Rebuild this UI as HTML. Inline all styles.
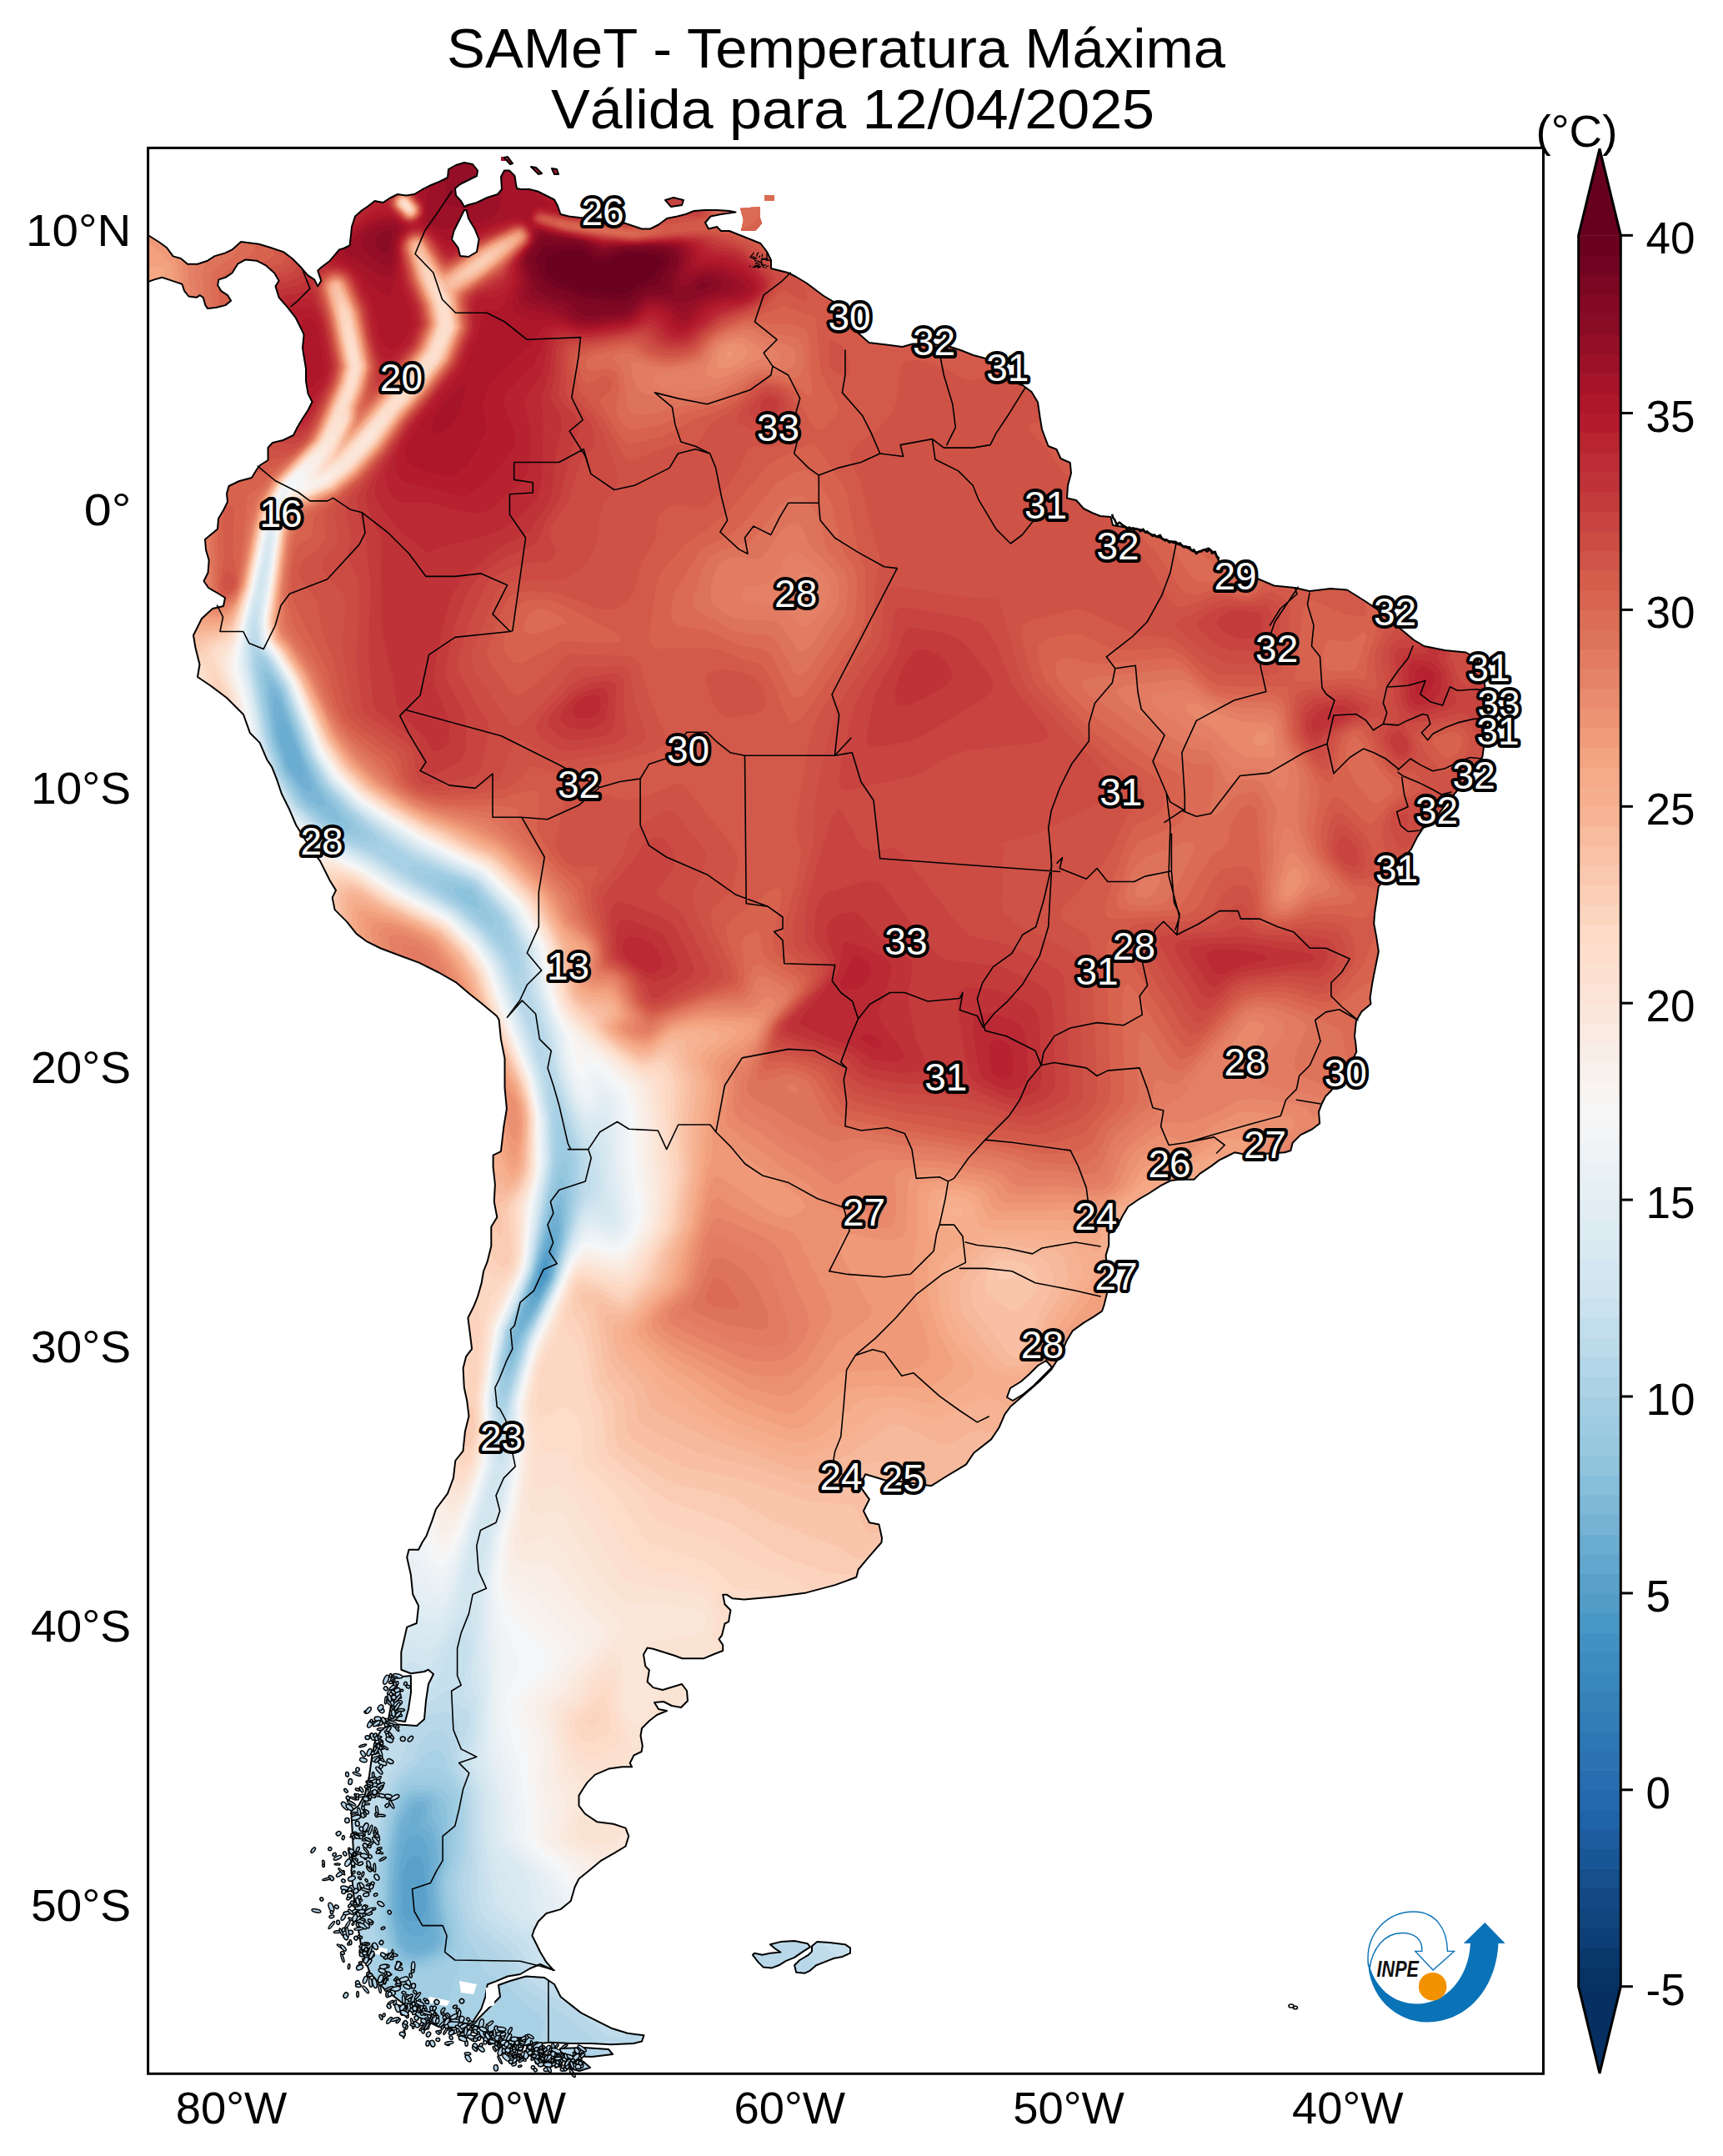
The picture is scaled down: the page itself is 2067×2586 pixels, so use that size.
<!DOCTYPE html><html><head><meta charset="utf-8"><style>html,body{margin:0;padding:0;background:#fff;overflow:hidden}svg{display:block}text{font-family:"Liberation Sans",sans-serif}</style></head><body>
<svg xmlns="http://www.w3.org/2000/svg" width="2067" height="2586" viewBox="0 0 2067 2586">
<rect width="2067" height="2586" fill="#fff"/>
<defs><clipPath id="land"><path d="M177.6 282.0 L190.3 290.0 L199.7 296.7 L207.7 307.4 L217.0 310.0 L225.0 316.7 L237.0 316.7 L249.1 312.7 L257.1 307.4 L270.4 303.4 L278.5 299.4 L289.1 290.0 L310.5 292.7 L323.8 296.7 L339.9 302.1 L350.5 310.0 L361.2 320.8 L369.2 330.1 L377.2 335.4 L381.2 343.4 L385.3 336.8 L381.2 324.8 L385.3 320.8 L395.9 312.7 L407.0 299.4 L412.0 298.0 L419.5 294.5 L421.0 282.0 L422.0 272.0 L426.0 259.5 L434.5 252.0 L442.0 247.0 L449.5 241.0 L459.5 243.0 L467.0 238.0 L477.0 233.0 L487.0 234.5 L497.0 233.0 L507.0 227.0 L517.0 222.0 L527.0 218.0 L537.0 213.0 L538.0 203.0 L547.0 198.0 L557.0 195.0 L567.0 197.0 L573.0 204.5 L572.0 211.0 L562.0 216.0 L552.0 221.0 L546.0 226.0 L547.0 234.5 L553.0 241.0 L557.0 248.0 L561.0 246.0 L572.0 243.0 L584.5 237.0 L597.0 233.0 L602.0 227.0 L601.0 212.0 L605.0 204.5 L611.0 204.5 L617.5 211.0 L619.0 221.0 L620.0 226.0 L625.0 227.0 L635.0 227.0 L645.0 229.5 L655.0 234.5 L665.0 239.5 L669.0 247.0 L672.5 257.0 L682.5 259.5 L695.0 261.0 L707.5 262.0 L725.0 263.0 L740.0 264.5 L755.0 269.5 L770.0 274.5 L780.0 274.5 L790.0 269.5 L800.0 262.0 L812.5 259.5 L822.5 257.0 L832.5 253.0 L845.0 252.0 L860.0 252.0 L875.0 253.0 L882.5 254.5 L865.0 257.0 L852.5 259.5 L846.0 267.0 L850.0 274.5 L860.0 272.0 L865.0 277.0 L875.0 277.0 L887.5 282.0 L900.0 287.0 L912.5 292.0 L920.0 302.0 L925.0 312.0 L925.0 322.0 L935.0 324.5 L945.0 327.0 L955.0 332.0 L967.5 339.5 L977.5 347.0 L987.5 354.5 L1000.0 362.0 L1012.0 372.0 L1022.0 386.0 L1030.0 400.0 L1042.5 411.0 L1067.5 414.0 L1082.5 416.0 L1095.0 412.5 L1117.5 412.5 L1140.0 416.0 L1152.5 420.0 L1167.5 426.0 L1182.5 430.0 L1200.0 440.0 L1215.0 457.5 L1227.5 462.5 L1237.5 470.0 L1245.0 482.5 L1247.5 500.0 L1250.0 515.0 L1257.5 535.0 L1267.5 539.0 L1272.5 550.0 L1283.8 555.0 L1285.0 567.5 L1281.0 582.5 L1280.0 597.5 L1291.0 600.0 L1300.0 610.0 L1310.0 615.0 L1320.0 619.0 L1332.5 620.0 L1335.0 630.0 L1350.0 632.5 L1367.5 635.0 L1385.0 642.5 L1405.0 650.0 L1420.0 655.0 L1435.0 662.5 L1450.0 657.5 L1459.0 665.0 L1462.0 673.0 L1480.0 683.0 L1508.5 694.0 L1528.5 702.5 L1553.5 705.0 L1571.0 709.0 L1596.0 706.0 L1616.0 707.5 L1636.0 720.0 L1651.0 730.0 L1666.0 742.0 L1681.0 755.0 L1696.0 767.5 L1708.5 775.0 L1733.5 780.0 L1758.5 782.5 L1772.0 790.0 L1781.0 820.0 L1783.5 840.0 L1783.0 865.0 L1781.0 887.5 L1778.5 907.5 L1766.0 925.0 L1751.0 945.0 L1736.0 962.5 L1716.0 990.0 L1707.6 992.8 L1700.2 1003.9 L1692.8 1018.7 L1670.0 1045.0 L1653.8 1063.3 L1652.0 1076.3 L1649.2 1094.8 L1648.2 1107.8 L1651.0 1122.6 L1653.8 1141.2 L1650.1 1159.7 L1646.4 1178.3 L1643.6 1196.8 L1644.5 1204.3 L1633.4 1213.5 L1626.9 1224.7 L1625.0 1243.2 L1626.2 1250.0 L1627.3 1261.6 L1623.9 1268.6 L1610.0 1290.0 L1597.2 1308.0 L1590.2 1315.0 L1585.5 1324.3 L1582.0 1333.6 L1583.2 1347.5 L1574.0 1354.5 L1560.0 1361.4 L1550.7 1370.7 L1548.4 1380.0 L1541.4 1382.3 L1515.0 1384.0 L1492.7 1384.6 L1481.0 1382.3 L1471.8 1387.0 L1462.5 1391.6 L1453.2 1398.6 L1439.3 1407.9 L1432.3 1414.8 L1416.0 1414.8 L1404.5 1416.0 L1392.9 1421.8 L1378.9 1431.0 L1365.0 1439.2 L1353.4 1447.3 L1346.4 1459.0 L1339.5 1472.9 L1330.2 1479.8 L1330.2 1493.8 L1326.7 1505.4 L1327.9 1528.6 L1327.9 1551.8 L1324.4 1565.7 L1322.0 1572.7 L1311.6 1579.7 L1300.0 1586.6 L1286.6 1596.4 L1279.7 1608.0 L1272.7 1624.3 L1261.1 1642.9 L1247.2 1656.8 L1228.6 1673.0 L1212.3 1687.0 L1205.4 1696.3 L1198.4 1712.5 L1189.1 1726.4 L1168.2 1742.7 L1158.9 1756.6 L1147.3 1763.6 L1135.7 1770.5 L1117.2 1782.2 L1100.9 1779.8 L1080.0 1777.0 L1061.4 1775.2 L1038.2 1768.2 L1031.3 1782.2 L1042.9 1798.4 L1035.9 1812.3 L1042.9 1826.3 L1054.5 1828.6 L1058.0 1844.8 L1057.5 1850.0 L1041.3 1868.6 L1029.7 1882.5 L1027.3 1891.8 L1001.8 1901.1 L967.0 1910.4 L932.2 1915.0 L892.7 1918.5 L878.8 1917.3 L871.8 1912.7 L867.2 1912.7 L869.5 1924.3 L876.4 1931.3 L874.1 1945.2 L869.5 1947.5 L866.0 1961.4 L862.5 1966.1 L867.2 1973.0 L867.2 1980.0 L857.9 1983.5 L843.9 1989.3 L818.4 1989.3 L809.1 1985.8 L783.6 1977.7 L776.6 1976.5 L772.0 1984.6 L774.3 1998.6 L778.9 2003.2 L776.6 2017.2 L783.6 2024.1 L795.0 2027.0 L808.0 2023.0 L818.0 2020.0 L824.0 2028.0 L825.0 2040.0 L817.0 2048.0 L806.0 2046.0 L796.0 2041.0 L785.0 2042.0 L790.0 2050.0 L800.0 2052.0 L788.0 2057.0 L779.0 2064.0 L770.0 2073.0 L768.5 2082.0 L770.8 2094.0 L769.6 2101.0 L760.4 2105.4 L755.7 2114.7 L758.0 2119.3 L746.4 2119.3 L730.2 2121.6 L713.9 2128.6 L704.6 2137.9 L700.0 2144.8 L694.5 2153.6 L694.5 2165.8 L701.8 2175.5 L716.4 2185.3 L735.9 2187.7 L750.5 2192.6 L754.2 2202.3 L750.5 2214.5 L738.3 2221.8 L721.3 2231.6 L706.6 2243.8 L694.5 2253.5 L689.6 2263.3 L684.7 2280.3 L672.5 2290.1 L655.4 2295.0 L645.7 2304.7 L640.8 2314.5 L638.4 2321.8 L643.3 2331.5 L648.1 2341.3 L655.4 2353.5 L664.0 2363.2 L648.0 2356.0 L636.0 2361.0 L624.0 2368.0 L609.0 2370.5 L594.5 2376.6 L584.8 2380.3 L582.3 2395.0 L577.4 2409.5 L572.6 2416.8 L565.3 2428.0 L545.0 2432.0 L526.3 2431.0 L501.9 2419.3 L482.4 2402.2 L460.4 2385.1 L443.4 2365.6 L433.6 2336.4 L426.3 2292.5 L421.4 2243.8 L423.9 2219.4 L421.4 2172.0 L430.0 2166.0 L438.0 2152.0 L443.0 2130.0 L446.0 2108.0 L450.0 2088.0 L458.0 2074.0 L470.0 2068.0 L486.0 2069.0 L500.0 2070.0 L509.0 2062.0 L511.0 2040.0 L514.0 2020.0 L520.0 2008.0 L513.8 2002.7 L509.1 2005.0 L492.9 2007.3 L481.3 2002.7 L481.3 1981.8 L488.2 1951.6 L499.8 1947.0 L502.1 1926.1 L495.2 1912.2 L492.9 1888.9 L488.2 1868.0 L490.5 1858.8 L502.1 1858.8 L506.8 1849.5 L511.4 1842.5 L518.4 1823.9 L523.0 1810.0 L537.0 1791.4 L543.9 1772.9 L546.3 1752.0 L555.5 1740.4 L557.9 1717.1 L562.5 1698.6 L560.2 1680.0 L556.8 1664.3 L555.6 1641.1 L559.1 1627.2 L566.1 1617.9 L563.8 1599.3 L561.4 1580.7 L568.4 1566.8 L573.0 1555.2 L577.7 1538.9 L580.0 1525.0 L584.6 1513.4 L589.3 1494.8 L589.3 1471.6 L596.3 1460.0 L592.8 1441.4 L593.9 1420.5 L591.6 1399.7 L591.6 1385.7 L600.9 1381.1 L604.4 1350.9 L607.9 1330.0 L605.5 1304.5 L605.5 1269.6 L600.9 1246.4 L598.6 1223.2 L596.0 1218.8 L578.6 1204.3 L564.1 1192.7 L546.7 1178.1 L526.4 1166.5 L503.1 1154.9 L479.9 1146.2 L456.7 1137.5 L439.3 1128.8 L427.7 1120.1 L416.1 1105.6 L401.6 1091.1 L398.7 1076.6 L403.0 1067.9 L395.8 1056.3 L384.2 1033.1 L369.6 1012.7 L355.1 989.5 L346.4 969.2 L337.7 951.8 L331.9 934.4 L326.1 919.9 L320.3 911.2 L311.6 890.9 L300.0 879.3 L292.0 857.0 L272.0 837.0 L252.0 822.0 L237.0 812.0 L239.5 797.0 L234.5 777.0 L232.0 762.0 L242.0 742.0 L255.0 730.0 L268.0 727.0 L270.0 717.0 L262.0 712.0 L250.0 705.0 L244.5 697.0 L249.5 687.0 L250.7 672.0 L247.0 659.5 L246.0 647.0 L252.0 642.0 L261.0 634.5 L262.0 622.0 L268.0 612.0 L273.0 602.0 L272.0 592.0 L274.5 583.0 L287.0 577.0 L302.0 573.0 L308.0 563.0 L312.0 558.0 L321.5 552.0 L321.5 537.0 L327.0 531.0 L339.5 528.0 L352.0 522.0 L357.0 512.0 L363.0 502.0 L369.5 492.0 L374.5 482.0 L369.5 472.0 L367.0 457.0 L367.0 442.0 L364.5 427.0 L363.0 417.0 L364.5 402.0 L363.9 399.5 L354.5 380.8 L345.2 368.8 L334.6 356.8 L330.5 343.4 L334.6 336.8 L329.2 327.4 L318.5 318.1 L307.8 312.7 L294.5 311.4 L285.1 316.7 L278.5 327.4 L270.4 332.8 L262.4 335.4 L261.1 342.1 L265.1 348.8 L273.1 354.1 L277.1 360.8 L270.4 366.1 L259.8 368.8 L249.1 370.1 L246.4 366.1 L243.7 356.8 L239.7 354.1 L235.7 356.8 L226.4 355.5 L221.1 348.8 L218.4 340.8 L210.4 338.1 L202.4 335.4 L194.4 332.8 L185.0 335.4 L177.6 338.1 Z M557.0 252.0 L552.0 262.0 L544.5 277.0 L542.0 287.0 L549.5 297.0 L552.0 307.0 L562.0 308.0 L572.0 302.0 L574.5 287.0 L569.5 274.5 L562.0 262.0 L559.5 252.0 Z M1255.0 1632.0 L1262.0 1640.0 L1250.0 1652.0 L1240.0 1662.0 L1228.0 1672.0 L1215.0 1680.0 L1208.0 1676.0 L1212.0 1665.0 L1225.0 1657.0 L1235.0 1648.0 L1245.0 1638.0 Z M631.0 2370.5 L653.0 2372.0 L665.0 2380.0 L669.0 2387.8 L672.5 2395.0 L684.7 2404.6 L697.1 2414.4 L716.4 2424.2 L733.4 2432.7 L752.9 2438.8 L772.5 2441.2 L770.0 2448.5 L760.3 2451.0 L733.4 2452.2 L709.0 2451.0 L684.7 2451.0 L660.3 2449.7 L636.0 2452.2 L614.0 2455.8 L599.4 2453.4 L580.0 2445.0 L565.0 2432.0 L575.0 2420.0 L590.0 2405.0 L600.0 2395.0 L598.0 2381.0 L612.0 2376.0 Z M472.6 2012.0 L492.9 2010.0 L493.0 2030.0 L490.0 2050.0 L486.0 2065.0 L466.0 2062.0 L470.0 2040.0 Z M923.9 2332.2 L936.4 2329.1 L953.1 2328.1 L968.8 2331.2 L971.9 2335.4 L963.6 2340.6 L953.1 2347.9 L942.7 2352.1 L934.3 2357.3 L926.0 2360.4 L915.5 2359.4 L909.3 2353.1 L903.0 2344.8 L905.1 2342.7 L914.5 2344.8 L923.9 2342.7 L936.4 2341.6 L930.1 2337.5 Z M974.0 2334.3 L980.3 2329.1 L994.9 2330.1 L1013.7 2332.2 L1020.0 2336.4 L1020.0 2342.7 L1010.6 2346.9 L1000.1 2349.0 L989.7 2353.1 L979.2 2357.3 L971.9 2363.6 L965.7 2366.7 L955.2 2365.7 L953.1 2357.3 L959.4 2351.0 L969.8 2344.8 L974.0 2340.6 Z M672.0 2457.0 L700.0 2456.0 L730.0 2458.0 L735.0 2464.0 L710.0 2467.0 L685.0 2466.0 L672.0 2462.0 Z M683.0 2474.0 L700.0 2473.0 L708.0 2480.0 L695.0 2484.0 L684.0 2481.0 Z M798.0 240.0 L808.0 237.0 L820.0 240.0 L818.0 246.0 L805.0 248.0 Z M605.0 189.0 L609.0 188.0 L615.0 196.0 L612.0 197.0 Z M637.0 200.0 L643.0 201.0 L650.0 208.0 L646.0 209.0 Z M662.0 202.0 L668.0 203.0 L670.0 209.0 L665.0 209.0 Z M888.0 250.0 L912.0 248.0 L912.0 262.0 L914.0 268.0 L906.0 277.0 L889.0 277.0 L892.0 264.0 Z M917.0 234.0 L929.0 234.0 L929.0 241.0 L917.0 241.0 Z M601.0 188.0 L608.0 188.0 L608.0 193.0 L601.0 193.0 Z" clip-rule="evenodd"/></clipPath></defs>
<g clip-path="url(#land)"><rect x="170" y="170" width="1690" height="2330" fill="#053061"/>
<path fill="#063264" fill-rule="evenodd" d="M172 172l1684 0 0 2316 -1684 0z"/>
<path fill="#09386d" fill-rule="evenodd" d="M172 172l1684 0 0 2316 -1684 0z"/>
<path fill="#0d3f76" fill-rule="evenodd" d="M172 172l1684 0 0 2316 -1684 0z"/>
<path fill="#0f437b" fill-rule="evenodd" d="M172 172l1684 0 0 2316 -1684 0z"/>
<path fill="#124984" fill-rule="evenodd" d="M172 172l1684 0 0 2316 -1684 0z"/>
<path fill="#15508d" fill-rule="evenodd" d="M172 172l1684 0 0 2316 -1684 0z"/>
<path fill="#195696" fill-rule="evenodd" d="M172 172l1684 0 0 2316 -1684 0z"/>
<path fill="#1c5c9f" fill-rule="evenodd" d="M172 172l1684 0 0 2316 -1684 0z"/>
<path fill="#1f63a8" fill-rule="evenodd" d="M172 172l1684 0 0 2316 -1684 0z"/>
<path fill="#2369ad" fill-rule="evenodd" d="M172 172l1684 0 0 2316 -1684 0z"/>
<path fill="#266caf" fill-rule="evenodd" d="M172 172l1684 0 0 2316 -1684 0z"/>
<path fill="#2a71b2" fill-rule="evenodd" d="M172 172l1684 0 0 2316 -1684 0z"/>
<path fill="#2e77b5" fill-rule="evenodd" d="M172 172l1684 0 0 2316 -1684 0z"/>
<path fill="#327cb7" fill-rule="evenodd" d="M172 172l1684 0 0 2316 -1684 0z"/>
<path fill="#3681ba" fill-rule="evenodd" d="M172 172l1684 0 0 2316 -1684 0z"/>
<path fill="#3a87bd" fill-rule="evenodd" d="M172 172l1684 0 0 2316 -1684 0z"/>
<path fill="#3c8abe" fill-rule="evenodd" d="M172 172l1684 0 0 2316 -1684 0z"/>
<path fill="#408fc1" fill-rule="evenodd" d="M172 172l1684 0 0 2316 -1684 0z"/>
<path fill="#4695c4" fill-rule="evenodd" d="M172 172l1684 0 0 2316 -1684 0z"/>
<path fill="#4f9bc7" fill-rule="evenodd" d="M172 172l1684 0 0 2316 -1684 0zM652 1522l-4 10 4 4 3 -8 0 -4z"/>
<path fill="#59a1ca" fill-rule="evenodd" d="M172 172l1684 0 0 2316 -1684 0zM656 1508l-8 17 -4 15 0 6 4 -1 9 -13 1 -16z"/>
<path fill="#62a7ce" fill-rule="evenodd" d="M172 172l1684 0 0 2316 -1684 0zM492 2227l-4 6 -5 15 -1 40 2 8 4 6 8 3 8 -2 5 -7 2 -8 -1 -40 -2 -12 -4 -8 -4 -2 -4 -1zM660 1495l-4 4 -8 21 -8 28 0 9 4 -2 4 -5 10 -18 4 -24 0 -8z"/>
<path fill="#6bacd1" fill-rule="evenodd" d="M172 172l1684 0 0 2316 -1684 0zM492 2202l-4 5 -4 9 -4 19 -2 17 -1 40 3 11 8 15 8 5 4 0 4 0 8 -6 4 -9 -2 -48 2 -24 -4 -22 -4 -8 -8 -5zM664 1482l-4 3 -8 18 -16 53 0 12 8 -8 16 -28 5 -32z"/>
<path fill="#71b0d3" fill-rule="evenodd" d="M172 172l1684 0 0 2316 -1684 0zM336 859l-2 9 1 16 9 27 3 9 5 6 8 7 4 -1 0 -6 -4 -13 -12 -33 -8 -17zM500 2167l-4 2 -2 3 -4 16 -6 4 -2 4 -6 36 -3 52 3 21 8 23 6 8 10 3 8 -1 8 -5 5 -5 1 -8 -4 -56 3 -28 -1 -17 -4 -17 -4 -5 -8 -5 -2 -4 3 -8 1 -8 -2 -4zM664 1470l-8 16 -20 64 -6 26 1 4 5 -5 8 -11 17 -32 8 -48 -1 -12z"/>
<path fill="#7bb6d6" fill-rule="evenodd" d="M172 172l1684 0 0 2316 -1684 0zM328 834l0 21 4 29 12 36 16 22 8 7 4 2 2 -3 0 -4 -6 -20 -28 -72 -8 -16zM496 2162l-6 6 -10 20 -2 8 -7 52 -1 40 4 24 6 20 8 10 12 3 12 -3 10 -6 5 -8 1 -8 -5 -32 -2 -24 5 -32 -3 -24 -5 -16 -7 -8 2 -12 -2 -8 -7 -3zM664 1459l-8 21 -14 48 -18 54 -2 10 2 4 20 -29 18 -35 10 -56 -2 -16 -2 -4z"/>
<path fill="#84bcd9" fill-rule="evenodd" d="M172 172l1684 0 0 2316 -1684 0zM324 823l-1 13 5 41 4 16 11 31 25 33 16 10 6 1 -1 -8 -8 -12 -16 -36 -29 -77 -4 -8 -4 -4zM500 2155l-8 4 -5 5 -7 13 -5 15 -6 36 -2 44 1 24 8 36 8 12 4 3 8 2 16 -3 12 -6 7 -8 1 -8 -7 -56 0 -12 5 -24 -1 -20 -4 -20 -7 -16 0 -12 -2 -4 -6 -4zM668 1444l-4 5 -4 10 -18 65 -26 75 0 16 28 -46 19 -37 9 -42 2 -18 -1 -24 -1 -3z"/>
<path fill="#8dc2dc" fill-rule="evenodd" d="M172 172l1684 0 0 2316 -1684 0zM320 816l0 20 7 48 14 40 19 29 8 9 32 22 8 2 0 -6 -26 -36 -15 -32 -31 -84 -8 -10 -4 -3zM496 2151l-8 5 -4 5 -8 16 -4 13 -6 38 -2 48 1 16 2 20 7 24 4 8 6 6 12 3 16 -3 13 -6 8 -8 3 -12 -6 -36 -2 -24 0 -8 6 -28 -4 -44 -4 -12 -2 -12 -2 -4 -10 -5zM672 1431l-4 2 -8 18 -19 73 -26 72 -4 24 1 15 4 -6 9 -25 19 -32 20 -40 11 -48 2 -16 0 -28z"/>
<path fill="#96c7df" fill-rule="evenodd" d="M172 172l1684 0 0 2316 -1684 0zM320 806l-4 3 0 7 7 52 3 20 14 39 20 30 8 9 36 27 8 2 4 1 4 -2 0 -6 -3 -4 -33 -42 -17 -34 -31 -83 -8 -12zM492 2148l-6 4 -6 7 -11 33 -5 36 -2 60 4 32 6 20 8 12 8 4 8 1 16 -3 16 -7 10 -11 2 -12 -7 -40 -2 -20 0 -8 6 -28 -1 -60 -6 -12 -10 -8 -12 -2zM544 1067l2 5 14 12 12 6 4 -1 -3 -9 -9 -13 -16 -3zM672 1413l-12 30 -21 85 -27 72 -5 36 1 12 4 -3 15 -41 17 -30 20 -42 12 -48 4 -32 0 -16 -2 -16 -2 -7z"/>
<path fill="#9dcbe1" fill-rule="evenodd" d="M172 172l1684 0 0 2316 -1684 0zM316 798l-3 2 -1 8 8 56 5 24 14 40 24 36 33 27 8 6 12 4 12 1 4 -2 0 -4 -6 -8 -41 -48 -16 -32 -30 -80 -15 -23zM488 2143l-6 5 -6 12 -10 32 -6 40 -1 60 4 32 9 25 6 7 6 4 16 1 16 -3 16 -9 9 -9 3 -8 0 -12 -7 -36 -3 -24 8 -32 1 -60 -3 -12 -4 -5 -8 -6 -8 -3 -12 -1 -12 0zM532 1056l-4 0 -2 4 7 8 43 33 12 7 4 0 1 -4 -4 -8 -21 -30 -15 -6zM676 1391l-4 6 -12 39 -21 92 -14 36 -13 32 -8 44 0 12 4 5 8 -15 13 -38 15 -27 20 -41 13 -48 5 -28 2 -24 -3 -36 -1 -5z"/>
<path fill="#a2cde3" fill-rule="evenodd" d="M172 172l1684 0 0 2316 -1684 0zM312 792l-2 4 -1 8 11 69 3 15 11 32 6 13 20 31 40 34 28 10 8 2 7 -2 0 -4 -4 -8 -19 -19 -33 -37 -17 -32 -31 -84 -19 -28 -4 -4zM508 2132l-20 5 -5 3 -6 8 -13 40 -6 44 -2 64 3 24 7 28 3 8 7 7 8 3 8 2 20 -2 20 -9 13 -13 4 -12 -1 -16 -7 -32 -3 -24 8 -36 2 -52 -1 -16 -7 -12 -8 -6 -12 -5zM523 1048l-14 0 0 4 7 8 36 25 44 37 4 3 4 0 1 -9 -4 -12 -32 -40 -7 -4 -24 -8zM676 1368l-4 1 -2 19 -14 56 -17 80 -29 76 -7 40 -1 16 2 12 4 -3 4 -8 18 -53 18 -33 17 -35 14 -52 7 -44 0 -36 -1 -16z"/>
<path fill="#a9d1e5" fill-rule="evenodd" d="M172 172l1684 0 0 2316 -1288 0 0 -28 -16 -17 -4 -8 -6 -19 -2 -16 2 -16 12 -32 2 -12 -13 -80 8 -36 1 -68 -4 -12 -12 -14 -12 -9 -8 -1 -12 3 -20 10 -7 7 -5 12 -11 36 -7 48 -1 60 1 20 5 24 -1 12 -6 15 -12 20 -28 36 -22 17 -2 4 -4 0 -4 4 -4 0 -4 4 -4 0 -4 4 -4 0 -4 4 -4 0 -4 4 -4 0 -4 4 -4 0 -4 4 -4 0 -4 4 -4 0 -4 4 -4 0 -4 4 -4 0 -4 4 -128 0zM312 787l-4 1 -1 12 13 81 14 43 10 18 16 25 40 34 36 14 8 1 11 0 0 -4 -1 -4 -6 -8 -28 -26 -31 -34 -19 -36 -30 -80 -20 -31zM492 1039l-2 1 2 4 12 12 48 32 32 28 24 25 4 2 4 -3 -4 -16 -8 -21 -32 -40 -8 -5 -41 -14 -19 -5zM672 1343l-4 4 -2 45 -27 128 -31 82 -8 50 0 21 4 5 8 -15 19 -59 17 -31 17 -37 17 -60 7 -40 1 -44 -10 -32z"/>
<path fill="#b1d5e7" fill-rule="evenodd" d="M172 172l1684 0 0 2316 -1117 0 -3 -5 -12 -14 -8 -4 -16 -4 -8 3 -5 4 -5 8 -4 12 -64 0 3 -8 6 -8 26 -28 4 -16 0 -4 -6 -8 -19 -15 -20 -21 -28 -16 -7 -20 -12 -20 -10 -40 -3 -24 8 -36 1 -56 -1 -16 -4 -10 -12 -18 -8 -20 -4 -4 -8 -2 -8 4 -12 14 -24 18 -5 10 -10 32 -4 16 -6 44 -1 40 -3 20 5 44 -4 8 -20 13 -230 115 -10 6 -6 6 -10 0zM308 781l-3 7 0 12 15 88 14 40 22 37 44 38 52 21 58 40 38 24 36 32 23 28 9 16 4 4 4 -5 -1 -19 -15 -40 -36 -43 -9 -5 -71 -26 -32 -22 -40 -36 -28 -30 -21 -38 -29 -80 -22 -34 -8 -7zM664 1319l0 69 -2 16 -24 120 -31 76 -8 44 -1 32 2 10 4 1 8 -19 20 -64 16 -29 18 -39 15 -52 10 -44 2 -12 0 -40 -17 -52 -8 -16z"/>
<path fill="#b8d8e9" fill-rule="evenodd" d="M172 172l1684 0 0 2316 -916 0 0 -60 -4 0 -4 4 -4 0 -4 4 0 4 4 4 0 44 -183 0 -17 -30 -52 -42 -43 -28 -33 -41 -32 -31 -8 -23 -5 -33 0 -8 6 -24 -1 -76 -4 -12 -11 -20 -7 -36 -6 -7 -4 -2 -8 1 -8 5 -8 11 -11 20 -17 15 -6 9 -16 56 -7 44 -2 44 -5 9 -16 17 -24 17 -10 5 -2 2 -7 2 -13 7 -9 1 -7 4 -8 0 -8 4 -16 0 -4 4 -20 0 -4 4 -20 0 -4 4 -20 0 -4 4 -20 0 -4 4 -48 0zM304 778l-1 22 16 88 13 40 24 39 42 37 50 21 51 35 52 32 30 28 22 28 17 36 8 11 2 -7 1 -8 -4 -36 -15 -36 -7 -12 -33 -38 -76 -30 -32 -22 -48 -41 -24 -26 -18 -31 -34 -89 -20 -31 -12 -12zM660 1293l-2 3 0 8 3 40 1 52 -24 124 -16 44 -15 32 -7 36 -4 48 4 16 4 1 28 -89 35 -72 16 -52 13 -52 1 -44 -17 -50 -12 -30z"/>
<path fill="#c0dceb" fill-rule="evenodd" d="M172 172l1684 0 0 2316 -874 0 -1 -124 -2 -8 -7 -8 -4 -12 -8 -7 -8 -2 -36 2 -12 2 -13 9 -19 16 -18 20 -1 4 7 2 36 -7 8 1 -56 26 -5 6 -1 4 38 64 4 12 -132 0 -3 -8 -6 -8 -2 -8 3 -5 20 -11 8 -8 -8 0 -20 5 -8 -1 -8 -3 -42 -33 -46 -29 -10 -11 -19 -28 -32 -28 -7 -9 -5 -15 -3 -24 3 -36 -2 -76 -2 -8 -11 -20 -2 -8 -2 -20 3 -28 -11 -12 -8 -4 -24 7 -8 -1 -12 -9 -4 1 -4 5 -4 17 0 8 2 4 6 4 2 4 -1 8 -5 12 -13 16 -5 12 -12 48 -8 48 -2 36 -4 7 -16 6 -248 40 0 -317 12 3 124 48 20 5 68 10 8 -3 2 -3 2 -8 -9 -56 -3 -7 -6 -5 -78 -32 -35 -12 -85 -11 -20 0zM304 765l-3 11 0 24 17 88 13 40 21 36 8 9 36 32 52 23 41 28 59 36 31 28 24 32 36 92 15 56 5 40 2 52 -24 128 -16 44 -15 32 -8 40 -4 44 6 26 4 2 4 -11 3 -17 22 -72 35 -72 31 -100 3 -16 -1 -32 -36 -96 -13 -55 -15 -41 -8 -56 -18 -40 -35 -40 -8 -6 -68 -28 -8 -4 -28 -19 -40 -32 -30 -31 -20 -36 -30 -80 -19 -32 -14 -16z"/>
<path fill="#c7e0ed" fill-rule="evenodd" d="M172 172l1684 0 0 2316 -832 0 0 -100 4 -4 8 -2 2 -2 -1 -4 -5 -2 0 -2 -4 0 -8 -7 -2 -5 -2 0 -2 -4 -2 -1 -2 -3 -27 -24 -19 -13 -12 -5 -4 0 -16 5 -28 2 -7 3 -32 24 -93 76 -20 11 -12 2 -12 -7 -84 -59 -10 -11 -14 -23 -26 -21 -12 -12 -5 -8 -4 -20 -3 -116 -3 -12 -10 -20 -3 -12 1 -16 7 -24 2 -12 -3 -8 -9 -4 -3 -4 -9 -17 -4 0 -16 11 -8 4 -8 -1 -12 -10 -4 -1 -4 2 -8 13 -4 11 -32 109 -8 11 -8 6 -8 2 -12 -1 -7 -3 -8 -8 -1 -10 -3 -2 -1 -9 -4 -3 0 -13 -4 -3 0 -4 0 -12 4 -1 0 -3 4 -1 0 -3 4 -2 1 -2 15 -14 7 -10 2 -8 0 -16 -6 -36 -4 -20 -4 -8 -7 -5 -12 -6 -87 -33 -29 -6 -72 -8 -20 -1zM304 750l-5 26 1 24 15 84 14 44 23 39 44 40 52 24 36 25 60 35 32 29 24 32 35 92 15 48 4 24 4 28 1 48 -23 128 -16 43 -15 33 -7 40 -5 44 6 32 1 4 4 2 4 -9 4 -29 22 -72 34 -72 24 -74 16 -34 1 -8 -3 -32 -10 -21 -26 -71 -14 -58 -15 -42 -9 -56 -22 -44 -34 -38 -8 -5 -72 -31 -32 -22 -37 -28 -31 -32 -21 -36 -31 -82 -18 -30 -16 -20 -2 -14zM172 2064l4 0 4 4 8 0 4 4 4 0 4 4 8 0 4 4 4 0 4 4 8 0 4 4 8 0 4 4 4 0 4 4 8 0 4 4 4 0 4 4 12 0 4 4 24 0 4 4 24 0 4 4 18 0 -1 8 -3 4 -1 8 -3 4 -6 22 -2 2 -2 24 -2 4 -1 36 -3 8 0 12 -2 4 -20 0 -4 4 -20 0 -4 4 -20 0 -4 4 -24 0 -4 4 -20 0 -4 4 -20 0 -4 4 -16 0zM816 2484l4 0 0 4 -12 0 4 0z"/>
<path fill="#cce2ef" fill-rule="evenodd" d="M172 172l1684 0 0 2124 -12 -2 -12 -4 -322 -122 -57 -16 -53 -11 -40 -4 -28 -1 -20 -3 -28 -1 -24 -4 -120 0 -8 4 -54 88 -32 48 -26 34 -12 11 -8 4 -8 0 -12 -6 -24 -15 -12 -4 -20 10 -28 3 -5 3 -13 12 -23 16 -99 79 -8 4 -8 1 -8 -4 -16 -10 -68 -51 -8 -10 -8 -18 -28 -18 -12 -13 -8 -12 -2 -12 -2 -28 -4 -36 -2 -56 -4 -12 -9 -20 -2 -8 2 -12 7 -27 1 -17 -2 -12 -9 -8 -2 -4 1 -16 6 -32 -3 -20 -3 -4 -5 0 -12 15 -16 39 -4 7 -4 3 -8 1 -16 -13 -4 0 -4 4 -12 24 -24 64 -8 15 -4 3 -4 -2 -9 -20 -4 -44 -12 -56 -3 -8 -8 -9 -16 -8 -44 -18 -44 -13 -21 -4 -43 -5 -36 -4 -20 -1zM308 736l-4 2 -4 19 -3 19 1 24 18 91 12 37 20 36 8 10 38 34 50 23 37 25 63 37 34 31 22 32 33 88 14 44 9 52 2 52 -22 128 -16 41 -15 35 -9 44 -4 44 8 51 4 0 4 -13 6 -42 21 -72 34 -72 27 -79 8 -13 10 -12 2 -16 -3 -28 -13 -21 -22 -55 -8 -24 -11 -48 -17 -48 -8 -52 -22 -44 -36 -40 -80 -37 -32 -21 -36 -27 -32 -33 -20 -34 -32 -84 -16 -26 -16 -22 -3 -20z"/>
<path fill="#d2e6f0" fill-rule="evenodd" d="M172 172l1684 0 0 2121 -16 -3 -333 -126 -58 -16 -45 -9 -44 -5 -24 -1 -24 -3 -24 -1 -24 -3 -124 -1 -8 2 -4 4 -54 85 -30 43 -16 20 -16 14 -12 5 -8 0 -8 -1 -12 -6 -24 -15 -8 -2 -8 2 -8 8 -8 6 -28 4 -4 2 -14 16 -25 16 -91 72 -10 6 -8 -1 -12 -6 -24 -17 -44 -34 -7 -8 -5 -14 -4 -6 -28 -16 -12 -13 -8 -15 -11 -68 -2 -56 -14 -36 0 -8 6 -28 2 -28 -1 -15 -6 -13 -2 -8 4 -44 -1 -20 -3 -15 -4 -2 -8 8 -36 57 -4 3 -4 -1 -12 -8 -4 -1 -4 2 -8 13 -28 65 -8 11 -4 0 -4 -4 -8 -18 -18 -70 -22 -26 -8 -7 -24 -6 -80 -15 -84 -9 -20 -1zM308 720l-8 26 -4 30 1 24 18 92 12 36 21 38 8 10 36 32 52 25 36 25 64 36 32 30 22 32 33 88 15 48 9 48 2 52 -22 128 -15 40 -16 35 -8 41 -6 44 5 40 1 21 4 17 4 -6 4 -15 7 -57 21 -72 32 -68 28 -77 8 -13 12 -8 4 -5 1 -9 -1 -32 -1 -12 -3 -6 -12 -13 -4 -7 -17 -38 -12 -36 -9 -44 -17 -48 -9 -52 -22 -44 -38 -42 -72 -33 -12 -7 -64 -45 -32 -32 -19 -33 -32 -84 -17 -28 -15 -20 -4 -28 1 -20z"/>
<path fill="#d7e8f1" fill-rule="evenodd" d="M172 172l1684 0 0 2119 -20 -5 -323 -122 -25 -8 -31 -8 -57 -12 -20 -1 -17 -3 -31 -1 -17 -3 -31 -1 -16 -3 -128 -1 -8 1 -6 4 -66 100 -20 25 -16 14 -20 10 -20 1 -16 -4 -28 -17 -8 -1 -4 1 -20 20 -8 2 -16 2 -8 3 -13 20 -28 16 -91 71 -8 1 -8 -3 -40 -27 -28 -23 -5 -7 -5 -12 -6 -8 -20 -11 -8 -6 -12 -17 -7 -18 -12 -56 -1 -52 -13 -36 6 -64 -1 -23 -5 -25 2 -72 2 -40 11 -52 10 -36 12 -53 4 -27 3 -40 12 -44 9 -32 33 -68 11 -33 16 -39 8 -12 8 -4 12 -3 2 -5 -2 -61 -4 -15 -4 -4 -8 -4 -8 -10 -16 -32 -11 -34 -9 -44 -17 -48 -9 -52 -22 -44 -40 -44 -76 -35 -32 -21 -40 -29 -31 -31 -17 -28 -34 -88 -18 -30 -14 -18 -3 -28 3 -36 4 -24 2 -4 0 -13 -4 11 -6 30 -10 32 -5 36 0 24 8 32 10 56 14 44 23 40 39 36 7 5 48 22 36 25 64 36 30 28 12 16 12 20 31 84 17 52 8 48 1 44 -1 16 -8 40 -12 76 -15 40 -15 32 -9 44 -6 44 5 40 0 40 -26 89 -10 39 -8 44 -14 24 -12 16 -8 7 -4 2 -4 -1 -12 -5 -4 0 -4 4 -8 13 -20 43 -8 10 -4 0 -5 -5 -11 -18 -14 -30 -10 -16 -7 -20 -5 -7 -4 -2 -24 -4 -56 -2 -120 -15 -20 0z"/>
<path fill="#dbeaf2" fill-rule="evenodd" d="M172 172l1684 0 0 2118 -16 -4 -334 -126 -60 -16 -42 -9 -40 -4 -28 -1 -20 -3 -28 -1 -24 -4 -128 -1 -8 2 -4 4 -56 82 -16 19 -16 14 -28 14 -12 2 -16 0 -16 -2 -28 -16 -8 -3 -4 1 -8 6 -16 20 -8 3 -16 2 -7 3 -14 24 -31 17 -72 57 -12 7 -8 1 -8 -4 -40 -27 -18 -15 -14 -22 -19 -14 -7 -8 -12 -32 -14 -21 -8 -25 -2 -18 -1 -40 -10 -28 -2 -12 3 -68 0 -23 -3 -21 -1 -20 2 -76 1 -12 8 -44 13 -47 8 -37 6 -40 3 -44 20 -72 33 -68 14 -40 16 -34 8 -7 8 -1 12 2 5 -4 0 -8 -3 -32 -1 -32 -3 -20 -2 -8 -4 -6 -12 0 -8 -7 -12 -21 -13 -38 -9 -44 -17 -48 -10 -56 -24 -44 -39 -42 -76 -35 -32 -21 -40 -28 -29 -30 -18 -28 -34 -88 -19 -31 -13 -17 -1 -4 -2 -24 10 -72 1 -12 -3 -5 -11 49 -11 40 -5 32 1 24 7 32 10 56 15 44 23 40 39 37 8 6 46 21 35 24 65 36 30 28 15 20 7 12 33 88 16 48 10 52 1 44 -1 16 -8 40 -12 76 -15 40 -15 32 -9 44 -6 44 4 40 -1 40 -23 76 -13 48 -10 44 -5 11 -12 16 -8 6 -4 1 -4 0 -12 -5 -4 -1 -4 2 -8 10 -16 30 -8 9 -4 -1 -4 -4 -32 -51 -7 -7 -5 -2 -44 -4 -64 -2 -108 -12 -20 0z"/>
<path fill="#e0ecf3" fill-rule="evenodd" d="M172 172l1684 0 0 2116 -16 -3 -330 -125 -58 -16 -48 -10 -44 -5 -24 -1 -24 -3 -24 -1 -24 -3 -132 -2 -4 1 -5 4 -39 56 -16 20 -8 8 -12 9 -36 18 -20 3 -32 -1 -12 -5 -20 -11 -8 -2 -4 1 -8 8 -16 22 -8 4 -20 4 -4 3 -4 7 -6 16 -6 7 -24 11 -11 6 -69 54 -8 3 -8 -3 -20 -15 -24 -15 -12 -10 -10 -14 -18 -20 -4 -28 -3 -8 -5 -8 -24 -25 -8 -19 -2 -48 -10 -32 -2 -16 2 -80 -4 -52 2 -76 9 -52 11 -40 9 -44 5 -36 2 -44 20 -72 32 -68 14 -37 16 -31 8 -7 8 0 16 5 4 0 4 -6 0 -12 -6 -36 -2 -44 -3 -28 -1 -4 -4 -5 -12 6 -4 1 -4 -2 -8 -8 -7 -12 -12 -36 -9 -44 -17 -48 -11 -56 -23 -44 -33 -36 -8 -7 -72 -34 -36 -22 -40 -29 -31 -32 -17 -28 -32 -84 -19 -32 -13 -16 -1 -4 -2 -24 4 -36 7 -36 1 -28 -1 -8 -4 11 -13 61 -10 36 -5 32 0 24 8 32 10 56 14 43 24 43 40 37 52 26 36 24 64 35 32 30 10 14 12 20 32 84 17 52 9 48 1 44 -1 16 -8 40 -11 76 -16 40 -15 32 -9 44 -5 44 3 40 -2 40 -25 80 -20 75 -5 13 -7 10 -8 6 -4 1 -6 -1 -14 -7 -4 0 -8 7 -16 22 -4 2 -4 -1 -8 -11 -32 -54 -8 -10 -4 -3 -4 0 -1 3 -7 36 -4 5 -8 2 -96 -2 -100 -11 -20 0z"/>
<path fill="#e4eef4" fill-rule="evenodd" d="M172 172l1684 0 0 2115 -20 -5 -323 -122 -56 -16 -53 -11 -41 -5 -27 -1 -21 -3 -27 -1 -24 -3 -112 -1 -20 -2 -8 2 -4 4 -36 48 -16 16 -8 5 -48 23 -16 2 -40 0 -12 -3 -24 -12 -8 -1 -4 2 -21 29 -7 8 -8 3 -12 2 -8 5 -4 8 -6 18 -6 8 -36 16 -64 49 -8 2 -4 -1 -24 -20 -20 -11 -8 -6 -14 -17 -5 -8 -3 -20 -6 -16 -35 -40 -5 -8 -2 -8 -2 -44 -11 -40 -3 -20 2 -80 -4 -48 1 -68 8 -52 11 -41 8 -39 5 -40 2 -44 20 -72 30 -64 15 -39 16 -29 4 -4 8 -2 16 6 8 2 4 -2 5 -8 1 -12 -7 -44 -3 -56 -3 -24 -3 -8 -6 -3 -12 12 -4 1 -4 0 -8 -7 -4 -7 -13 -36 -9 -44 -11 -28 -7 -20 -10 -56 -26 -48 -39 -40 -73 -34 -36 -23 -39 -27 -31 -32 -17 -28 -33 -84 -19 -32 -12 -16 -1 -4 -2 -24 10 -68 4 -40 0 -15 -8 21 -14 66 -10 36 -5 32 0 24 8 32 10 56 14 44 25 44 38 36 54 26 36 25 64 35 32 30 6 8 15 24 33 88 16 48 9 48 1 44 -1 16 -9 40 -10 76 -16 40 -15 32 -9 44 -5 44 3 40 -3 40 -44 144 -7 16 -4 6 -4 2 -8 1 -20 -11 -8 2 -12 10 -4 0 -4 -2 -52 -86 -8 -11 -8 -5 -4 1 -4 8 -3 21 2 60 -1 8 -6 6 -8 2 -88 -2 -44 -4 -56 -7 -20 0z"/>
<path fill="#e9f0f4" fill-rule="evenodd" d="M172 172l1684 0 0 2114 -16 -3 -335 -127 -61 -16 -40 -9 -40 -4 -28 -1 -20 -3 -28 -1 -24 -3 -112 -1 -24 -3 -5 1 -5 4 -22 27 -20 17 -32 14 -32 17 -12 2 -52 0 -12 -3 -24 -11 -8 1 -8 8 -24 34 -8 4 -16 5 -4 4 -4 8 -6 21 -5 8 -41 18 -56 42 -4 1 -8 -1 -28 -25 -20 -12 -5 -7 -4 -20 -8 -16 -9 -12 -26 -28 -8 -12 -3 -8 -3 -48 -13 -48 -3 -20 1 -84 -3 -52 0 -52 7 -48 11 -40 8 -40 4 -40 2 -44 20 -71 18 -37 26 -64 16 -27 4 -4 8 -2 20 8 8 -1 7 -6 3 -8 0 -16 -7 -40 -5 -84 -6 -12 -8 -5 -4 1 -8 12 -4 4 -4 0 -6 -4 -6 -10 -11 -30 -8 -44 -13 -28 -6 -20 -10 -56 -26 -48 -39 -40 -75 -36 -73 -48 -31 -31 -18 -29 -33 -84 -19 -32 -12 -16 -1 -4 -2 -24 10 -68 6 -60 1 -4 0 -4 0 4 -4 1 -8 24 -14 67 -10 36 -6 36 -1 24 8 32 11 56 14 44 24 44 38 36 8 6 48 22 35 24 65 35 33 33 18 28 50 136 9 48 1 48 -1 12 -9 40 -10 76 -31 72 -9 44 -5 44 2 40 -3 40 -37 116 -8 22 -8 14 -4 3 -8 -1 -16 -14 -4 -2 -12 -3 -5 -3 -67 -110 -12 -15 -8 -2 -4 2 -6 9 -4 20 2 60 5 52 -1 12 -4 5 -8 2 -88 -2 -36 -2 -60 -7 -20 -1z"/>
<path fill="#ecf2f5" fill-rule="evenodd" d="M172 172l1684 0 0 2114 -16 -4 -333 -126 -59 -16 -40 -9 -44 -5 -76 -5 -28 -4 -112 0 -24 -6 -8 4 -16 15 -16 11 -32 13 -28 16 -12 5 -12 1 -60 1 -12 -3 -20 -9 -8 0 -9 7 -27 40 -8 6 -16 5 -4 4 -4 9 -6 24 -5 8 -9 5 -24 9 -13 6 -47 35 -8 0 -8 -4 -31 -31 -20 -36 -31 -32 -9 -12 -5 -12 -1 -32 -2 -20 -15 -52 -3 -20 1 -80 -6 -64 0 -36 7 -48 11 -40 8 -44 4 -36 1 -44 10 -40 10 -32 16 -32 27 -66 12 -20 8 -8 4 -2 8 1 16 7 8 0 8 -6 5 -10 2 -16 -7 -48 -5 -80 -2 -8 -5 -8 -12 -10 -4 -1 -4 2 -8 16 -4 2 -4 -2 -8 -13 -9 -22 -8 -44 -13 -28 -6 -20 -10 -56 -26 -48 -40 -41 -76 -37 -72 -47 -31 -31 -18 -28 -33 -84 -32 -52 -3 -24 11 -68 7 -60 3 -12 0 -6 -8 11 -8 25 -15 70 -10 36 -6 36 -2 24 9 32 11 56 13 44 24 44 40 39 56 27 33 22 66 36 29 28 7 8 15 24 50 136 6 28 3 20 1 48 -2 16 -9 40 -9 72 -31 72 -8 44 -6 44 2 40 -3 40 -36 107 -12 28 -4 5 -4 2 -4 0 -4 -2 -20 -24 -24 -46 -60 -102 -12 -17 -8 -6 -4 0 -4 4 -1 3 -3 16 -1 28 -3 8 -8 9 -8 6 -20 12 -3 1 -1 4 -4 0 0 6 -4 2 -4 0 -4 -4 -4 0 -4 -4 -4 0 -4 -4 -4 0 -4 -4 -4 0 -4 -4 -4 0 -4 -4 -4 0 -4 -4 -4 0 -4 -4 -4 0 -4 -4 -4 0 -4 -4 -4 0 -4 -4 -4 0 -4 -4 -4 0 -4 -4 -4 0 -4 -4 -4 0 -4 -4 -4 0 -4 -4 -4 0 -4 -4 -4 0 -4 -4 -4 0 -4 -4 -4 0 -4 -4z"/>
<path fill="#f0f4f6" fill-rule="evenodd" d="M172 172l1684 0 0 2113 -16 -4 -330 -125 -58 -16 -48 -10 -40 -5 -28 -1 -20 -3 -28 -1 -24 -3 -116 -1 -14 -4 -14 -9 -8 3 -28 16 -24 8 -32 19 -16 6 -80 2 -12 -3 -20 -8 -8 1 -8 8 -30 45 -6 5 -16 6 -4 5 -10 36 -6 10 -8 4 -38 14 -42 30 -4 0 -8 -3 -16 -15 -12 -15 -18 -29 -30 -28 -9 -12 -3 -8 -1 -32 -4 -32 -5 -20 -12 -36 -3 -16 2 -80 -7 -60 -1 -32 6 -48 11 -40 7 -40 4 -40 1 -44 10 -40 10 -32 16 -32 26 -63 12 -20 8 -7 4 -1 8 1 16 6 8 0 4 -1 7 -7 6 -12 2 -20 -7 -44 -3 -64 -2 -20 -3 -8 -5 -8 -19 -16 -4 -1 -4 2 -8 15 -4 1 -8 -11 -8 -21 -7 -37 -13 -28 -6 -16 -11 -60 -27 -50 -40 -41 -76 -37 -72 -46 -30 -30 -18 -29 -33 -83 -19 -32 -12 -16 -2 -8 -1 -24 10 -64 7 -60 11 -28 -1 -2 -4 2 -12 19 -8 24 -15 69 -10 40 -7 36 -2 20 0 8 8 28 12 56 11 40 25 48 38 38 10 6 46 21 36 24 68 37 30 30 18 27 49 133 10 44 1 64 -10 48 -6 60 -4 17 -31 71 -7 40 -6 40 2 44 -4 40 -13 40 -25 69 -8 14 -8 7 -4 -1 -4 -3 -13 -18 -19 -58 -12 -30 -12 -24 -52 -89 -8 -12 -8 -8 -8 -3 -4 2 -4 10 -1 20 0 76 -3 9 -8 6 -8 0 -12 -5 -164 -82 -12 -4z"/>
<path fill="#f5f6f7" fill-rule="evenodd" d="M172 172l1684 0 0 2112 -16 -4 -328 -124 -24 -8 -80 -19 -44 -5 -76 -5 -28 -4 -116 -1 -8 -3 -7 -7 -1 -8 3 -12 -1 -4 -2 -1 -36 20 -24 6 -40 24 -16 6 -88 2 -12 -3 -16 -6 -8 0 -9 8 -35 52 -4 4 -16 8 -4 4 -4 12 -6 28 -4 8 -4 4 -46 17 -36 23 -4 1 -8 -4 -12 -11 -24 -36 -32 -29 -6 -9 -3 -8 0 -28 -8 -56 -15 -49 -3 -15 3 -18 15 -38 -23 -64 -3 -20 -1 -20 5 -44 10 -44 8 -44 3 -36 1 -40 9 -40 11 -36 14 -28 27 -65 12 -19 4 -3 8 -4 8 2 16 5 8 1 4 -2 11 -11 7 -16 2 -20 -7 -44 -3 -60 -2 -20 -3 -8 -4 -8 -25 -24 -8 -3 -4 2 -8 12 -4 -1 -4 -5 -4 -9 -7 -36 -14 -28 -7 -20 -11 -60 -23 -44 -6 -8 -40 -40 -76 -37 -72 -47 -28 -28 -20 -31 -32 -81 -20 -34 -11 -14 -3 -16 -1 -16 11 -68 7 -56 7 -20 11 -16 -1 -2 -4 1 -8 7 -16 28 -8 30 -13 64 -9 32 -8 36 -2 20 0 8 9 28 11 56 12 40 24 48 16 17 24 23 8 5 48 22 36 24 68 36 29 29 18 28 17 48 32 84 10 44 1 64 -10 48 -6 60 -3 16 -32 72 -13 80 2 44 -4 40 -13 39 -20 52 -8 17 -8 9 -4 1 -4 -2 -7 -8 -4 -8 -11 -44 -30 -90 -12 -30 -52 -89 -8 -12 -8 -8 -8 -3 -8 2 -4 10 -2 20 5 76 1 56 -1 8 -3 4 -4 2 -8 0 -12 -5 -163 -81 -13 -5z"/>
<path fill="#f7f5f4" fill-rule="evenodd" d="M172 172l1684 0 0 2111 -16 -4 -325 -123 -24 -8 -35 -9 -48 -10 -44 -6 -76 -5 -28 -3 -104 -1 -15 -2 -7 -4 -2 -8 16 -43 0 -5 -4 -1 -40 23 -32 9 -36 22 -20 9 -100 2 -12 -1 -16 -6 -8 2 -9 9 -35 54 -6 6 -14 8 -3 4 -4 12 -7 32 -6 11 -8 5 -44 15 -28 16 -8 -1 -8 -6 -10 -12 -11 -20 -35 -31 -4 -5 -3 -8 2 -20 -6 -48 0 -28 -3 -12 -13 -36 -1 -8 3 -8 6 -8 29 -28 4 -8 1 -8 -4 -8 -43 -44 -7 -12 -5 -28 3 -48 10 -44 8 -44 3 -36 0 -41 9 -39 11 -35 14 -29 26 -62 12 -18 4 -4 8 -2 24 7 12 -1 12 -11 9 -17 2 -12 1 -16 -6 -40 -3 -60 -3 -20 -3 -12 -5 -7 -28 -27 -12 -7 -4 1 -8 8 -4 -5 -6 -27 -18 -34 -5 -14 -3 -12 -5 -32 -6 -24 -27 -48 -40 -40 -78 -39 -32 -19 -40 -27 -30 -31 -17 -28 -32 -80 -21 -35 -10 -13 -4 -20 0 -12 18 -124 10 -24 14 -12 -1 -8 -3 -1 -8 5 -8 8 -16 28 -8 29 -14 67 -9 32 -11 56 0 8 9 28 12 56 11 40 24 48 14 16 25 24 7 5 52 23 36 24 67 36 28 28 19 28 16 48 35 88 8 40 1 64 -2 15 -8 33 -6 64 -3 12 -29 64 -3 8 -13 80 2 44 -5 40 -15 44 -20 48 -8 12 -4 2 -4 0 -4 -3 -8 -15 -8 -45 -17 -47 -27 -93 -12 -33 -48 -84 -8 -12 -8 -7 -8 -3 -12 3 -4 6 -2 19 3 64 5 40 3 40 -1 24 1 28 -1 6 -4 4 -8 1 -8 -3 -160 -80 -20 -8z"/>
<path fill="#f8f2ef" fill-rule="evenodd" d="M172 172l1684 0 0 2110 -16 -4 -324 -122 -24 -8 -36 -10 -48 -10 -44 -6 -76 -4 -28 -4 -104 -1 -12 -1 -7 -4 -2 -4 -1 -4 22 -48 8 -21 0 -8 -8 1 -44 26 -32 9 -36 22 -24 12 -12 2 -96 1 -12 -1 -16 -4 -9 1 -5 4 -6 7 -37 57 -7 8 -12 8 -3 4 -4 12 -7 36 -6 11 -8 6 -44 14 -20 10 -8 1 -8 -5 -7 -9 -7 -16 -36 -28 -3 -4 -2 -8 2 -20 -6 -52 4 -24 -1 -8 -4 -15 -10 -25 -2 -8 2 -8 6 -8 23 -20 9 -12 7 -12 1 -8 -8 -12 -36 -36 -20 -17 -4 -8 -3 -11 -1 -24 2 -24 9 -40 7 -48 3 -36 0 -40 9 -40 10 -32 14 -28 22 -55 8 -16 8 -10 8 -5 8 0 20 7 12 0 7 -5 5 -6 13 -22 3 -16 0 -16 -6 -36 -2 -56 -3 -24 -3 -12 -5 -8 -33 -32 -24 -16 -24 -38 -10 -26 -4 -32 -7 -28 -27 -48 -40 -40 -76 -38 -36 -22 -40 -27 -29 -29 -17 -28 -33 -80 -21 -36 -11 -16 -3 -20 18 -132 7 -16 5 -9 8 -5 10 -2 0 -16 -2 -4 -8 4 -16 15 -16 27 -8 28 -13 66 -11 36 -12 56 0 8 11 36 12 52 11 40 22 44 8 11 24 24 12 10 56 25 36 24 65 34 28 28 19 28 17 48 35 88 8 40 1 64 -2 16 -9 32 -5 64 -5 16 -26 56 -4 12 -12 80 1 44 -4 36 -11 32 -12 30 -12 25 -8 10 -4 1 -4 -2 -7 -12 -7 -52 -26 -68 -32 -120 -12 -36 -12 -24 -28 -48 -12 -18 -8 -8 -8 -2 -16 4 -4 5 -4 23 10 120 7 44 2 32 -1 28 0 28 -2 6 -4 2 -4 0 -8 -3 -163 -81 -17 -6z"/>
<path fill="#f9efe9" fill-rule="evenodd" d="M172 172l1684 0 0 2109 -16 -4 -332 -125 -56 -15 -44 -10 -44 -5 -76 -5 -28 -4 -104 -1 -12 -2 -5 -2 -2 -4 1 -8 38 -80 4 -12 0 -10 -8 2 -52 31 -32 7 -44 28 -24 11 -116 3 -28 -4 -8 2 -9 10 -43 66 -18 18 -4 12 -10 44 -4 8 -8 5 -56 19 -8 1 -7 -5 -8 -16 -19 -12 -15 -12 -6 -8 0 -4 4 -20 -8 -48 4 -36 -12 -44 -1 -8 3 -8 4 -4 17 -14 20 -26 7 -12 2 -8 -2 -4 -6 -8 -40 -40 -29 -20 -4 -7 -3 -9 -1 -16 0 -18 9 -42 7 -44 3 -40 -1 -40 10 -43 8 -26 44 -99 8 -10 8 -4 8 1 24 7 8 -1 4 -2 13 -15 11 -20 4 -16 0 -20 -5 -36 -3 -52 -3 -24 -4 -16 -6 -8 -30 -28 -29 -24 -8 -9 -15 -23 -9 -24 -5 -32 -6 -28 -29 -50 -40 -40 -76 -38 -36 -21 -36 -24 -32 -31 -17 -28 -35 -84 -19 -32 -12 -16 -2 -20 18 -132 11 -23 4 -4 14 -1 6 -4 3 -4 -4 -4 -1 -4 2 -12 -4 -2 -12 8 -16 16 -16 26 -8 28 -14 68 -24 92 0 8 12 36 11 52 13 44 19 40 9 12 26 26 13 10 23 9 32 14 36 25 64 33 28 27 19 28 17 48 35 88 8 40 1 64 -2 16 -9 32 -5 64 -4 14 -30 66 -13 84 1 44 -4 36 -10 27 -12 29 -12 21 -8 8 -5 -1 -3 -4 -3 -8 -6 -56 -4 -12 -19 -44 -12 -35 -36 -144 -12 -38 -12 -26 -24 -41 -12 -18 -8 -8 -4 -2 -8 0 -16 6 -4 8 -2 18 1 64 13 120 7 40 3 32 -3 28 0 24 0 4 -3 4 -6 0 -10 -4 -148 -74 -20 -9 -8 -2z"/>
<path fill="#f9ede5" fill-rule="evenodd" d="M172 172l1684 0 0 2109 -16 -5 -332 -125 -56 -15 -44 -10 -44 -5 -28 -1 -20 -3 -28 -1 -32 -4 -100 -1 -12 -2 -5 -5 1 -8 32 -63 24 -53 3 -12 -3 -4 -8 4 -56 34 -12 4 -20 2 -8 4 -36 24 -32 16 -12 2 -112 2 -28 -2 -8 1 -10 9 -46 71 -18 21 -4 12 -10 48 -4 8 -4 4 -8 4 -32 10 -16 2 -4 -3 -8 -9 -20 -11 -12 -9 -5 -8 -1 -4 6 -28 -10 -36 1 -40 -9 -44 0 -8 4 -8 16 -12 11 -16 20 -24 7 -12 1 -8 -1 -4 -6 -8 -46 -46 -8 -7 -24 -11 -7 -8 -4 -8 -1 -12 0 -16 8 -36 7 -56 1 -28 -1 -40 9 -39 8 -26 44 -100 8 -10 8 -3 8 1 24 7 12 -2 12 -13 14 -23 5 -16 2 -24 -5 -36 -3 -52 -4 -28 -3 -12 -5 -8 -65 -57 -20 -25 -7 -14 -3 -12 -5 -32 -7 -28 -24 -44 -6 -8 -40 -40 -76 -37 -36 -22 -36 -23 -30 -30 -20 -32 -33 -80 -19 -32 -12 -16 -3 -24 18 -128 7 -16 8 -9 16 -2 15 -9 2 -4 -9 -1 -2 -3 5 -20 -3 -1 -12 7 -20 18 -8 9 -13 23 -8 28 -14 68 -26 92 1 8 12 36 22 92 21 44 8 12 25 26 12 10 28 10 28 13 38 25 66 34 28 28 18 26 16 48 36 88 8 36 1 16 0 52 -2 16 -10 32 -4 64 -3 12 -31 68 -13 84 1 44 -5 36 -20 49 -8 14 -8 8 -4 1 -4 -4 -3 -8 -3 -52 -4 -16 -30 -69 -12 -36 -36 -152 -16 -57 -12 -27 -16 -29 -16 -24 -8 -8 -4 -2 -8 1 -12 3 -7 4 -5 17 -1 15 5 116 6 40 8 80 8 40 2 32 0 12 -4 16 0 24 -4 4 -12 -3 -136 -68 -28 -13 -12 -3z"/>
<path fill="#fae9df" fill-rule="evenodd" d="M172 172l1684 0 0 2108 -15 -4 -333 -126 -56 -15 -44 -10 -44 -5 -76 -5 -32 -4 -96 -1 -15 -2 -4 -4 1 -8 66 -132 6 -20 1 -4 -3 -4 -12 6 -56 35 -12 5 -20 2 -12 3 -40 27 -24 13 -12 5 -12 1 -148 2 -8 2 -8 9 -48 74 -16 21 -5 15 -11 52 -4 8 -3 4 -9 5 -20 6 -16 2 -32 -16 -8 -7 -4 -6 0 -4 8 -40 -13 -28 -3 -36 -7 -40 1 -8 4 -8 14 -10 11 -18 30 -36 8 -12 1 -8 -4 -8 -42 -44 -20 -26 -8 -4 -16 1 -8 -2 -4 -2 -5 -7 -3 -16 7 -40 5 -44 2 -40 -1 -40 8 -36 11 -36 14 -28 20 -52 6 -11 8 -8 8 -3 32 8 12 -1 12 -12 18 -29 4 -16 3 -28 -5 -36 -2 -48 -4 -28 -3 -12 -5 -8 -69 -60 -21 -26 -9 -22 -4 -32 -7 -28 -24 -44 -6 -8 -42 -41 -76 -38 -36 -21 -36 -24 -29 -28 -20 -32 -33 -80 -19 -32 -12 -16 -3 -24 18 -128 7 -16 7 -8 12 -1 9 -3 15 -8 9 -8 -1 -4 -12 5 -5 -1 -2 -4 8 -20 -1 -5 -4 1 -8 6 -28 25 -8 9 -13 24 -8 28 -14 68 -15 56 -12 32 -1 12 14 40 23 92 18 40 8 12 36 37 8 4 24 7 28 12 36 24 68 36 28 28 18 28 15 44 36 88 9 40 0 64 -3 16 -9 32 -3 52 -2 16 -33 76 -13 84 1 44 -6 36 -10 27 -8 16 -8 12 -4 3 -4 1 -4 -3 -3 -12 -2 -48 -3 -19 -40 -92 -12 -36 -44 -193 -16 -53 -8 -19 -12 -22 -12 -19 -8 -10 -4 -3 -8 -2 -16 4 -8 3 -4 3 -4 16 0 10 3 40 -1 40 5 52 0 16 2 28 7 44 8 80 8 40 3 32 -1 12 -5 16 -2 20 -3 2 -8 -2 -120 -59 -44 -19 -12 -3z"/>
<path fill="#fbe6da" fill-rule="evenodd" d="M172 172l1684 0 0 2107 -13 -3 -331 -125 -24 -8 -36 -9 -44 -10 -44 -5 -28 -1 -20 -3 -28 -1 -36 -5 -92 0 -12 -2 -5 -3 1 -8 68 -132 20 -48 0 -9 -4 0 -8 4 -72 44 -12 4 -20 1 -8 3 -40 27 -40 21 -12 2 -152 2 -12 2 -12 13 -64 99 -5 15 -12 56 -6 12 -13 7 -20 4 -24 -7 -12 -8 -3 -8 1 -12 12 -36 -3 -8 -11 -12 -6 -12 -10 -60 0 -8 4 -7 13 -9 12 -20 50 -56 4 -8 -4 -8 -42 -44 -29 -46 -8 -9 -8 -2 -24 7 -4 -2 -2 -4 -2 -12 8 -108 -1 -40 13 -57 44 -103 8 -8 8 -2 28 8 8 1 8 -1 4 -3 8 -9 22 -34 5 -20 2 -28 -4 -36 -3 -44 -4 -32 -2 -8 -4 -8 -63 -52 -17 -17 -12 -15 -10 -20 -6 -36 -7 -28 -23 -44 -10 -12 -36 -36 -80 -40 -40 -24 -32 -21 -28 -28 -20 -31 -33 -80 -19 -32 -13 -16 -2 -24 18 -128 7 -16 6 -7 16 -2 23 -11 17 -16 3 -4 -3 -1 -20 10 -4 1 -4 -2 2 -8 10 -20 0 -4 -4 0 -12 9 -32 29 -9 10 -13 24 -8 28 -14 68 -14 52 -15 36 0 12 15 40 21 92 20 44 17 22 16 18 12 10 28 6 28 12 40 26 66 34 28 28 19 28 16 48 35 84 9 40 0 64 -3 16 -10 32 -4 68 -4 11 -26 53 -4 12 -12 84 1 44 -6 36 -9 21 -8 15 -8 9 -4 2 -4 -3 -3 -12 -2 -56 -3 -20 -44 -99 -12 -33 -16 -63 -36 -167 -16 -56 -16 -36 -12 -20 -8 -9 -4 -3 -8 -2 -20 5 -12 6 -4 10 -1 15 4 56 5 44 -1 28 6 64 -1 16 2 28 8 48 9 76 8 40 2 36 -2 12 -3 6 -8 10 -4 2 -4 -1 -156 -64 -16 -5 0 -689 20 -7 44 -22 8 -16 3 -10 2 -16 -1 -12 -5 -32 -3 -12 -4 -8 -4 -5 -4 -1 -4 2 -36 22 -16 6z"/>
<path fill="#fbe3d4" fill-rule="evenodd" d="M172 172l1684 0 0 2106 -16 -4 -328 -124 -56 -16 -48 -11 -44 -5 -28 -1 -20 -3 -28 -1 -36 -5 -92 0 -12 -2 -2 -2 -1 -4 1 -4 70 -135 24 -51 8 -22 1 -8 -1 -2 -12 5 -80 49 -12 3 -20 1 -8 3 -44 29 -32 18 -12 5 -12 1 -156 3 -12 2 -8 7 -6 8 -66 104 -5 16 -12 60 -6 12 -9 6 -16 3 -20 -4 -7 -5 -2 -8 2 -16 4 -8 11 -12 0 -8 -5 -12 -19 -21 -6 -11 -8 -44 2 -12 3 -4 13 -8 11 -20 25 -28 8 -8 8 -2 4 3 3 11 1 44 2 12 6 11 4 3 4 1 4 -1 8 -7 8 -11 9 -20 -1 -6 -4 -2 -12 -2 -4 -6 -2 -20 2 -10 3 -6 5 -5 12 -4 44 -6 8 -6 4 -11 -4 -10 -8 -4 -32 -4 -44 -1 -8 -2 -8 -5 -21 -22 -43 -71 -7 -9 -9 -4 -20 5 -4 -1 -4 -4 -3 -16 2 -72 -3 -40 12 -52 17 -40 23 -58 8 -12 8 -4 8 0 32 9 8 0 4 -2 8 -8 21 -33 6 -12 5 -24 1 -24 -4 -32 -2 -44 -5 -36 -2 -8 -4 -6 -24 -17 -36 -30 -24 -23 -12 -15 -8 -17 -6 -36 -7 -28 -24 -44 -9 -12 -38 -38 -80 -40 -38 -22 -34 -23 -28 -27 -20 -32 -32 -78 -20 -32 -12 -16 -2 -28 13 -100 4 -24 3 -8 6 -10 4 -4 16 -2 24 -11 6 -5 17 -16 29 -32 6 -12 -2 -2 -36 38 -20 13 -8 3 -1 -4 1 -4 16 -32 0 -9 -16 17 -36 33 -13 15 -15 28 -6 24 -13 64 -16 56 -5 12 -12 20 -1 8 2 8 16 44 19 88 19 44 5 8 28 34 12 12 8 3 24 2 28 11 40 26 64 32 13 12 19 20 15 24 16 48 37 88 6 24 3 20 -1 60 -4 15 -10 29 -1 56 -3 16 -28 56 -6 16 -12 84 2 40 -6 36 -8 20 -8 13 -8 6 -4 -2 -4 -17 0 -56 -3 -20 -5 -15 -48 -105 -12 -34 -16 -64 -36 -172 -16 -63 -12 -35 -12 -24 -12 -16 -8 -4 -16 3 -20 6 -4 3 -4 10 -1 14 3 56 12 104 -1 28 6 64 -2 20 2 24 4 28 5 20 9 76 9 40 2 36 -2 8 -2 5 -4 4 -4 2 -8 -1 -92 -32 -68 -25 -12 -3 0 -642 21 -8 52 -24 3 -3 4 -7 4 -13 2 -13 -3 -20 -2 -40 -5 -30 -8 -34 -4 -8 -4 -1 -4 2 -40 26 -8 4 -8 2z"/>
<path fill="#fcdfcf" fill-rule="evenodd" d="M172 172l1684 0 0 2105 -16 -4 -324 -122 -24 -9 -32 -8 -52 -12 -44 -5 -75 -5 -45 -5 -84 -1 -11 -2 -2 -4 5 -13 65 -123 39 -80 10 -28 1 -4 -3 -3 -12 5 -80 51 -16 6 -24 1 -8 2 -44 30 -48 26 -16 2 -152 2 -8 -2 -3 -4 4 -20 0 -12 -5 -12 -8 -9 -12 -5 -68 -9 -12 -4 -11 -13 -51 -84 -10 -14 -4 -4 -8 -2 -20 6 -5 -2 -3 -6 -1 -6 0 -48 -4 -28 0 -16 9 -42 8 -21 10 -21 22 -58 8 -12 8 -4 8 1 32 9 8 0 4 -1 10 -11 23 -36 6 -12 5 -28 2 -24 -11 -112 -2 -8 -3 -4 -22 -12 -36 -29 -32 -31 -10 -12 -6 -10 -3 -10 -6 -36 -8 -28 -24 -44 -15 -16 -32 -32 -80 -39 -36 -21 -36 -24 -28 -28 -20 -32 -31 -76 -20 -32 -12 -16 -3 -20 0 -8 14 -100 4 -24 4 -10 8 -11 16 -2 20 -9 7 -4 19 -16 34 -38 15 -26 -3 -2 -48 52 -24 15 -2 -1 0 -4 14 -27 8 -19 2 -10 -2 -5 -4 4 -18 29 -38 36 -14 16 -15 28 -6 24 -14 68 -15 52 -4 9 -14 19 -3 8 3 12 18 48 17 84 17 44 7 12 31 41 8 8 8 3 24 -4 32 12 38 24 63 32 10 8 21 21 18 27 16 48 37 88 6 24 3 20 -2 60 -2 12 -12 32 -1 56 -3 16 -25 48 -9 24 -11 84 1 44 -6 32 -10 21 -8 8 -4 -1 -4 -8 -1 -8 2 -64 -3 -24 -58 -128 -12 -31 -16 -59 -40 -195 -20 -83 -8 -26 -12 -28 -12 -18 -8 -4 -12 2 -32 10 -4 4 -3 8 -2 12 1 15 5 25 6 76 3 16 11 92 -2 28 6 60 -3 20 3 28 4 24 5 20 9 76 9 40 2 36 -1 8 -5 5 -4 1 -8 -1 -160 -54 -12 -3 0 -623 8 -2 73 -31 6 -4 4 -4 2 -8 -2 -20 0 -16 -7 -60 -12 -64 -4 -13 -4 -3 -4 1 -44 29 -8 5 -8 2zM720 2007l12 -8 4 2 3 7 4 44 15 40 -1 8 -5 9 -16 23 -4 3 -24 -10 -12 -9 -8 -8 -7 -16 -5 -28 2 -8 2 -3 14 -9 14 -23z"/>
<path fill="#fddcc9" fill-rule="evenodd" d="M172 172l1684 0 0 2105 -16 -5 -324 -122 -24 -8 -28 -8 -56 -13 -44 -5 -76 -5 -44 -6 -80 0 -12 -2 -2 -3 2 -8 47 -92 20 -36 61 -124 4 -16 -4 -4 -12 6 -88 55 -16 6 -24 1 -12 4 -40 28 -52 29 -16 3 -124 0 -24 -7 -4 -6 -13 -31 -6 -8 -5 -5 -8 -3 -48 -9 -16 -5 -8 -5 -10 -13 -42 -68 -21 -24 -7 -20 -4 -7 -8 -3 -20 4 -4 -4 -8 -32 -3 -18 7 -40 8 -25 10 -19 18 -52 8 -18 4 -5 8 -3 40 11 8 1 4 -1 7 -5 5 -7 30 -53 6 -32 2 -24 -11 -116 -4 -8 -23 -9 -40 -30 -14 -13 -26 -29 -8 -15 -8 -40 -4 -20 -5 -12 -25 -44 -38 -39 -12 -9 -24 -10 -48 -25 -44 -25 -32 -22 -26 -26 -22 -34 -30 -74 -20 -32 -12 -16 -3 -20 13 -108 4 -24 4 -9 8 -11 16 -2 23 -10 29 -24 28 -32 23 -36 25 -28 28 -36 12 -28 3 -12 -6 -28 -5 -8 -4 0 6 24 1 16 -13 32 -28 36 -70 79 -12 12 -16 10 -3 -1 1 -4 10 -19 15 -37 -2 -12 11 -26 4 -15 0 -15 -8 -30 -1 2 0 8 5 28 -6 24 -20 44 -10 20 -7 8 -45 45 -16 27 -8 28 -13 68 -15 48 -8 16 -14 12 -3 8 3 12 14 34 8 26 14 80 17 48 17 32 4 12 -1 8 -7 8 -24 9 -8 5 -4 6 -2 12 3 16 3 48 9 36 7 76 4 16 11 88 -2 32 6 60 -4 20 2 28 4 24 7 19 9 77 10 40 1 40 -4 6 -4 1 -8 -1 -160 -54 -12 -2 0 -614 12 -3 76 -32 9 -9 2 -12 -12 -100 -16 -76 -3 -4 -8 1 -48 32 -12 5zM484 242l-1 2 5 5 2 -1 -2 -4zM392 1044l12 0 24 9 36 24 64 32 8 5 21 22 21 32 14 44 37 84 7 26 3 22 -1 52 -2 16 -13 32 -2 8 1 48 -2 15 -4 10 -23 39 -8 20 -11 92 1 24 0 20 -9 36 -6 10 -4 4 -4 1 -4 -5 -1 -10 3 -72 -3 -24 -7 -19 -64 -140 -12 -34 -12 -47 -48 -237 -27 -107 -1 -12 3 -8 6 -8zM728 2016l4 4 1 4 3 24 7 28 0 8 -3 8 -5 4 -19 10 -8 1 -12 -6 -7 -9 -5 -15 -1 -13 3 -8 16 -12 7 -12 7 -9 8 -6z"/>
<path fill="#fcd7c2" fill-rule="evenodd" d="M172 172l1684 0 0 2104 -14 -4 -334 -126 -40 -12 -56 -13 -48 -7 -76 -5 -52 -6 -72 0 -10 -3 -1 -4 3 -7 22 -41 10 -23 32 -57 10 -24 54 -103 16 -41 0 -9 -4 0 -8 4 -104 65 -12 4 -24 0 -12 3 -44 31 -56 31 -16 2 -80 0 -12 -4 -7 -15 -5 -4 -32 -3 -4 -2 -18 -19 -14 -10 -60 -20 -12 -6 -8 -10 -29 -46 -35 -33 -4 -11 -3 -36 -5 -11 -4 -6 -8 -7 -4 -1 -20 11 -4 1 -4 -1 -4 -6 -1 -8 5 -41 8 -19 11 -16 9 -38 12 -32 4 -5 8 -3 44 14 8 -1 8 -6 8 -9 30 -56 5 -28 3 -28 -8 -88 0 -24 -1 -8 -5 -8 -4 -3 -20 -3 -20 -13 -31 -25 -30 -32 -7 -11 -3 -9 -7 -36 -5 -20 -4 -12 -25 -44 -39 -40 -13 -9 -24 -11 -48 -24 -41 -24 -35 -23 -25 -25 -23 -37 -30 -71 -22 -36 -10 -12 -3 -20 14 -108 4 -24 5 -12 6 -7 16 -2 28 -13 25 -22 27 -30 26 -38 26 -29 28 -38 13 -33 -5 -31 -4 -8 -12 -16 -2 3 7 24 5 24 -12 32 -27 36 -75 85 -12 11 -8 4 -4 0 24 -52 -1 -16 9 -20 7 -28 -7 -32 -8 -25 -1 9 1 20 6 28 -7 28 -28 60 -51 52 -16 28 -8 28 -14 68 -14 45 -8 16 -16 11 -4 4 -2 8 4 12 14 30 8 24 4 22 6 60 7 32 1 12 -2 10 -4 6 -4 2 -4 -1 -9 -37 -13 -80 -15 -80 -2 -4 -5 -2 -4 1 -52 35 -12 5zM484 240l-2 4 2 4 8 4 0 -4 -4 -5zM396 1048l12 0 20 7 36 23 64 32 8 6 20 21 20 31 15 44 37 84 6 24 4 24 -1 52 -4 20 -11 24 -4 12 1 56 -3 13 -12 18 -15 17 -4 12 -4 20 -9 88 2 24 -1 20 -8 32 -5 7 -4 3 -4 -2 -2 -12 5 -76 -2 -28 -6 -16 -75 -164 -16 -49 -16 -71 -51 -256 -2 -24 4 -12zM216 1068l20 -8 8 6 1 2 3 1 28 17 6 6 5 12 5 44 10 28 9 80 4 20 11 84 -3 36 6 56 -5 14 -16 21 -3 1 -2 4 2 4 19 22 12 22 10 80 7 20 5 20 1 36 -3 6 -4 2 -12 -2 -152 -51 -16 -3 0 -564 4 0 4 -4 4 0 4 -4 16 0 4 -4 4 0zM716 2036l4 -3 4 0 4 6 4 21 1 12 -1 4 -8 7 -12 6 -8 1 -8 -5 -3 -5 -3 -8 0 -8 2 -4 15 -12z"/>
<path fill="#fcd3bc" fill-rule="evenodd" d="M172 172l1684 0 0 2103 -12 -3 -332 -126 -40 -12 -64 -15 -40 -6 -31 -1 -21 -3 -27 -1 -53 -7 -68 -1 -8 -2 -2 -2 2 -7 18 -33 11 -28 33 -60 10 -24 56 -104 24 -53 5 -19 -1 -6 -12 5 -108 68 -16 5 -28 1 -12 4 -40 29 -56 32 -16 5 -36 -1 -16 -1 -8 -2 -15 -11 -53 -23 -40 -23 -68 -25 -8 -7 -20 -26 -46 -40 -5 -12 -1 -40 -8 -28 -8 -49 -4 -12 -12 -15 -2 -4 0 -8 2 -16 8 -25 4 -6 4 -2 12 1 36 14 4 0 8 -3 17 -19 9 -20 18 -32 4 -16 6 -48 -6 -80 1 -28 -3 -12 -5 -8 -5 -5 -20 1 -8 -3 -12 -7 -32 -26 -16 -20 -16 -15 -6 -9 -3 -8 -8 -40 -9 -28 -24 -44 -42 -43 -12 -8 -21 -9 -51 -26 -40 -23 -35 -23 -25 -25 -20 -30 -33 -77 -22 -36 -10 -12 -2 -12 -1 -16 13 -96 5 -28 3 -8 7 -10 16 -2 26 -12 26 -21 28 -31 24 -36 28 -31 24 -31 4 -6 14 -36 -6 -35 -16 -24 -8 -9 0 8 11 28 5 28 -12 32 -27 36 -55 64 -26 27 -8 5 -4 0 21 -48 0 -16 8 -20 7 -28 -12 -54 -4 -11 -4 -3 0 19 9 49 -6 24 -29 64 -51 52 -16 28 -8 28 -14 68 -17 52 -8 9 -18 11 -6 9 -4 3 -12 5 -48 34 -12 5zM484 240l-3 4 7 8 4 1 1 -1 0 -4 -5 -6zM255 812l1 -3 8 11 12 33 3 23 -3 33 -4 -6 -9 -35 -7 -36zM400 1052l12 0 16 5 36 23 64 32 8 6 21 22 18 28 14 44 37 84 8 24 3 24 -1 52 -4 19 -15 29 -2 8 2 48 -1 13 -4 9 -12 12 -4 1 -4 -1 -12 -10 -4 1 -2 7 1 80 -3 41 -3 23 3 19 0 17 -4 20 -8 19 -4 0 -1 -3 -1 -16 1 -28 6 -40 1 -20 -2 -16 -88 -192 -12 -31 -8 -28 -16 -71 -42 -218 0 -24 2 -8zM267 1100l5 -1 4 1 4 5 3 15 3 28 11 20 4 12 8 76 4 20 12 88 -4 32 5 56 -2 6 -4 4 -4 1 -12 0 -96 -15 -36 1 0 -305 12 -3zM172 1645l0 -146 8 1 112 24 28 6 8 5 4 5 2 8 9 72 9 21 4 17 1 34 -1 6 -2 2 -6 1 -5 -1 -151 -50zM703 2064l13 -11 4 0 1 7 -1 4 -8 6 -8 0 -2 -2z"/>
<path fill="#fbccb4" fill-rule="evenodd" d="M172 172l1684 0 0 2102 -8 -2 -332 -125 -36 -12 -68 -16 -44 -8 -80 -5 -38 -6 -28 -8 -32 -12 -3 -32 5 -20 31 -56 13 -31 55 -101 8 -20 29 -60 7 -24 -3 -3 -16 8 -112 71 -16 4 -24 0 -12 3 -12 7 -36 26 -48 28 -16 8 -16 2 -28 -3 -45 -15 -19 -9 -56 -36 -72 -26 -12 -7 -36 -28 -26 -22 -4 -12 -2 -40 -12 -28 -8 -48 -4 -17 -4 -9 -9 -14 -1 -16 2 -8 4 -9 4 -3 4 -1 16 5 28 13 4 0 8 -4 20 -21 12 -28 16 -28 4 -16 7 -52 -6 -72 2 -32 -3 -12 -6 -12 -6 -6 -4 -1 -20 4 -8 -3 -16 -10 -25 -20 -7 -8 -8 -13 -20 -18 -7 -13 -12 -56 -7 -16 -25 -44 -39 -40 -10 -7 -24 -10 -32 -18 -20 -9 -40 -22 -33 -22 -27 -27 -20 -31 -34 -78 -20 -32 -10 -12 -2 -8 -2 -16 4 -30 12 -86 2 -12 4 -8 6 -9 4 -2 12 0 28 -13 24 -20 29 -32 25 -36 26 -29 24 -31 8 -14 12 -30 -7 -36 -21 -32 -4 -5 -4 -3 1 12 14 36 4 24 -12 32 -24 32 -58 68 -25 25 -4 3 -4 1 4 -13 14 -32 0 -16 10 -26 5 -22 -13 -60 -8 -15 -4 3 4 33 8 39 -6 24 -29 64 -7 8 -44 44 -16 28 -7 28 -14 68 -17 49 -8 9 -20 10 -8 8 -31 24 -30 20 -11 5zM484 239l-2 1 -2 4 8 9 4 1 2 -2 -1 -4 -5 -7zM406 1056l10 0 12 4 36 22 64 31 27 27 18 28 15 44 37 84 7 20 4 28 -1 52 -2 12 -5 12 -15 24 -3 8 0 8 4 40 -2 12 -4 6 -4 2 -4 0 -4 -4 -8 -15 -8 -8 -16 -11 -4 -1 -3 3 -1 16 5 64 -1 11 -4 3 -12 -17 -28 -58 -48 -104 -16 -45 -20 -86 -33 -176 -1 -12 1 -12 2 -8zM192 1183l64 -39 28 13 10 11 5 12 8 76 5 20 12 88 -6 32 5 52 -3 8 -4 1 -12 0 -92 -13 -40 1 0 -257 8 0zM172 1548l5 0 3 3 4 1 13 0 3 3 13 1 3 3 4 1 13 0 3 3 4 1 13 0 3 3 13 1 3 3 4 1 13 0 3 3 12 1 0 16 4 0 1 4 3 0 1 4 3 2 1 2 3 2 1 2 19 19 9 13 6 24 -1 28 -1 4 -5 2 -8 -2 -152 -49 -16 -4zM560 1697l4 -12 4 4 2 23 -2 11 -4 9 -4 4 -2 -8 0 -12z"/>
<path fill="#f9c6ac" fill-rule="evenodd" d="M172 172l1684 0 0 2101 -16 -5 -356 -134 -68 -16 -48 -9 -76 -6 -41 -7 -13 -8 -40 -40 -4 -8 2 -13 31 -55 9 -26 54 -98 12 -28 30 -59 20 -45 2 -8 -2 -5 -4 1 -12 6 -120 76 -16 6 -32 1 -12 3 -56 39 -52 30 -16 4 -8 -1 -20 -13 -76 -30 -48 -27 -28 -9 -36 -8 -12 -4 -32 -18 -20 -15 -9 -8 -5 -12 -2 -40 -12 -18 -5 -10 -12 -68 -3 -11 -8 -15 -1 -6 1 -5 4 -3 4 0 16 4 24 11 8 -1 4 -3 25 -27 11 -28 15 -28 5 -20 7 -52 -5 -64 3 -36 -4 -16 -9 -16 -4 -4 -8 0 -12 5 -8 1 -8 -2 -12 -8 -26 -20 -7 -8 -8 -16 -21 -16 -7 -12 -14 -60 -24 -48 -9 -12 -36 -36 -12 -9 -24 -10 -28 -16 -28 -12 -36 -21 -32 -21 -27 -27 -21 -32 -33 -76 -20 -32 -10 -12 -2 -8 -2 -16 3 -25 12 -87 3 -16 3 -8 6 -8 4 -2 12 -1 28 -12 25 -21 29 -32 25 -36 25 -28 28 -36 17 -40 -7 -36 -26 -41 -4 -5 -4 2 4 20 13 32 5 20 -1 8 -8 20 -6 12 -25 32 -58 68 -16 16 -8 5 0 -6 16 -39 -1 -12 9 -23 6 -25 -14 -64 -8 -15 -4 -5 -2 8 2 16 4 28 7 32 -5 20 -20 48 -10 20 -7 8 -43 44 -16 28 -8 28 -14 68 -16 46 -8 9 -27 13 -33 28 -31 20 -9 4zM484 238l-4 2 0 5 8 9 4 1 3 -3 -1 -4 -6 -8zM588 304l-24 16 -7 8 3 1 5 -1 17 -12 8 -8zM1200 1524l-2 4 0 4 2 2 8 1 8 -3 1 -4 -4 -4 -5 -2zM408 1061l12 -1 8 2 32 20 68 33 28 29 15 24 16 48 39 84 6 22 3 18 -3 64 -8 20 -19 28 -2 8 0 16 -3 7 -12 -12 -20 -14 -24 -21 -4 0 -3 12 2 48 -3 7 -4 -3 -8 -12 -12 -23 -44 -95 -12 -28 -12 -40 -16 -72 -17 -90 -9 -60 2 -13zM277 1164l7 -1 4 2 6 7 3 12 9 72 4 20 13 88 -1 8 -7 28 3 28 0 20 -2 3 -8 1 -68 -11 -24 -2 -44 4 0 -202 8 -4 12 -9zM172 1640l0 -19 8 0 20 3 36 1 21 3 35 1 48 5 8 8 4 13 1 13 -2 20 -3 5 -8 -1 -144 -46z"/>
<path fill="#f8bfa4" fill-rule="evenodd" d="M172 172l1684 0 0 2099 -13 -3 -355 -134 -32 -9 -64 -13 -46 -16 -34 -15 -8 -1 -11 -4 -7 -4 -46 -46 -3 -6 -2 -36 0 -20 1 -12 57 -104 11 -27 52 -101 12 -29 2 -11 -2 -5 -4 1 -12 6 -128 81 -16 6 -32 0 -12 3 -60 42 -36 19 -20 6 -4 0 -5 -3 -11 -23 -4 -6 -4 -2 -52 -4 -80 -27 -60 -12 -12 -4 -40 -20 -12 -7 -8 -6 -5 -13 -2 -28 -2 -8 -18 -24 -4 -12 -11 -72 2 -5 4 -1 20 6 8 1 4 -1 8 -6 27 -30 9 -28 17 -32 10 -68 -4 -60 4 -40 -4 -16 -11 -22 -4 -4 -8 -1 -16 8 -12 1 -20 -11 -23 -19 -5 -8 -4 -14 -20 -12 -8 -10 -5 -12 -12 -52 -26 -52 -9 -11 -36 -36 -12 -8 -22 -9 -29 -16 -27 -12 -36 -20 -34 -23 -25 -25 -23 -35 -32 -73 -20 -32 -10 -12 -3 -8 -1 -16 4 -32 10 -78 3 -18 4 -8 7 -8 14 -2 28 -12 27 -22 28 -32 25 -36 28 -31 24 -31 4 -7 14 -35 -7 -36 -5 -12 -30 -43 -3 3 3 17 4 14 12 29 5 24 -7 20 -5 12 -25 32 -56 66 -24 23 -1 -5 1 -4 12 -30 0 -14 8 -20 7 -28 -15 -67 -8 -16 -4 -6 -4 -3 0 16 14 76 -5 20 -30 68 -50 52 -14 24 -9 32 -14 68 -16 43 -8 9 -28 11 -44 11 -28 3zM480 240l-1 4 2 4 7 6 5 2 3 -4 -4 -8 -4 -5 -4 -1zM596 299l-13 5 -17 12 -14 12 -7 8 7 0 17 -8 21 -16 10 -12zM1196 1512l-5 4 -7 12 -3 12 1 8 6 8 8 6 16 8 4 2 4 -1 16 -14 7 -9 2 -8 -3 -12 -4 -8 -10 -6 -20 -4zM414 1064l6 -1 12 4 28 17 68 33 26 27 15 24 17 48 38 84 7 24 2 12 -1 56 -3 16 -9 18 -8 9 -12 9 -4 1 -8 -2 -28 -18 -12 -11 -24 -27 -4 1 -1 4 -3 34 -4 0 -8 -11 -12 -23 -40 -88 -16 -56 -16 -77 -14 -79 -1 -12 2 -8 2 -4zM279 1168l5 -1 4 1 4 5 3 7 9 76 5 20 12 84 0 12 -2 8 -23 41 -4 2 -92 15 -28 2 0 -195 11 -5zM172 1628l28 3 36 0 20 3 36 0 20 4 28 1 4 3 4 7 2 11 0 8 -2 8 -4 6 -8 0 -109 -30 -43 -14 -12 -2z"/>
<path fill="#f7b99c" fill-rule="evenodd" d="M172 172l1684 0 0 2098 -9 -2 -32 -12 -256 -96 -75 -30 -28 -8 -64 -14 -8 -4 -10 -8 -130 -131 -4 -9 4 -12 51 -92 10 -28 60 -112 19 -48 3 -12 -1 -4 -2 -2 -16 8 -136 86 -16 5 -32 0 -12 2 -12 8 -40 29 -16 8 -8 2 -8 -2 -5 -16 -5 -8 -14 -11 -8 -3 -8 -1 -8 3 -60 23 -8 2 -8 -1 -84 -27 -44 -11 -56 -27 -12 -9 -4 -9 -2 -21 -3 -8 -20 -24 -7 -12 -4 -20 -3 -28 0 -4 3 -5 20 1 8 -4 34 -36 4 -8 7 -24 12 -24 5 -12 9 -64 -2 -60 4 -40 -2 -12 -15 -34 -4 -4 -4 -1 -8 3 -16 10 -12 1 -16 -8 -20 -15 -9 -12 0 -16 -3 -4 -20 -8 -8 -7 -4 -5 -16 -64 -25 -48 -11 -14 -40 -38 -33 -16 -23 -13 -32 -14 -32 -17 -35 -24 -24 -24 -25 -37 -31 -71 -20 -32 -10 -12 -4 -16 1 -22 12 -90 4 -24 4 -9 4 -5 4 -2 16 -3 28 -13 24 -20 28 -31 25 -37 27 -30 29 -38 13 -36 -5 -32 -4 -12 1 -4 10 -4 23 -12 21 -16 15 -16 -3 -2 -4 1 -20 9 -35 28 -9 10 -10 -10 -22 -35 -4 -2 -1 1 1 12 4 17 16 43 4 20 -2 8 -10 24 -22 28 -58 69 -20 19 -2 -4 1 -4 9 -24 1 -16 8 -20 7 -28 -15 -68 -13 -25 -4 -4 -3 1 -1 4 17 92 -5 20 -30 68 -46 48 -18 28 -9 32 -14 68 -15 40 -4 6 -8 6 -24 6 -24 -3 -38 -11 -10 -1zM480 239l-2 5 2 4 8 7 6 1 3 -4 -5 -9 -4 -4 -4 -2zM1192 1503l-8 7 -18 30 -2 8 1 12 4 8 37 52 6 6 8 3 8 -5 5 -8 16 -44 14 -28 1 -8 -1 -8 -5 -12 -3 -4 -7 -4 -36 -6 -12 0zM417 1068l7 -1 8 3 28 16 32 14 36 19 24 25 15 24 17 48 40 87 8 29 1 24 -4 48 -9 17 -12 11 -8 1 -4 -3 -16 -16 -36 -27 -12 -14 -20 -29 -8 -8 -4 1 -4 12 -4 3 -8 -10 -8 -14 -28 -61 -16 -57 -22 -114 -1 -12 1 -8 2 -4zM278 1172l6 -2 4 2 4 6 2 6 8 72 6 21 12 83 1 8 -2 8 -3 6 -8 9 -60 27 -40 15 -20 4 -16 1 0 -189 12 -6zM216 1640l16 -3 24 3 32 0 24 3 24 1 4 1 4 4 2 7 0 8 -2 5 -4 1 -8 -1 -96 -21 -13 -4z"/>
<path fill="#f6b394" fill-rule="evenodd" d="M172 172l1684 0 0 2096 -14 -4 -288 -108 -51 -20 -24 -12 -59 -36 -92 -116 -8 -8 -8 -12 -12 -12 1 -12 1 -68 2 -22 2 -10 63 -116 12 -32 19 -40 4 -13 0 -9 -4 -1 -12 6 -136 87 -20 10 -8 1 -16 0 -36 -5 -8 2 -28 16 -12 -4 -40 -20 -12 -2 -12 6 -36 28 -44 19 -12 3 -8 0 -16 -5 -92 -33 -60 -30 -11 -8 -10 -28 -26 -28 -5 -8 -4 -16 -1 -16 1 -4 4 -3 8 -2 8 -5 39 -42 4 -8 8 -28 14 -32 10 -68 -1 -52 6 -44 -3 -12 -10 -24 0 -16 -1 -4 -10 -2 -8 1 -24 16 -8 1 -8 -1 -12 -6 -21 -17 -5 -8 0 -4 4 -12 -2 -6 -4 -3 -20 -5 -8 -5 -4 -5 -5 -12 -13 -52 -22 -44 -8 -12 -48 -47 -29 -13 -27 -15 -32 -13 -28 -16 -37 -24 -20 -20 -8 -8 -19 -28 -34 -76 -20 -32 -10 -12 -4 -15 0 -17 12 -95 4 -23 4 -9 4 -6 4 -2 16 -3 28 -13 25 -21 27 -30 27 -38 25 -29 29 -39 14 -36 -7 -45 28 -16 16 -11 22 -20 5 -8 -3 -1 -6 1 -18 9 -48 36 -4 1 -8 -10 -20 -33 -4 -3 -4 4 9 36 14 32 4 20 -1 8 -11 28 -22 28 -57 67 -12 12 -8 5 0 -5 9 -23 1 -16 8 -20 7 -28 -15 -68 -14 -28 -4 -3 -4 1 -1 6 1 8 17 84 -6 20 -21 52 -9 16 -46 48 -17 28 -10 32 -14 68 -6 18 -10 22 -3 4 -7 5 -12 3 -12 2 -24 -4 -38 -10 -10 -1zM480 238l-2 6 2 4 8 8 4 1 3 -1 2 -4 -1 -4 -6 -8 -6 -3zM1188 1495l-8 5 -26 32 -3 12 1 24 5 12 19 23 20 27 12 8 8 1 8 0 8 -6 6 -9 18 -46 21 -34 5 -12 -2 -12 -4 -12 -4 -4 -8 -4 -60 -7zM421 1072l11 2 24 13 40 17 31 16 25 28 12 20 18 48 29 64 10 20 9 28 2 20 -4 52 -5 12 -11 12 -4 1 -4 -1 -20 -27 -24 -23 -28 -22 -12 -16 -32 -49 -8 -6 -8 -2 -12 -16 -12 -25 -8 -21 -8 -28 -12 -54 -7 -47 2 -12zM278 1176l6 -2 4 2 3 8 9 72 7 24 12 80 0 8 -2 8 -5 9 -8 5 -92 39 -20 6 -20 1 0 -184 8 -2 8 -6z"/>
<path fill="#f6af8e" fill-rule="evenodd" d="M172 172l1684 0 0 2093 -16 -5 -278 -104 -51 -20 -15 -8 -9 -8 -27 -41 -144 -224 -6 -15 0 -8 2 -7 62 -113 11 -32 34 -72 5 -14 0 -7 -4 -1 -12 6 -144 92 -20 11 -12 2 -9 -1 -7 -3 -16 -12 -16 -4 -12 2 -40 20 -12 4 -12 -3 -24 -10 -8 -1 -12 0 -11 3 -6 4 -32 28 -11 8 -28 12 -12 3 -12 -1 -20 -6 -60 -22 -16 -8 -32 -21 -28 -17 -16 -23 -28 -29 -7 -12 0 -12 56 -60 10 -36 14 -32 10 -68 1 -48 6 -44 -1 -12 -10 -24 0 -8 1 -4 10 -12 0 -4 -10 -5 -20 1 -12 5 -20 14 -8 2 -16 -5 -22 -16 -5 -8 0 -4 7 -12 0 -4 -2 -4 -6 -5 -24 -5 -8 -5 -3 -5 -5 -12 -9 -44 -25 -48 -10 -15 -37 -37 -11 -9 -32 -15 -22 -12 -30 -12 -32 -17 -36 -24 -23 -23 -25 -35 -35 -77 -20 -32 -9 -9 -4 -19 12 -104 4 -24 4 -10 4 -6 4 -2 16 -3 28 -13 24 -20 28 -31 24 -35 29 -32 29 -40 14 -36 -7 -40 1 -4 27 -16 22 -16 21 -20 3 -4 0 -4 -5 0 -10 3 -17 9 -47 35 -4 1 -8 -9 -20 -34 -4 -2 -4 2 -1 7 9 32 14 32 4 20 0 8 -10 24 -5 8 -22 28 -53 62 -16 14 -1 -4 1 -4 7 -20 -1 -12 8 -20 7 -28 -15 -68 -14 -30 -4 -3 -4 1 -3 4 0 4 19 92 -5 20 -22 52 -8 16 -47 48 -17 28 -9 32 -14 68 -14 33 -4 7 -5 4 -11 4 -12 2 -24 -2 -52 -13zM480 238l-3 6 3 5 8 7 4 2 4 -2 2 -4 -1 -4 -7 -8 -6 -4zM1148 1448l-4 1 -2 3 1 4 5 3 4 -1 2 -2 0 -4 -2 -3zM1180 1487l-32 30 -8 10 -2 21 2 24 8 20 39 48 9 5 8 3 12 2 8 -1 8 -5 8 -10 8 -14 15 -36 30 -44 5 -12 0 -12 -10 -18 -6 -6 -6 -3 -12 -2 -68 -3 -8 1zM420 1080l4 -3 8 1 24 12 36 14 32 16 12 12 16 20 12 20 17 48 27 60 12 21 8 23 3 24 -4 44 -3 13 -8 11 -4 2 -5 -2 -11 -22 -8 -12 -72 -71 -44 -72 -24 -34 -12 -27 -12 -43 -7 -39 0 -8zM278 1180l6 -2 5 6 9 72 7 20 4 24 2 20 7 44 -2 12 -8 9 -37 15 -63 28 -20 5 -16 1 0 -178 8 -3 8 -5z"/>
<path fill="#f5a886" fill-rule="evenodd" d="M172 172l1684 0 0 1852 -40 0 -72 -72 -4 0 -8 -8 -4 0 -4 -4 -4 0 -4 -4 -4 0 -8 -8 -4 0 -4 -4 -4 0 -4 -4 -4 0 -8 -8 -4 0 -4 -4 -4 0 -4 -4 -4 0 -8 -8 -4 0 -4 -4 -4 0 -4 -4 -4 0 -8 -8 -4 0 -4 -4 -4 0 -4 -4 -4 0 -8 -8 -4 0 -4 -4 -4 0 -4 -4 -4 0 -8 -8 -4 0 -4 -4 -4 0 -4 -4 -4 0 -8 -8 -4 0 -4 -4 -4 0 -4 -4 -4 0 -8 -8 -4 0 -4 -4 -4 0 -4 -4 -4 0 -8 -8 -4 0 -4 -4 -4 0 -4 -4 -4 0 -8 -8 -4 0 -4 -4 -4 0 -4 -4 -4 0 -8 -8 -4 0 -4 -4 -4 0 -4 -4 -4 0 0 -8 -2 -4 -2 0 -12 -37 -2 -15 2 -13 55 -111 9 -7 39 -17 0 -4 -19 -3 -12 3 -8 3 -188 118 -8 3 -8 2 -8 -4 -3 -6 3 -8 28 -60 41 -56 14 -28 13 -8 15 -16 27 -36 4 -8 -2 -2 -8 -1 -12 3 -24 12 -12 8 -3 8 -2 32 -3 3 -8 -4 -19 -19 -9 -4 -88 -1 -16 -3 -3 -4 -5 -20 -6 -8 -14 -5 -8 0 -8 2 -4 3 -2 8 0 12 2 8 8 6 20 5 2 5 -5 8 -21 20 -5 8 -2 16 2 28 5 20 7 16 21 28 7 12 2 8 -1 4 -8 8 -18 12 -15 8 -11 4 -8 -1 -20 -6 -12 -2 -24 1 -16 3 -12 8 -32 30 -12 7 -16 6 -12 0 -12 -3 -60 -22 -16 -8 -64 -46 -39 -39 -5 -8 -1 -4 3 -8 21 -28 21 -20 6 -8 10 -36 13 -32 11 -72 1 -40 7 -48 0 -8 -8 -24 -1 -8 5 -8 15 -12 3 -4 1 -4 -6 -4 -13 -2 -16 -1 -12 2 -12 4 -20 15 -12 4 -16 -5 -19 -13 -5 -8 1 -4 7 -12 -1 -8 -7 -8 -4 -2 -20 -3 -8 -4 -4 -4 -5 -11 -6 -40 -17 -28 -14 -28 -8 -12 -38 -38 -12 -10 -52 -25 -36 -15 -23 -12 -41 -27 -20 -20 -8 -9 -20 -30 -33 -74 -21 -32 -10 -11 -3 -17 3 -35 9 -69 4 -24 3 -8 4 -6 4 -3 12 -2 32 -14 24 -20 28 -31 25 -36 29 -32 29 -40 14 -36 -7 -40 2 -4 27 -16 21 -16 18 -16 10 -12 -4 -3 -4 1 -24 10 -12 7 -36 28 -8 3 -8 -9 -19 -33 -5 -2 -4 2 -1 8 8 32 14 32 4 20 0 8 -10 24 -5 8 -22 28 -52 60 -12 12 -3 -4 6 -16 0 -16 9 -24 6 -20 0 -8 -15 -64 -15 -32 -4 -2 -6 2 -2 4 0 4 19 92 -5 20 -22 52 -8 16 -47 48 -17 28 -9 32 -14 68 -13 31 -8 10 -8 3 -12 2 -28 -1 -52 -12zM484 236l-4 1 -2 3 -1 4 2 4 9 9 4 1 4 -1 2 -5 -1 -4 -9 -11zM427 1084l9 1 41 15 43 20 13 12 19 24 11 20 16 44 27 60 14 25 7 23 2 20 -4 44 -4 12 -5 6 -4 0 -4 -4 -8 -23 -8 -15 -28 -27 -52 -55 -20 -29 -46 -85 -14 -30 -8 -28 -2 -14 1 -12zM188 1254l92 -69 4 1 1 2 9 68 10 24 4 20 2 20 7 40 -1 13 -4 6 -4 4 -40 16 -60 27 -20 5 -16 0 0 -171 8 -2z"/>
<path fill="#f2a17f" fill-rule="evenodd" d="M172 172l1684 0 0 1815 -8 -3 -8 -7 -68 -67 -28 -22 -284 -163 -24 -13 -36 -14 -7 -6 0 -8 11 -23 40 -76 8 -8 12 -2 24 5 16 4 20 13 4 0 2 -1 1 -8 -3 -21 -16 -78 -4 -9 -4 -1 -4 3 -20 23 -20 17 -96 62 -48 29 -28 12 -16 9 -4 1 -4 -1 0 -7 8 -22 40 -54 16 -19 118 -120 16 -20 0 -4 -2 -2 -8 2 -40 14 -24 5 -8 3 -24 22 -16 11 -26 13 -10 11 -24 -4 -88 0 -8 -4 -8 -19 -8 -8 -12 -4 -16 -2 -12 0 -8 2 -4 4 -3 12 1 32 8 16 0 4 -9 20 0 36 3 16 11 32 14 28 3 8 -3 8 -3 4 -14 11 -12 5 -8 1 -20 -2 -36 -1 -16 1 -12 2 -12 7 -38 36 -10 5 -12 1 -56 -20 -20 -9 -40 -29 -32 -20 -28 -26 -7 -10 0 -4 2 -8 14 -20 25 -24 5 -8 9 -36 12 -32 14 -80 1 -32 7 -48 -1 -12 -5 -16 0 -8 5 -8 27 -20 3 -4 1 -4 -6 -4 -14 -2 -24 -2 -16 2 -20 6 -20 15 -12 4 -16 -5 -15 -10 -5 -8 1 -4 7 -12 -4 -12 -4 -6 -8 -6 -20 -2 -10 -6 -4 -8 -2 -16 1 -8 6 -8 0 -4 -23 -24 -19 -36 -9 -13 -38 -39 -14 -11 -48 -23 -36 -14 -24 -12 -42 -28 -18 -18 -10 -10 -18 -26 -34 -74 -23 -36 -10 -12 -3 -16 2 -28 10 -80 5 -24 4 -8 5 -4 16 -3 28 -13 24 -20 29 -32 25 -36 28 -32 28 -36 16 -40 -6 -41 2 -3 26 -16 20 -15 23 -21 8 -12 -3 -1 -7 1 -26 12 -11 6 -36 27 -8 3 -8 -9 -18 -31 -6 -3 -5 3 -1 8 8 32 15 36 4 20 -1 4 -10 24 -5 8 -21 27 -52 60 -12 10 -1 -5 5 -16 0 -12 9 -24 5 -20 0 -8 -13 -60 -5 -14 -12 -23 -4 -2 -7 3 -2 8 8 32 11 60 -5 20 -21 50 -9 18 -47 48 -17 28 -9 32 -13 68 -13 28 -8 9 -8 4 -8 1 -12 -2 -20 2 -52 -12 0 -364 25 -26 2 -8 -2 -12 -4 -4 -9 -1 -12 3zM484 235l-4 2 -3 3 -1 4 2 4 10 9 4 2 4 -2 3 -5 -1 -4 -10 -11zM433 1092l7 0 29 8 21 8 30 15 10 9 18 22 12 22 16 44 27 60 13 22 8 19 3 19 0 20 -5 32 -2 6 -4 3 -4 -2 -2 -3 -10 -33 -8 -15 -48 -46 -44 -51 -16 -24 -33 -63 -17 -36 -6 -24 1 -8zM259 1248l5 0 4 4 2 4 22 12 8 8 6 24 3 24 7 40 -1 8 -7 8 -40 16 -64 29 -16 4 -10 -1 -6 -2 0 -130 36 0 4 -2 4 -2z"/>
<path fill="#ef9979" fill-rule="evenodd" d="M172 172l1684 0 0 1810 -12 -7 -71 -71 -33 -30 -160 -137 -8 -5 -16 -16 -3 0 -1 -3 -13 -5 -7 -7 -21 -9 -7 -7 -21 -9 -7 -7 -9 -1 -3 -3 -8 -1 7 -8 1 -5 3 -3 1 -5 7 -7 1 -4 16 15 5 1 7 7 0 -3 4 0 0 -4 4 -1 0 -3 4 -2 6 -10 6 -6 8 -16 1 -14 -4 -24 -17 -87 -4 -14 -4 -4 -4 0 -4 3 -20 20 -16 12 -92 57 -16 8 -12 4 -12 1 -6 -4 0 -4 3 -8 19 -24 144 -152 5 -8 -5 -4 -12 -2 -8 0 -12 4 -23 14 -13 5 -16 4 -24 1 -12 7 -16 23 -15 12 -13 7 -28 8 -100 2 -8 -4 -9 -17 -3 -4 -8 -4 -40 -7 -16 1 -9 2 -4 4 -3 8 0 56 -4 24 2 48 16 52 1 8 -1 8 -10 11 -12 4 -68 1 -16 3 -12 8 -36 35 -8 5 -8 1 -12 -3 -48 -19 -33 -22 -47 -26 -24 -21 -6 -9 -1 -4 3 -8 10 -16 22 -20 7 -8 4 -12 7 -32 10 -28 12 -61 7 -23 -1 -28 7 -52 -5 -20 0 -8 5 -8 35 -25 6 -7 1 -4 -4 -4 -15 -3 -32 -2 -20 1 -28 8 -24 18 -8 2 -12 -3 -15 -9 -5 -8 1 -4 7 -8 0 -4 -4 -12 -8 -12 -4 -3 -8 -2 -16 -1 -8 -6 -3 -8 0 -8 7 -16 0 -10 -4 -6 -16 -12 -8 -9 -16 -31 -11 -16 -40 -40 -13 -10 -44 -21 -36 -14 -24 -11 -37 -24 -23 -20 -12 -13 -20 -28 -34 -75 -21 -32 -10 -12 -3 -12 0 -22 11 -90 5 -24 4 -8 4 -3 16 -3 28 -13 26 -21 28 -32 25 -36 28 -32 28 -36 16 -40 -6 -40 7 -7 20 -12 20 -14 28 -27 5 -8 -1 -2 -4 -1 -20 7 -22 12 -38 28 -8 3 -8 -9 -17 -30 -7 -4 -7 4 0 8 9 32 14 36 4 20 -1 4 -9 24 -6 8 -22 28 -46 53 -12 11 -2 -4 3 -12 0 -12 9 -24 5 -20 0 -8 -13 -60 -10 -25 -8 -13 -4 -2 -4 1 -4 2 -2 9 8 32 12 60 -5 20 -21 49 -10 19 -46 48 -18 28 -9 32 -13 67 -8 20 -12 15 -12 4 -8 -1 -8 -4 -4 -1 -8 6 -8 1 -52 -12 0 -353 4 -2 12 -14 8 -3 4 2 3 3 5 20 4 -1 0 -7 -4 -48 -3 -12 -9 -11 -20 -16 -3 -1 -1 -3zM480 236l-4 4 0 4 2 4 10 10 4 1 4 -1 3 -6 -3 -7 -8 -9 -4 -1zM441 1100l11 0 20 4 21 8 24 12 7 5 20 25 14 26 16 44 14 28 13 32 15 24 8 20 2 20 -2 18 -4 17 -4 4 -4 -6 -10 -33 -6 -15 -8 -9 -36 -31 -16 -17 -43 -52 -13 -19 -24 -45 -17 -36 -3 -16 1 -4zM279 1292l13 -14 4 0 4 5 4 13 6 48 4 20 -2 10 -8 6 -36 13 -60 28 -12 4 -12 -1 -2 -4 1 -4 11 -16z"/>
<path fill="#eb9172" fill-rule="evenodd" d="M220 172l1636 0 0 1805 -8 -4 -6 -5 -91 -92 -201 -248 -6 -12 -7 -44 -21 -107 -4 -10 -4 -1 -4 1 -32 24 -56 34 -16 6 -8 2 -4 -1 -1 -4 1 -4 4 -8 26 -32 68 -72 38 -32 5 -8 -2 -4 -3 -1 -28 -5 -16 0 -12 5 -32 20 -12 6 -12 1 -20 -5 -8 2 -12 8 -8 8 -11 21 -10 12 -15 10 -16 4 -104 1 -8 -3 -12 -18 -12 -5 -52 -8 -20 0 -10 3 -4 4 -1 4 -2 52 -2 8 -3 4 -10 3 -12 1 -12 -2 -20 -5 -8 -1 -8 3 -5 5 -1 8 3 8 16 32 20 32 0 8 -6 8 -31 23 -27 37 -21 21 -12 8 -8 1 -12 -1 -32 -9 -34 -20 -54 -28 -20 -16 -6 -8 0 -8 10 -16 22 -20 8 -12 9 -40 9 -28 8 -36 4 -12 4 -7 4 -2 8 3 47 34 17 9 12 3 8 -1 8 -4 6 -7 -1 -4 -5 -8 -88 -65 -8 -11 -2 -16 5 -40 -3 -24 6 -8 26 -19 8 -8 7 -13 0 -8 -3 -2 -8 -2 -60 -1 -16 4 -20 6 -8 5 -12 10 -8 4 -12 -1 -14 -7 -4 -4 -1 -4 7 -11 0 -5 -8 -17 -7 -11 -5 -4 -20 -2 -5 -2 -4 -4 -2 -4 1 -8 6 -20 -2 -8 -6 -9 -16 -12 -7 -7 -13 -28 -12 -17 -39 -39 -13 -11 -43 -21 -41 -15 -28 -13 -35 -24 -21 -19 -12 -13 -20 -28 -33 -72 -20 -32 -11 -12 -4 -16 4 -44 8 -64 4 -22 4 -8 4 -3 16 -4 28 -13 27 -22 28 -32 25 -36 28 -32 28 -36 15 -40 -5 -32 1 -8 3 -4 25 -16 21 -16 25 -24 5 -8 -2 -4 -4 -1 -21 9 -23 12 -36 27 -8 2 -8 -9 -16 -28 -4 -4 -4 -1 -4 1 -4 4 0 8 9 32 15 36 3 20 -1 4 -10 25 -24 31 -52 60 -4 3 -4 2 2 -25 7 -20 7 -24 0 -8 -13 -60 -11 -27 -4 -8 -4 -4 -8 -1 -4 2 -3 6 0 4 8 32 12 60 -5 19 -24 57 -7 12 -47 48 -17 28 -8 28 -13 69 -8 20 -4 6 -8 8 -12 4 -8 -3 -8 -9 -4 -2 -10 11 -6 2 -52 -11 0 -341 8 -4 8 -8 4 -1 2 3 6 24 1 16 4 20 1 16 6 7 4 2 3 -1 2 -8 2 -36 0 -24 -11 -76 -5 -16 -1 -8zM480 235l-4 5 0 4 1 4 11 10 4 2 4 -2 4 -6 -4 -8 -8 -8 -4 -2zM872 423l0 5 4 0 4 -4 -4 -3zM447 1108l9 -2 12 1 17 5 18 8 17 9 21 27 15 28 14 40 18 38 10 30 14 18 8 15 3 23 -3 17 -4 3 -4 -9 -8 -33 -6 -14 -46 -38 -20 -19 -24 -29 -32 -43 -16 -28 -13 -27 -2 -12zM290 1288l6 -2 4 5 2 9 7 48 3 12 1 8 -2 4 -7 5 -36 13 -57 26 -11 4 -6 0 -2 -4 7 -12 81 -105z"/>
<path fill="#e8896c" fill-rule="evenodd" d="M226 172l1630 0 0 1801 -12 -8 -75 -77 -190 -232 -27 -35 -5 -13 -25 -128 -2 -29 -4 -12 -4 -2 -4 1 -48 27 -8 2 -3 -3 3 -8 9 -12 31 -36 16 -16 26 -20 12 -12 7 -12 0 -4 -4 -4 -9 -2 -36 -4 -16 0 -16 7 -44 26 -12 1 -20 -7 -8 2 -19 13 -13 12 -12 28 -5 8 -11 8 -12 3 -36 -3 -64 1 -8 -3 -12 -15 -12 -5 -60 -9 -24 -1 -16 2 -8 5 -2 5 1 40 -3 16 -4 4 -8 2 -16 -3 -48 -24 -28 -28 -28 -18 -60 -44 -8 -9 -1 -12 2 -28 0 -24 6 -8 17 -14 12 -16 10 -26 1 -4 -3 -4 -16 3 -44 -1 -16 2 -20 5 -20 7 -16 13 -8 4 -8 -1 -11 -4 -5 -4 -1 -4 5 -8 0 -8 -16 -30 -8 -7 -16 -1 -8 -4 -2 -6 0 -4 5 -20 -3 -11 -8 -10 -20 -17 -14 -30 -26 -30 -28 -27 -20 -14 -32 -16 -52 -17 -16 -8 -19 -12 -25 -19 -16 -16 -24 -28 -12 -20 -27 -61 -23 -36 -10 -12 -3 -16 3 -36 8 -63 6 -29 6 -8 16 -4 28 -13 28 -23 28 -32 24 -34 28 -32 29 -38 15 -40 -5 -32 1 -8 4 -4 24 -15 24 -19 26 -26 2 -4 -2 -4 -6 -1 -4 1 -34 16 -46 32 -4 0 -4 -3 -19 -33 -4 -4 -5 -1 -4 1 -4 3 -1 9 9 32 15 36 3 20 -1 4 -9 24 -4 6 -24 30 -44 50 -8 7 -1 -5 0 -16 7 -20 6 -24 0 -8 -13 -64 -11 -25 -3 -7 -5 -4 -8 -1 -4 2 -3 3 -1 8 9 32 11 60 -4 17 -24 57 -7 14 -48 48 -16 28 -9 32 -13 64 -7 19 -4 6 -8 7 -12 3 -4 -1 -5 -6 -7 -16 -4 2 -4 6 -8 8 -8 2 -48 -12 0 -277 1 3 31 17 10 11 8 32 1 24 4 12 -2 16 3 11 3 -3 1 -4 -3 -16 -1 -40 4 -88 -4 -32 -8 -48 -2 -28 -5 -24 1 -20zM480 235l-5 5 0 4 2 4 11 11 4 1 4 -1 3 -3 1 -4 -4 -8 -8 -9zM876 412l-9 4 -6 8 -2 12 2 4 3 2 8 0 12 -5 7 -5 6 -8 0 -4 -3 -4 -6 -4zM1508 879l-4 5 0 8 8 3 8 -2 2 -9 -2 -5 -4 -2zM1548 1043l-5 9 -3 12 1 8 3 3 4 -1 7 -6 5 -8 2 -8 -2 -6 -4 -4 -4 -1zM455 1116l5 -3 4 -1 20 4 32 15 8 8 14 21 14 26 14 42 10 24 3 12 -1 4 -2 1 -4 -1 -20 -14 -24 -21 -20 -22 -28 -37 -16 -26 -9 -20 -1 -8zM291 1296l5 -1 4 9 5 40 5 20 -2 8 -40 14 -60 26 -4 -4 8 -12zM855 1440l5 -4 4 1 36 23 45 16 8 4 5 8 36 72 4 12 -1 8 -16 32 -13 20 -12 11 -8 6 -8 2 -20 0 -12 -1 -12 -3 -88 -43 -12 -9 -5 -7 0 -8 4 -8 25 -24 6 -8 11 -48 15 -47z"/>
<path fill="#e48066" fill-rule="evenodd" d="M231 172l1625 0 0 1796 -14 -12 -46 -46 -24 -26 -192 -235 -20 -26 -6 -11 -27 -136 0 -36 6 -20 1 -8 -2 -4 -4 -1 -8 1 -3 -4 8 -12 39 -36 4 -2 7 10 5 4 136 79 32 17 18 8 4 0 -14 -16 -19 -16 -124 -100 -13 -9 -8 -2 -6 3 -10 9 -8 -12 -8 -4 -31 -5 -29 -2 -16 3 -32 17 -20 7 -12 2 -24 -1 -12 5 -31 25 -8 12 -8 24 -4 8 -9 6 -8 2 -40 -5 -52 1 -8 -3 -12 -12 -8 -4 -60 -11 -24 -2 -58 0 -10 4 -36 23 -8 1 -4 -2 -24 -19 -24 -14 -40 -29 -20 -12 -4 -4 -4 -6 -1 -10 2 -36 3 -5 16 -16 8 -14 14 -33 7 -12 2 -4 -3 -6 -8 -2 -4 2 -8 8 -8 3 -44 1 -20 3 -36 12 -21 15 -7 1 -8 -3 -3 -2 -2 -4 3 -8 0 -4 -22 -39 -8 -6 -16 -2 -6 -5 3 -24 -1 -8 -4 -7 -25 -25 -13 -28 -16 -20 -18 -20 -28 -25 -28 -18 -16 -6 -52 -16 -16 -7 -20 -12 -20 -16 -28 -26 -20 -25 -12 -20 -25 -57 -23 -36 -10 -12 -2 -6 -1 -10 2 -36 7 -56 7 -36 5 -6 16 -5 24 -11 8 -5 24 -20 28 -31 24 -35 30 -35 27 -36 16 -40 -5 -32 2 -8 3 -4 23 -14 24 -19 27 -27 2 -4 -2 -4 -3 -2 -4 0 -24 10 -20 10 -28 21 -12 7 -4 0 -4 -3 -22 -35 -6 -2 -4 1 -4 3 -2 6 0 4 10 36 13 28 4 20 0 8 -13 28 -24 31 -48 53 -4 0 0 -16 6 -16 8 -32 -14 -64 -16 -38 -8 -4 -8 2 -4 4 0 8 8 32 12 60 -6 20 -22 53 -8 15 -48 48 -17 28 -9 32 -12 64 -6 16 -4 6 -8 7 -8 2 -4 0 -5 -3 -4 -8 -2 -12 -13 -168 0 -48 5 -40 0 -20 -15 -100 -1 -16 3 -20 -6 -8 -2 -8 0 -16zM480 234l-5 6 1 8 12 11 4 2 4 -2 3 -3 2 -4 -1 -4 -12 -13zM876 407l-12 5 -7 8 -10 24 0 4 4 4 9 2 12 -3 43 -23 1 -4 -2 -4 -17 -12 -9 -3zM964 687l-4 2 -4 6 -2 13 6 10 8 5 4 -1 7 -6 2 -4 1 -8 -2 -7 -4 -5 -8 -4zM1424 844l-3 4 6 8 25 16 36 33 8 3 28 1 5 -1 1 -8 -1 -20 -1 -5 -4 -6 -8 -2 -24 -1 -36 -12 -20 -10 -8 -1zM1548 1022l-4 5 -4 11 -6 26 0 8 2 7 4 3 4 1 7 -3 5 -4 14 -16 3 -8 -3 -8 -10 -12 -8 -9zM1500 1226l-8 6 -11 16 -7 12 0 4 2 2 8 0 12 -5 8 -7 10 -14 3 -8 -2 -4 -7 -3zM172 471l24 -6 8 1 4 4 3 6 5 28 4 56 6 20 0 16 4 20 0 16 4 20 0 16 5 20 -3 24 -4 7 -8 4 -8 0 -44 -14zM466 1124l6 -3 12 1 16 6 16 10 16 23 14 27 7 24 -1 12 -4 2 -12 -6 -16 -13 -16 -17 -16 -20 -16 -24 -6 -14zM276 1356l8 -11 4 0 12 9 5 6 1 4 -1 4 -5 2 -13 -2 -12 -8zM1050 1436l6 0 4 8 0 8 -2 4 -6 3 -10 -3 -4 -4 -1 -4 1 -4 4 -4zM855 1464l5 -3 4 0 53 23 11 7 8 9 33 76 2 8 -2 12 -5 12 -9 12 -11 9 -8 3 -16 1 -16 -1 -16 -4 -72 -33 -12 -7 -3 -4 -1 -4 3 -8 21 -21 7 -11 13 -52z"/>
<path fill="#e27b62" fill-rule="evenodd" d="M240 172l1616 0 0 1728 -32 -32 0 -4 -16 -16 0 -4 -16 -16 0 -4 -20 -20 0 -4 -16 -16 0 -4 -16 -16 0 -4 -20 -20 0 -4 -16 -16 0 -4 -16 -16 0 -4 -20 -20 0 -4 -16 -16 0 -4 -16 -16 0 -4 -20 -20 0 -4 -16 -16 0 -4 -12 -12 0 -8 -4 -4 0 -16 -4 -4 0 -16 -4 -4 0 -16 -4 -4 0 -16 -4 -4 0 -13 7 -7 1 -5 7 -11 1 -5 4 -4 5 1 3 3 13 5 7 7 5 1 3 3 13 5 7 7 5 1 3 3 13 5 7 7 5 1 3 3 13 5 7 7 5 1 3 3 13 5 7 7 5 1 3 3 13 5 7 7 5 1 3 3 13 5 7 7 5 1 3 3 12 5 4 0 1 -4 7 -1 0 -3 4 0 2 -4 2 -1 4 -11 0 -16 -13 -20 -34 -32 -177 -142 -8 -4 -20 -8 -48 -10 -12 -4 -6 -4 -1 -4 3 -8 29 -48 -1 -8 -3 -4 -13 -6 -12 -3 -12 1 -8 6 -36 42 -39 52 -25 15 -48 40 -5 9 -11 30 -4 6 -4 3 -12 1 -36 -7 -40 1 -8 -3 -16 -11 -12 -3 -72 -12 -40 -2 -32 -4 -19 1 -25 13 -8 2 -48 -28 -33 -23 -23 -13 -4 -3 -4 -8 -1 -16 2 -12 15 -24 19 -44 14 -20 2 -8 -3 -4 -12 -7 -8 -2 -4 3 -9 14 -7 4 -36 1 -20 4 -36 11 -12 6 -12 9 -8 1 -4 -4 -2 -12 -11 -16 -12 -24 -7 -7 -20 -5 -3 -8 2 -20 -5 -12 -25 -28 -7 -20 -5 -8 -37 -42 -28 -25 -24 -16 -12 -5 -56 -14 -20 -9 -16 -9 -15 -12 -37 -35 -20 -24 -16 -29 -21 -48 -21 -32 -9 -12 -3 -8 -1 -12 2 -40 9 -65 4 -18 4 -5 16 -5 32 -17 24 -19 28 -32 24 -35 31 -36 27 -36 16 -40 -5 -32 2 -8 49 -36 28 -28 1 -4 -1 -4 -4 -3 -4 0 -24 10 -20 10 -28 21 -12 7 -4 0 -4 -4 -21 -33 -7 -3 -8 4 -2 3 0 8 10 36 12 28 4 20 0 7 -8 21 -5 8 -23 29 -48 52 -4 -5 0 -4 7 -20 7 -32 -13 -64 -17 -39 -8 -4 -4 0 -6 3 -3 4 0 8 9 36 11 56 -5 20 -30 66 -8 10 -41 40 -17 28 -8 28 -13 68 -5 14 -4 6 -8 6 -8 2 -7 -4 -4 -8 -1 -8 -10 -164 1 -36 8 -28 0 -20 -8 -68 -8 -48 -2 -20 3 -14 15 -14 1 -4 -2 -8 -10 -12 -3 -8zM480 234l-6 6 2 8 12 12 8 0 4 -4 1 -4 -1 -4 -12 -14zM876 403l-17 9 -11 17 -8 9 -12 5 -41 5 -3 4 1 4 8 8 11 5 12 1 21 -2 27 -6 40 -22 24 -3 8 -5 1 -4 -1 -4 -4 -4 -29 -16 -11 -4zM948 662l-5 6 -11 20 -8 9 -12 5 -19 2 -3 4 -1 4 1 4 6 5 11 3 25 3 8 2 20 21 4 2 4 -1 12 -10 11 -17 4 -12 0 -12 -6 -12 -21 -19 -12 -7 -4 -1zM1420 827l-32 5 -7 4 -1 4 11 12 25 19 12 7 16 6 8 5 24 31 8 2 28 0 8 5 16 21 4 2 3 -2 3 -12 0 -16 -10 -28 -4 -23 -4 -7 -8 -4 -24 -1 -20 -4 -24 -9 -24 -15zM1544 994l-4 3 -4 11 -1 20 -7 36 1 12 3 8 4 4 4 1 6 -1 6 -3 16 -15 12 -8 3 -2 0 -4 -3 -8 -17 -24 -11 -23 -4 -6zM172 475l24 -6 4 0 5 3 4 8 4 24 4 56 6 20 0 16 4 20 0 16 4 20 0 16 4 24 -2 20 -5 6 -4 1 -8 -1 -44 -13zM482 1136l2 -3 4 0 9 3 13 8 11 20 3 8 0 6 -4 2 -4 -2 -16 -11 -12 -15 -5 -8zM858 1484l6 -1 4 2 32 15 11 8 10 12 7 16 18 52 0 12 -5 8 -5 4 -8 3 -8 1 -40 -7 -40 -17 -24 -12 -3 -4 1 -4 21 -28 13 -45 4 -9z"/>
<path fill="#de735c" fill-rule="evenodd" d="M250 172l1606 0 0 1352 -8 -4 -44 -41 -199 -159 -17 -18 -25 -10 -5 -4 -5 -8 0 -12 4 -12 10 -20 -1 -8 -11 -8 -27 -10 -20 -2 -8 2 -8 4 -64 72 -16 14 -8 1 -12 -6 -4 -1 -3 6 -3 20 -5 8 -41 36 -4 8 -9 24 -5 8 -6 4 -8 1 -36 -5 -32 -1 -20 -10 -8 -2 -88 -15 -36 -2 -52 -8 -12 0 -20 4 -8 -3 -36 -19 -26 -16 -26 -14 -4 -4 -3 -6 -1 -8 2 -8 25 -64 21 -28 2 -8 -1 -4 -4 -4 -21 -12 -8 -1 -4 2 -8 20 -3 3 -5 3 -32 2 -16 3 -44 15 -20 11 -4 -1 -18 -25 -14 -28 -8 -6 -12 -3 -6 -3 -2 -4 1 -20 -2 -8 -7 -11 -18 -21 -10 -27 -48 -53 -36 -31 -12 -7 -64 -14 -29 -12 -17 -12 -24 -24 -22 -20 -24 -30 -12 -23 -18 -43 -30 -45 -4 -11 0 -44 8 -61 4 -20 3 -7 5 -4 16 -6 28 -14 24 -20 28 -32 28 -40 25 -28 30 -40 16 -40 -5 -32 3 -8 47 -35 28 -28 2 -5 -1 -4 -5 -4 -4 0 -24 10 -20 11 -32 23 -8 4 -4 -1 -4 -3 -20 -33 -8 -3 -8 4 -3 4 0 8 10 36 13 31 4 21 -9 24 -5 8 -22 28 -40 44 -8 6 -2 -6 0 -4 7 -20 6 -28 -13 -64 -13 -32 -4 -8 -9 -4 -8 2 -3 2 -3 4 0 8 8 32 12 60 -5 20 -29 65 -12 14 -35 33 -19 28 -11 36 -12 68 -3 8 -8 9 -4 2 -8 1 -5 -4 -4 -12 -7 -144 2 -32 2 -8 8 -12 2 -8 0 -16 -7 -84 -10 -52 -2 -20 1 -10 2 -6 20 -16 5 -8 -1 -4 -10 -16 -5 -24 -1 -32 -4 -20zM480 233l-6 7 1 8 13 13 8 -1 4 -4 1 -8 -9 -11 -4 -3zM888 396l-16 5 -12 6 -5 5 -15 20 -12 5 -28 4 -20 -2 -16 -4 -4 -1 -3 2 1 12 5 16 9 7 24 8 44 -2 16 -4 12 -5 36 -22 8 -2 32 0 8 -5 3 -7 -1 -8 -1 -4 -4 -4 -49 -20zM1412 815l-64 8 -9 5 0 4 11 12 58 42 20 11 20 4 4 3 10 12 6 18 4 6 20 -4 12 -1 8 3 4 4 13 22 3 12 -5 24 1 28 -4 32 1 20 3 9 8 4 12 -1 24 -17 21 -7 3 -4 -3 -8 -23 -32 -11 -28 -2 -16 2 -36 -1 -16 -4 -12 -13 -24 -5 -28 -4 -9 -8 -5 -32 -1 -20 -3 -20 -8 -28 -21zM948 628l-12 10 -18 26 -6 6 -8 1 -14 -3 -10 0 -8 2 -8 5 -4 6 -4 11 -3 12 0 12 2 8 4 4 10 8 11 5 12 2 32 1 8 2 8 8 16 24 4 3 4 -1 4 -2 8 -8 26 -38 4 -12 0 -20 -2 -8 -4 -7 -27 -29 -11 -24 -6 -5zM1384 1048l-12 4 -7 8 -3 8 0 4 3 4 7 1 6 -1 6 -4 3 -4 4 -8 1 -8 -3 -4zM948 1300l-4 1 -1 3 5 5 8 2 2 -3 -1 -4 -5 -4zM172 479l24 -6 4 0 4 3 6 28 3 52 7 24 1 20 3 16 0 16 4 20 0 16 5 24 -2 16 -3 6 -4 2 -8 -1 -44 -13zM859 1508l9 1 16 9 8 6 12 15 8 13 8 20 2 12 -2 8 -4 2 -8 1 -32 -5 -24 -8 -20 -10 -2 -4 0 -4 11 -20 11 -29 4 -6z"/>
<path fill="#db6b55" fill-rule="evenodd" d="M292 172l1564 0 0 1280 -4 0 -16 -16 -4 0 -16 -16 -4 0 -16 -16 -4 0 -16 -16 -4 0 -16 -16 -4 0 -16 -16 -4 0 -16 -16 -4 0 -16 -16 -4 0 -16 -16 -4 0 -8 -8 -16 0 -6 -8 -18 -12 -8 -10 -7 -34 -38 -20 -39 -13 -24 -1 -8 2 -8 3 -10 9 -50 57 -16 12 -8 -1 -4 -3 -24 -36 -8 -7 -4 1 -3 17 1 56 -3 12 -6 8 -27 24 -13 28 -5 6 -8 5 -12 2 -48 -3 -36 -11 -88 -14 -40 -5 -76 -13 -8 -4 -6 -7 -17 -36 -6 -8 -6 -4 -9 -3 -8 -1 -24 7 -8 1 -3 -4 -1 -4 1 -8 13 -44 6 -12 20 -24 5 -12 -1 -6 -4 -4 -36 -20 -4 -1 -4 2 -4 9 -5 20 -7 6 -36 5 -36 11 -32 13 -4 1 -4 -2 -16 -18 -10 -24 -6 -8 -8 -5 -12 -3 -4 -4 -1 -20 -3 -10 -22 -34 -6 -20 -4 -8 -80 -85 -8 -5 -12 -4 -52 -6 -16 -4 -20 -8 -18 -12 -22 -26 -24 -20 -12 -12 -16 -22 -12 -24 -14 -36 -31 -48 -4 -12 -2 -28 2 -20 5 -41 8 -35 4 -4 44 -22 26 -22 28 -32 26 -38 26 -30 30 -40 15 -40 -4 -28 1 -8 2 -4 46 -33 28 -29 3 -6 -1 -4 -4 -4 -6 -1 -20 8 -24 13 -28 20 -12 6 -4 0 -4 -4 -20 -31 -8 -3 -4 0 -5 4 -2 4 -1 8 10 36 13 32 4 20 -11 28 -25 32 -43 45 -4 0 0 -5 6 -20 6 -28 -14 -68 -14 -32 -4 -6 -4 -2 -8 -1 -8 5 -3 4 0 8 8 32 12 60 -5 20 -24 55 -7 13 -47 44 -20 28 -9 32 -11 72 -6 11 -4 3 -4 2 -7 0 -5 -4 -3 -12 1 -28 -4 -60 0 -40 2 -16 2 -8 2 -3 8 -4 4 -5 2 -20 -7 -100 -13 -60 -1 -20 1 -8 3 -8 25 -20 3 -4 4 -8 2 -24 -1 -24 2 -24zM476 236l-3 4 0 4 5 8 10 9 4 1 5 -2 4 -4 0 -8 -9 -12 -8 -4zM896 391l-20 5 -16 8 -9 8 -11 15 -8 5 -8 2 -16 3 -16 0 -12 -3 -20 -9 -8 -2 -8 1 -7 4 -1 4 8 8 4 8 4 36 4 11 8 3 20 -2 31 -8 37 -6 24 -11 32 -21 12 -1 32 4 4 0 4 -3 4 -12 1 -14 -3 -12 -6 -7 -28 -5 -24 -8zM1408 802l-93 10 -15 4 -3 4 4 8 9 8 86 62 36 19 16 0 4 2 3 5 2 8 -5 40 0 4 4 3 8 -5 16 -16 8 -6 12 -3 8 3 4 4 6 12 2 8 -2 20 3 32 -2 24 0 16 2 20 3 5 3 3 9 2 12 -1 24 -15 32 -7 4 -3 -2 -8 -27 -36 -9 -20 -3 -20 4 -32 -1 -16 -5 -16 -21 -36 -4 -28 -4 -12 -8 -6 -44 -1 -20 -4 -16 -7 -20 -19 -12 -8zM952 596l-8 3 -8 7 -28 35 -8 8 -36 12 -12 7 -8 12 -13 40 2 8 4 4 39 23 16 5 28 1 8 4 6 7 18 33 4 4 4 0 8 -5 8 -10 36 -53 4 -13 1 -28 -1 -8 -3 -8 -17 -20 -5 -8 -8 -32 -7 -14 -12 -13 -4 -2zM1420 1011l-44 16 -12 9 -7 12 -5 16 -2 12 2 6 8 4 16 1 16 -3 8 -4 6 -8 11 -20 15 -32 0 -8 -4 -2zM172 483l24 -6 4 1 3 6 4 20 3 52 7 24 5 56 3 16 1 16 4 24 -1 16 -5 4 -8 0 -44 -13zM855 1536l5 -3 4 1 9 6 13 20 1 4 -2 4 -5 2 -12 0 -12 -3 -8 -5 -2 -6 1 -4z"/>
<path fill="#d7634f" fill-rule="evenodd" d="M331 172l508 0 3 20 1 28 18 40 3 4 7 4 21 6 8 -3 86 -87 7 -12 863 0 0 1045 -192 -28 -8 -3 -8 -8 -4 -1 -20 14 -20 17 -8 4 -12 -1 -40 -13 -12 -2 -20 0 -16 3 -12 8 -52 57 -8 5 -8 2 -8 -8 -44 -70 -8 -10 -4 -2 -4 4 -2 15 3 108 -1 12 -4 8 -21 20 -15 25 -8 5 -12 4 -24 2 -16 0 -44 -9 -120 -19 -68 -14 -8 -3 -7 -7 -21 -35 -10 -9 -10 -4 -12 -3 -8 -1 -16 4 -4 0 -4 -3 -1 -5 1 -12 9 -32 7 -11 25 -29 4 -12 -6 -8 -26 -16 -11 -8 -4 -8 -2 -21 -4 -3 -12 6 -4 4 -3 6 4 24 0 12 -2 12 -6 8 -37 8 -60 22 -8 1 -4 -2 -13 -13 -10 -24 -5 -8 -8 -6 -16 -6 -2 -4 -2 -20 -2 -8 -19 -32 -7 -29 -5 -7 -19 -17 -36 -43 -8 -12 -4 -17 -8 -3 -28 -2 -28 0 -20 -1 -20 -4 -16 -6 -17 -11 -8 -8 -9 -16 -6 -8 -28 -21 -16 -16 -8 -11 -8 -15 -18 -49 -31 -52 -6 -24 0 -24 7 -52 10 -24 3 -4 10 -8 29 -17 28 -24 27 -31 25 -37 27 -31 22 -28 8 -12 15 -36 0 -8 -4 -28 3 -8 41 -28 31 -32 4 -8 -3 -7 -8 -3 -24 10 -20 11 -29 21 -11 5 -4 -1 -4 -4 -20 -30 -8 -3 -4 1 -6 4 -2 4 0 8 9 36 13 32 4 20 -9 24 -5 8 -32 38 -24 26 -8 5 0 -9 9 -40 -14 -68 -14 -32 -5 -7 -4 -2 -8 -1 -5 2 -5 4 -2 4 0 8 9 32 11 57 -4 20 -24 56 -9 15 -15 15 -30 25 -14 16 -11 8 -4 4 -12 108 -5 8 -8 5 -6 -1 -4 -4 -2 -12 2 -24 -2 -52 1 -32 3 -12 4 -5 12 1 4 -1 2 -7 1 -12 -7 -116 -4 -24 -13 -52 -1 -20 2 -8 5 -8 35 -25 2 -3 3 -20 11 -16 4 -8 9 -48zM484 232l-4 0 -5 4 -2 4 1 8 14 14 8 0 5 -6 1 -8 -10 -13zM640 732l-6 4 -5 12 0 8 3 4 12 0 35 -12 -2 -4 -4 -4 -13 -7 -12 -3zM684 271l20 2 3 -1 -15 -1zM708 273l-1 3 27 4 26 1 11 -1zM892 387l-16 6 -16 8 -9 7 -13 16 -14 7 -16 3 -16 -1 -16 -5 -16 -10 -12 -1 -41 11 -4 4 0 8 5 5 20 -3 7 2 5 4 2 8 1 8 -4 28 3 8 6 10 8 5 8 0 28 -5 28 -14 44 -11 16 -9 24 -19 8 -4 12 1 24 6 9 4 11 10 4 1 3 -7 -3 -20 1 -28 -3 -16 -2 -6 -4 -5 -12 -4 -24 0 -24 -3zM1272 791l-5 5 -1 12 6 12 12 14 20 18 24 19 52 37 33 20 4 4 4 8 1 32 -3 12 -10 8 -41 17 -8 8 -4 7 -16 52 0 8 4 6 12 3 32 0 16 -2 12 -5 5 -6 31 -52 4 -4 14 -8 3 -4 3 -20 3 -8 9 -13 8 -5 4 0 4 2 4 8 7 104 2 12 3 6 8 4 16 0 8 -2 24 -12 40 -3 10 -5 1 -4 -2 -4 -13 -12 -18 -20 -9 -12 -6 -12 -3 -20 7 -40 -1 -12 -8 -16 -25 -40 -3 -8 -4 -32 -2 -7 -4 -5 -8 -3 -52 0 -16 -3 -12 -7 -28 -27 -12 -6 -12 0 -72 6 -16 -1 -24 -6zM1404 645l-4 3 4 8 24 34 6 6 6 2 24 -1 28 10 5 -3 -1 -4 -4 -3 -52 -33 -20 -12zM1516 422l-12 10 -33 44 -8 24 -18 84 0 12 7 11 28 18 8 3 4 -1 4 -4 5 -27 20 -156 0 -16 -1 -1zM1636 758l-16 11 -8 1 -12 -3 -4 1 -4 2 -3 6 -2 12 1 12 6 4 6 1 24 -1 4 -4 11 -36 -1 -4zM1728 623l-24 25 -52 68 -3 8 1 4 6 7 8 1 8 -8 44 -75 8 -17zM960 564l-16 7 -13 9 -36 44 -12 12 -12 8 -27 13 -7 7 -13 24 -14 20 -3 12 -2 16 1 8 6 6 32 5 44 19 24 4 8 3 8 9 20 41 4 5 4 1 8 -4 8 -9 51 -76 4 -16 1 -28 0 -12 -2 -8 -13 -20 -4 -8 -8 -40 -5 -15 -20 -30 -8 -7zM1624 883l-6 5 -3 8 0 16 3 12 9 16 13 16 8 7 8 -1 14 -10 2 -4 0 -4 -14 -16 -26 -40 -4 -4zM172 488l24 -5 4 6 4 27 -4 32 14 32 9 88 5 24 -1 12 -3 5 -4 1 -48 -13z"/>
<path fill="#d35a4a" fill-rule="evenodd" d="M335 172l499 0 3 20 2 28 15 32 2 16 5 4 37 12 22 12 4 1 2 -5 1 -16 2 -4 31 -28 48 -48 10 -12 7 -12 215 0 0 48 -4 4 0 4 0 4 0 4 0 -4 4 -4 0 -4 4 -4 0 -4 4 -4 0 -4 4 -4 0 -4 4 -4 0 -4 4 -4 0 -4 4 -4 0 -4 4 -4 468 0 0 40 -4 4 0 4 -12 12 0 4 -12 12 0 4 -12 12 0 4 -8 8 0 4 -12 12 0 4 -12 12 0 4 -12 12 0 4 -12 12 0 4 -8 8 0 4 -12 12 0 4 -12 12 0 4 -12 12 0 4 -12 12 0 4 -8 8 0 4 -8 8 -1 -20 -3 0 0 -4 -4 -4 -8 -4 -16 -4 -12 0 -12 8 -43 52 -7 12 -10 24 -20 68 -2 12 7 20 7 11 8 7 32 19 8 1 8 -1 29 -13 15 -12 0 -6 4 -2 8 8 4 0 8 8 4 0 4 4 4 0 8 8 4 0 8 8 4 0 4 4 4 0 8 8 4 0 2 4 1 8 5 22 8 51 -4 2 -20 -1 -40 -18 -4 0 -4 2 -4 9 -3 17 -8 64 2 4 9 1 48 -3 24 1 3 -3 1 -4 0 -16 2 -8 9 -24 -1 -12 2 -2 12 -2 4 -2 8 -11 76 -132 20 -43 7 -24 -3 -17 -3 -7 -1 -19 -3 -1 -1 -8 -4 0 0 -4 4 -4 0 -4 8 -8 0 -4 8 -8 0 -4 8 -8 0 -4 8 -8 0 -4 8 -8 0 -4 8 -8 40 0 0 780 -12 -1 -13 -3 -31 -11 -8 -1 -8 -4 -8 0 -4 -4 -8 0 -8 -8 -4 0 -8 -8 -4 0 -8 -8 -4 -8 -6 -20 -10 -16 -8 -5 -8 -1 -12 8 -36 36 -4 8 -6 18 -4 8 -28 32 -9 8 -5 2 -8 0 -36 -11 -12 -2 -20 1 -20 3 -12 7 -44 47 -8 7 -8 2 -4 -1 -6 -7 -66 -108 -8 -10 -4 -4 -4 -1 -4 7 -1 16 6 156 -2 16 -4 8 -23 28 -4 4 -32 10 -16 3 -12 -1 -152 -25 -67 -15 -9 -4 -4 -4 -20 -32 -9 -8 -27 -10 -12 -1 -12 1 -6 -2 -2 -4 0 -8 7 -28 8 -12 26 -28 4 -8 3 -8 -4 -8 -30 -20 -6 -8 -1 -12 9 -44 1 -12 -1 -5 -4 -2 -8 4 -44 32 -8 9 -1 6 1 8 14 40 0 12 -6 7 -36 11 -56 21 -8 0 -4 -2 -12 -13 -7 -20 -6 -8 -7 -6 -13 -6 -6 -4 -5 -30 -16 -34 -5 -32 -3 -4 -24 -18 -11 -14 -13 -20 -4 -12 3 -36 -3 -7 -8 -1 -36 10 -56 2 -32 -4 -12 -5 -12 -7 -9 -12 -6 -16 -5 -8 -40 -29 -12 -11 -6 -8 -8 -20 -11 -40 -27 -52 -12 -28 -3 -12 0 -20 3 -17 4 -14 4 -5 9 -4 4 -4 2 -8 1 -12 3 -8 9 -8 16 -10 29 -26 27 -32 25 -36 27 -32 25 -32 5 -8 15 -36 0 -8 -3 -24 2 -10 5 -6 39 -26 28 -30 3 -4 0 -8 -3 -4 -4 -2 -8 1 -40 19 -31 22 -9 4 -4 -2 -4 -3 -16 -26 -4 -4 -4 -2 -8 0 -7 5 -2 4 0 8 9 36 13 32 4 20 -9 24 -4 7 -28 34 -24 24 -8 6 -1 -7 7 -36 -14 -68 -14 -32 -6 -8 -4 -2 -8 -1 -8 4 -5 7 0 8 9 34 11 58 -5 20 -22 50 -12 20 -16 15 -16 11 -20 10 -8 0 -4 -2 -2 -4 -3 -8 -7 -96 -4 -24 -15 -60 -1 -20 3 -12 9 -11 12 -8 25 -9 6 -4 2 -4 -5 -16 0 -8 13 -24 3 -12 -1 -40zM480 232l-6 4 -2 4 1 8 15 14 8 0 6 -6 0 -8 -10 -13 -8 -4zM636 719l-8 3 -7 6 -16 36 -1 8 1 8 4 8 7 7 8 1 16 -9 16 -7 12 -9 8 -2 52 2 12 -1 5 -2 -1 -4 -11 -8 -61 -32 -16 -5zM668 266l-3 2 11 4 44 8 37 4 8 0 21 -4 9 -4 -11 -1 -24 1zM940 367l-28 11 -24 7 -20 8 -16 11 -16 18 -8 4 -16 4 -16 0 -16 -5 -20 -12 -16 0 -40 10 -8 4 -2 5 0 4 2 11 4 9 4 4 4 0 16 -9 4 0 4 2 3 7 -2 8 -13 12 1 4 23 39 8 9 4 1 40 -10 35 -19 37 -14 12 -7 24 -21 12 -5 20 4 15 7 6 8 15 30 8 9 4 0 5 -3 12 -12 5 -8 0 -4 -22 -41 -5 -63 -3 -4 -4 -2zM1048 313l-44 15 -20 12 0 4 8 12 8 6 49 18 7 2 4 -1 1 -9 -1 -14 -8 -33zM1284 760l-28 6 -9 6 -2 8 2 12 4 16 5 11 14 17 42 42 28 22 51 36 4 4 2 8 0 16 -3 8 -6 6 -24 11 -8 9 -4 8 -26 78 -1 8 3 8 8 2 72 -3 18 -3 11 -8 19 -34 8 -9 8 -4 20 -2 8 2 4 6 4 16 5 33 3 6 4 3 12 2 16 -2 24 -8 12 -1 20 0 28 6 4 0 4 -2 10 -20 2 -8 -1 -4 -7 -4 -20 -3 -8 -4 -13 -13 -12 -16 -5 -12 -2 -12 1 -12 5 -20 6 -12 4 -4 4 0 8 5 24 23 8 4 4 -2 19 -22 22 -16 2 -4 0 -4 -3 -3 -16 -6 -8 -7 -19 -28 -9 -18 -4 -2 -8 0 -8 4 -5 4 -3 8 -8 42 -4 5 -4 -1 -12 -11 -27 -39 -3 -12 -4 -44 -2 -6 -3 -2 -69 -1 -12 -2 -10 -5 -26 -26 -16 -11 -12 -2 -40 3 -16 -1 -12 -3 -32 -15zM1324 576l0 4 3 8 11 16 56 68 22 33 7 7 9 1 28 -7 8 1 20 7 8 2 9 -4 12 -12 2 -4 0 -4 -7 -7 -156 -97 -24 -12zM1740 878l-17 6 -4 4 0 4 13 15 4 2 4 0 4 -2 7 -7 2 -4 1 -8 -2 -5 -4 -4zM964 536l-34 16 -10 7 -44 53 -24 20 -28 19 -28 31 -6 10 -2 8 -10 64 2 8 8 6 48 -1 20 1 12 3 24 10 20 5 4 4 6 8 22 51 4 7 4 1 8 -4 8 -10 61 -89 7 -15 2 -17 0 -48 -10 -28 -12 -64 -6 -12 -30 -45 -4 -3zM172 552l12 3 16 9 8 11 2 5 9 88 6 24 -1 11 -4 3 -8 -1 -40 -11zM271 608l5 -3 4 6 1 5 -2 44 6 36 -1 5 -4 8 -8 5 -4 -1 -4 -5 -1 -8 6 -32 -2 -40 1 -8z"/>
<path fill="#cf5246" fill-rule="evenodd" d="M338 172l493 0 3 20 1 28 15 32 0 8 -2 2 -12 3 -20 2 -52 8 -56 -6 -48 -7 -8 0 -2 2 30 10 40 7 25 3 19 1 40 -6 40 -3 36 7 16 7 48 33 16 15 7 10 2 8 -1 3 -4 2 -8 -3 -12 -8 -4 -1 -4 2 -20 19 -8 5 -28 10 -16 8 -16 11 -15 16 -9 4 -16 3 -16 -2 -12 -4 -12 -10 -12 -2 -20 3 -38 8 -8 4 -2 4 0 12 8 30 29 34 21 40 6 7 4 1 8 -1 20 -9 28 -9 20 0 4 -1 16 -24 24 -14 28 -26 12 -6 8 0 10 2 9 4 4 4 7 12 7 20 1 8 -2 7 -4 4 -8 5 -20 8 -20 -1 -8 2 -4 4 -8 19 -10 16 -14 17 -12 10 -8 5 -8 2 -24 -5 -8 2 -9 5 -3 4 -3 8 -3 24 -15 24 -11 39 -7 9 -9 7 -8 4 -12 0 -12 -3 -44 -17 -28 -2 -16 1 -8 2 -5 4 -7 12 -16 40 -4 16 4 12 24 33 8 5 8 -2 36 -30 12 -14 8 -4 68 3 8 2 7 7 8 28 22 56 2 8 -1 4 -6 6 -16 6 -40 11 -60 10 -16 1 -16 -6 -8 0 -13 16 -11 8 -8 3 -52 7 -28 0 -20 -5 -12 -7 -7 -10 -5 -20 -4 -8 -44 -31 -10 -9 -6 -8 -4 -12 -11 -48 -15 -40 -4 -32 -22 -30 -1 -10 2 -8 6 -8 13 -8 7 -8 3 -8 -2 -24 3 -8 45 -41 26 -31 24 -36 28 -32 27 -36 17 -40 0 -8 -3 -24 1 -8 3 -4 41 -28 29 -32 4 -8 -1 -4 -4 -5 -4 -2 -8 1 -40 19 -32 22 -8 3 -4 -1 -4 -4 -15 -25 -4 -4 -9 -3 -8 3 -6 8 0 8 9 36 13 32 4 20 -12 29 -32 38 -16 16 -8 5 -2 -8 5 -24 0 -8 -16 -68 -12 -28 -6 -8 -9 -4 -8 1 -5 3 -5 8 -1 8 11 38 10 54 -5 20 -21 48 -12 20 -16 14 -12 7 -16 3 -8 -2 -4 -5 -1 -5 -7 -72 -21 -88 -2 -20 3 -13 8 -11 12 -7 33 -13 7 -8 1 -12 -5 -16 3 -8 7 -12 0 -4zM480 231l-7 5 -2 8 2 4 11 12 4 3 8 0 7 -7 0 -8 -11 -14 -8 -4zM1056 172l32 0 -2 8 -4 8 -88 132 -6 6 -12 4 -8 -1 -12 -5 -8 -8 -7 -12 -2 -8 4 -8 105 -105zM1327 172l241 0 0 40 -248 248 0 4 4 0 4 4 4 0 8 8 4 0 8 8 4 0 4 4 12 -12 4 0 12 -12 4 0 12 -12 8 0 1 4 7 2 5 10 3 2 4 10 4 14 1 14 -7 24 -22 54 -4 2 -4 -1 -12 -5 -16 -10 -28 -22 -72 -40 -12 -4 -12 -1 -10 3 -3 4 0 4 21 23 16 22 40 40 54 59 11 16 24 40 7 9 4 3 8 0 36 -14 8 -1 32 7 20 -8 8 -2 8 3 11 7 4 8 1 8 -7 48 -3 16 -6 7 -12 3 -48 0 -12 -1 -12 -7 -32 -29 -12 -7 -8 -2 -24 -1 -12 -3 -52 -25 -12 -4 -12 1 -44 11 -8 3 -6 6 0 12 4 20 8 28 7 12 75 78 20 19 25 19 4 4 3 8 -2 8 -14 13 -5 7 -19 43 -8 13 -45 48 -6 8 -1 4 1 4 3 4 26 16 3 4 3 8 2 20 6 148 -1 20 -7 12 -12 11 -44 17 -12 1 -60 -12 -56 -10 -40 -4 -60 -14 -12 -8 -16 -25 -8 -8 -12 -5 -24 -7 -24 -4 -3 -4 0 -8 3 -16 3 -8 33 -36 8 -12 2 -8 -2 -8 -3 -4 -18 -12 -9 -8 -3 -12 2 -20 15 -53 4 -19 1 -16 -6 -20 -1 -12 11 -68 7 -36 5 -16 6 -12 57 -85 5 -11 2 -8 3 -52 5 -28 0 -8 -11 -34 -11 -50 -13 -28 0 -8 5 -8 27 -20 17 -20 6 -12 5 -40 4 -8 4 -3 12 -1 20 5 12 4 20 12 8 3 8 0 12 -3 8 -5 4 -4 9 -16 120 -240zM999 408l9 5 6 7 3 8 2 16 -3 5 -4 2 -8 -2 -4 -3 -6 -10 0 -20 2 -7zM1850 444l6 -3 0 703 -16 -7 -120 -81 -5 -4 -4 -8 -3 -14 -4 -1 -20 17 -4 0 -4 -2 -8 -10 -4 -10 -6 -20 0 -12 4 -12 10 -13 8 -6 20 -9 5 -4 2 -8 -4 -8 -7 -7 -20 0 -8 -5 -16 -24 -5 -12 -3 -12 -4 -2 -16 2 -15 8 -6 8 -6 24 -3 8 -2 2 -4 1 -4 -2 -12 -13 -16 -23 -3 -13 -1 -20 2 -16 3 -4 7 -4 48 -8 8 1 24 7 4 -1 4 -3 0 -8 -3 -20 0 -8 3 -12 8 -18 12 -14 52 -88 40 -69 43 -83 36 -52zM1736 872l-28 8 -3 4 -1 4 4 10 12 17 8 9 4 2 8 -2 12 -10 9 -14 2 -8 -1 -8 -6 -10 -8 -3zM172 689l0 -57 12 0 0 4 4 2 2 6 2 1 12 16 12 19 5 12 -2 8 -7 1 -32 -11zM268 692l4 -6 4 0 4 3 2 7 -2 8 -4 4 -4 1 -4 -3 -1 -6zM857 804l11 -1 12 1 20 6 8 5 6 9 4 12 1 8 -3 8 -10 4 -26 5 -11 -1 -5 -3 -8 -13 -10 -28 2 -8zM780 953l32 -13 8 2 4 4 50 62 10 16 1 8 -5 32 -6 8 -18 16 -4 8 3 16 22 48 1 12 -1 4 -5 4 -76 29 -12 3 -8 -3 -8 -7 -8 -22 -5 -8 -10 -8 -15 -8 -3 -4 -5 -28 -11 -32 -2 -12 0 -16 7 -16 1 -4 -1 -4 -4 -1 -16 2 -12 -4 -7 -5 -6 -8 -4 -8 -1 -8 11 -44 7 -8 12 -4 16 -2 8 1 24 8 12 0zM1601 976l3 -1 4 0 8 5 17 16 9 12 4 12 4 20 -2 8 -5 4 -11 3 -12 -2 -12 -9 -12 -16 -4 -12 0 -12 4 -19zM1476 1064l12 -3 9 3 3 4 3 8 5 24 4 7 4 2 8 2 20 0 36 -6 20 2 12 3 6 6 4 8 4 16 0 8 -3 8 -5 8 -18 21 -8 6 -12 2 -28 -8 -12 -2 -24 1 -23 4 -13 9 -36 38 -8 5 -8 1 -9 -9 -55 -92 -9 -16 -2 -8 3 -5 10 -3 58 -3 20 -4 8 -5 15 -24z"/>
<path fill="#cc4c44" fill-rule="evenodd" d="M340 172l487 0 3 20 1 28 3 8 10 16 4 8 0 4 -4 4 -8 2 -24 0 -22 6 -30 5 -72 -7 -36 -7 -5 1 0 4 33 11 54 9 30 2 36 -5 28 -2 16 0 12 2 24 6 12 5 40 32 7 8 1 4 -2 4 -13 16 -9 9 -12 8 -28 10 -12 7 -16 10 -16 17 -8 4 -16 2 -16 -2 -11 -5 -9 -9 -8 -2 -24 3 -48 9 -7 3 -2 4 -1 8 6 40 5 8 20 20 7 12 19 48 3 12 0 8 -6 11 -12 13 -6 24 0 12 -2 12 -6 12 -8 12 -17 16 -9 3 -56 2 -8 1 -8 4 -7 6 -4 8 -26 64 -2 12 3 12 40 58 8 8 4 2 8 -6 44 -45 16 -20 12 -2 20 1 24 -2 8 2 4 4 1 4 4 32 14 40 -1 8 -4 4 -14 6 -24 6 -60 9 -12 -3 -28 -19 -8 -3 -4 0 -6 8 -12 32 -7 8 -11 4 -24 5 -24 3 -17 0 -15 -4 -10 -8 -3 -8 -4 -24 -6 -8 -41 -27 -14 -13 -4 -12 -11 -68 0 -12 4 -32 -1 -12 -3 -8 -22 -24 -3 -8 2 -8 13 -16 4 -8 0 -8 -4 -20 1 -8 9 -12 23 -24 26 -32 27 -40 28 -32 27 -36 17 -40 1 -8 -4 -24 2 -8 2 -3 40 -27 18 -22 12 -12 3 -8 -1 -5 -4 -5 -4 -2 -8 1 -40 19 -29 20 -11 4 -4 -1 -4 -4 -18 -27 -10 -3 -9 3 -6 8 0 8 9 36 13 32 4 20 -12 28 -27 33 -16 16 -8 5 -3 -2 0 -4 3 -20 0 -8 -8 -30 -6 -34 -8 -20 -8 -16 -6 -6 -12 -3 -11 5 -3 4 -2 8 11 44 10 48 0 8 -4 12 -25 57 -8 12 -12 11 -8 4 -8 2 -12 -2 -4 -4 -2 -4 -6 -52 -23 -92 -2 -20 4 -16 8 -12 13 -8 24 -8 8 -6 4 -7 6 -19 -1 -16 1 -12 -7 -24 -5 -40zM480 230l-7 6 -2 8 1 4 12 13 4 2 8 0 4 -2 3 -5 0 -8 -11 -15 -4 -2zM1062 172l21 0 -2 8 -7 12 -80 120 -6 8 -8 5 -8 0 -12 -5 -8 -8 -4 -8 -1 -8 4 -8 17 -19 89 -89zM1852 452l4 -3 0 147 -4 4 0 4 -4 4 0 8 -4 4 0 4 -4 4 0 4 -4 4 0 8 -4 4 0 4 -4 4 0 4 -4 4 0 8 -4 4 0 4 -4 4 0 4 -4 4 0 8 -4 4 0 4 -4 4 0 4 -4 4 0 8 -4 4 0 4 -4 4 0 4 -4 4 0 8 4 0 4 -4 4 0 4 -4 8 0 4 -4 40 0 0 172 -48 0 -4 -4 -4 -1 -1 -3 -3 -1 -1 -3 -19 -17 -16 -20 -4 -2 -8 -2 -40 9 -10 4 -1 4 3 20 -1 8 -3 4 -8 5 -8 2 -4 -1 -8 -6 -12 -20 -3 -12 4 -16 -1 -3 -4 -1 -28 8 -16 8 -9 8 -7 20 -4 6 -4 1 -4 -2 -12 -13 -9 -16 -2 -24 3 -15 4 -4 8 -4 40 -6 12 2 32 13 4 0 2 -2 2 -4 0 -8 -7 -40 4 -16 11 -15 8 -18 88 -151 44 -80zM912 468l8 -3 8 1 8 3 8 7 5 12 4 16 -3 8 -4 4 -14 7 -12 0 -35 -15 -2 -4 1 -4 4 -8 14 -16zM1070 704l10 0 79 12 37 2 4 6 22 80 6 16 9 12 74 80 16 20 7 12 1 4 -3 7 -12 8 -76 37 -16 4 -4 3 -16 1 -4 4 -4 0 4 4 0 4 -2 60 0 8 4 8 13 12 65 32 7 8 3 12 5 156 -4 8 -7 6 -44 20 -16 -1 -36 -11 -28 -6 -36 -6 -44 -2 -52 -12 -12 -6 -16 -23 -8 -7 -20 -8 -44 -12 -3 -4 0 -12 4 -12 34 -36 9 -12 4 -8 1 -8 -1 -4 -4 -5 -16 -13 -6 -6 -2 -8 -1 -8 3 -24 12 -44 10 -44 2 -44 6 -36 13 -56 6 -20 12 -20 35 -52 6 -12 2 -12 3 -40 3 -7zM1463 720l9 -1 24 5 24 -6 6 2 6 4 4 8 0 16 -5 32 -3 8 -4 4 -8 3 -12 1 -28 0 -12 -3 -24 -15 -26 -22 -3 -4 0 -4 4 -4 30 -16zM1709 960l8 0 3 3 -2 9 -19 36 -11 9 -8 1 -5 -6 -7 -16 -1 -8 2 -8 5 -8 6 -4 9 -4zM790 976l10 -4 4 0 6 4 30 36 7 12 0 12 -15 32 -1 12 6 20 27 56 4 12 -1 4 -3 3 -8 5 -57 24 -15 4 -8 -2 -5 -6 -7 -20 -8 -10 -8 -7 -17 -11 -2 -4 -3 -20 -9 -40 -2 -12 4 -12 19 -24 8 -12 10 -28zM1603 992l5 -4 4 1 12 10 8 10 4 11 3 16 -3 8 -4 3 -8 1 -8 -3 -8 -7 -7 -10 -3 -8 0 -8 2 -12zM1479 1088l5 -3 8 0 4 4 8 19 4 4 8 3 16 1 44 -2 19 2 9 3 7 9 4 12 0 8 -3 8 -16 21 -4 3 -8 4 -40 -7 -52 5 -12 8 -32 32 -8 5 -4 0 -4 -2 -8 -10 -47 -79 -4 -8 -1 -8 6 -4 10 -2 52 -2 16 -3 10 -5z"/>
<path fill="#c84440" fill-rule="evenodd" d="M342 172l480 0 6 52 4 8 9 12 4 8 -1 4 -4 3 -8 1 -16 -5 -12 0 -26 13 -18 3 -68 -6 -40 -7 -4 0 -3 2 0 4 8 4 27 8 48 8 32 3 52 -5 28 -1 12 2 28 8 12 6 32 27 6 8 0 8 -3 8 -6 8 -9 8 -12 8 -24 8 -12 6 -19 14 -13 13 -8 4 -16 3 -12 -2 -8 -3 -12 -11 -8 -3 -60 11 -20 1 -8 4 -3 11 2 24 0 20 4 8 23 24 6 12 2 16 -2 5 -8 7 -8 12 -15 48 -20 28 -1 12 7 16 -2 8 -9 6 -24 2 -16 4 -20 10 -11 10 -5 8 -17 40 -12 36 -2 12 1 8 6 15 26 41 4 8 1 8 -8 40 -3 8 -8 6 -17 6 -31 5 -10 -1 -6 -3 -5 -9 -3 -24 -4 -9 -8 -7 -40 -27 -5 -5 -5 -8 -7 -60 4 -56 0 -20 -3 -21 -11 -23 4 -24 -6 -28 0 -8 5 -12 42 -52 26 -39 25 -29 31 -40 16 -40 1 -8 -3 -24 2 -9 7 -7 33 -20 19 -24 12 -12 2 -4 0 -8 -5 -7 -4 -1 -8 1 -40 17 -31 22 -9 3 -4 -2 -4 -4 -13 -21 -7 -6 -8 -2 -10 4 -5 8 -1 8 8 36 14 32 4 20 -12 28 -26 31 -20 18 -4 -1 1 -28 -9 -35 -5 -29 -13 -32 -6 -9 -8 -4 -12 -1 -8 4 -6 10 0 8 11 36 11 52 -1 8 -4 16 -23 49 -8 13 -8 7 -8 4 -12 -1 -5 -4 -3 -8 -8 -40 -22 -84 -2 -20 4 -16 8 -16 12 -8 24 -7 4 -3 5 -6 4 -16 11 -20 0 -12 -12 -15 -6 -13 -6 -44zM476 232l-6 8 0 4 4 8 14 12 8 0 4 -3 4 -5 0 -4 0 -4 -5 -8 -11 -10 -8 0zM1067 172l11 0 -9 20 -79 120 -6 6 -8 3 -8 -1 -7 -4 -7 -8 -2 -8 3 -8 5 -8 12 -14 91 -90zM915 472l5 -2 8 1 8 4 4 5 4 16 -3 8 -5 4 -8 3 -8 0 -12 -5 -8 -6 -2 -4 2 -8 6 -8zM1832 492l4 -3 1 3 -9 28 -89 208 -1 8 4 28 -2 24 12 30 4 4 4 2 12 -4 72 -28 12 -3 0 85 -76 -1 -8 -4 -12 -12 -8 -2 -44 11 -20 0 -3 2 8 20 2 12 -3 6 -4 4 -8 3 -4 -2 -10 -11 -4 -8 -2 -8 5 -12 7 -6 5 -2 3 -4 -6 -16 -8 -52 0 -12 6 -9 14 -7 -4 -12 3 -12 89 -152 42 -75zM1463 728l13 -2 16 2 20 -2 9 2 5 8 0 8 -3 20 -5 12 -6 4 -8 1 -28 -1 -12 -5 -21 -15 -7 -8 0 -4 2 -4 10 -8zM1075 732l5 -3 12 0 68 12 17 7 11 12 8 14 19 50 33 40 8 12 2 8 -2 3 -12 4 -84 9 -20 7 -32 19 -12 5 -80 17 -4 0 -4 -4 -2 -8 2 -16 16 -72 10 -20 31 -48 3 -12 4 -28zM731 808l9 0 4 2 4 6 1 36 4 24 -1 5 -4 5 -12 6 -12 3 -36 5 -12 0 -12 -4 -19 -16 -3 -8 6 -12 14 -16 22 -21 8 -6 8 -4zM1576 839l32 -6 12 1 20 10 4 4 0 4 -10 8 -32 16 -8 8 -10 15 -4 0 -8 -6 -8 -11 -3 -10 0 -12 3 -12 4 -5zM1005 972l3 -1 4 4 17 33 7 9 8 3 28 -3 8 4 69 87 11 12 12 5 24 4 12 4 52 24 12 8 4 7 2 12 5 112 -1 16 -6 9 -28 14 -16 5 -12 -2 -44 -16 -28 -8 -16 -1 -44 -1 -24 -3 -24 -6 -12 -5 -7 -6 -11 -16 -10 -7 -60 -18 -5 -3 -3 -8 4 -12 38 -40 9 -12 4 -8 1 -8 -3 -8 -16 -16 -4 -8 0 -28 3 -20 20 -69 8 -24 4 -9zM1679 980l5 -4 4 0 2 4 -2 14 -4 1 -4 -4 -2 -7zM786 1004l6 0 7 4 9 12 2 8 -1 8 -3 8 -15 20 -3 8 1 4 5 4 18 10 8 9 29 57 3 12 -2 4 -11 8 -41 20 -14 4 -9 -4 -5 -16 -8 -12 -10 -9 -17 -11 -3 -4 -9 -68 5 -12 25 -28 19 -27 8 -6zM1607 1004l5 -2 4 1 5 5 6 8 2 8 1 8 -2 5 -4 2 -8 -1 -10 -10 -3 -12zM1471 1116l17 -6 4 0 12 8 12 3 52 1 24 4 4 2 6 8 2 8 -1 8 -7 12 -12 9 -8 1 -20 -3 -12 -1 -44 5 -12 3 -10 6 -26 25 -8 4 -4 -1 -8 -9 -33 -55 -7 -12 -1 -8 2 -4 11 -4 56 -2z"/>
<path fill="#c43b3c" fill-rule="evenodd" d="M344 172l458 0 6 60 -17 20 -14 12 -9 4 -12 1 -60 -4 -48 -8 -5 3 1 4 6 4 26 8 52 9 32 3 52 -5 34 1 18 7 16 4 12 6 26 23 8 12 -3 12 -5 8 -9 8 -13 7 -28 10 -22 15 -18 16 -8 3 -12 1 -12 -2 -8 -5 -8 -9 -8 -3 -64 12 -24 0 -8 4 -4 11 1 28 -3 20 3 8 18 20 4 12 -13 40 -9 40 -4 12 -14 20 -11 27 -8 5 -28 11 -12 7 -25 22 -11 16 -15 40 -11 52 2 12 19 36 4 12 0 36 -3 8 -4 5 -16 9 -15 6 -9 -1 -4 -5 -5 -26 -4 -8 -39 -28 -8 -8 -4 -8 -6 -56 2 -72 0 -20 -5 -48 -10 -36 -2 -12 5 -12 32 -44 23 -36 28 -32 30 -40 16 -40 1 -8 -3 -24 3 -8 8 -8 26 -14 7 -6 10 -16 19 -21 3 -7 -1 -4 -6 -8 -4 -1 -8 1 -40 17 -32 22 -8 2 -6 -5 -17 -24 -5 -4 -8 -1 -4 0 -8 5 -4 8 -1 8 8 36 14 32 3 20 -8 22 -4 6 -28 32 -8 8 -8 4 -1 -4 0 -20 -9 -32 -6 -32 -15 -36 -5 -6 -8 -5 -12 0 -8 3 -7 8 -1 8 12 40 10 52 0 8 -5 16 -25 52 -12 12 -8 2 -4 -1 -5 -5 -3 -8 -28 -108 -2 -12 0 -12 5 -24 4 -8 9 -7 23 -5 7 -4 5 -8 4 -20 18 -24 3 -8 0 -4 -4 -3 -16 -5 -4 -3 -6 -9 -3 -12 -4 -36zM476 230l-5 6 -2 4 1 8 3 4 11 10 4 2 4 1 8 -3 4 -6 1 -4 -2 -8 -11 -12 -4 -3 -8 0zM1055 196l2 0 0 4 -8 16 -61 92 -8 8 -4 1 -7 -1 -7 -4 -3 -4 -2 -8 3 -8 8 -12 64 -64zM815 236l5 -2 12 5 8 9 1 4 -1 3 -4 2 -4 -1 -8 -4 -6 -8zM922 476l6 1 4 3 2 4 0 8 -2 4 -4 2 -8 0 -8 -6 0 -8 4 -5zM1703 744l9 -14 4 -2 4 3 12 12 4 9 1 20 -3 20 7 16 6 32 -1 4 -4 4 -8 4 -22 6 -12 2 -12 -6 -7 -10 -8 -56 3 -8 4 -3 20 0 4 -4zM1468 736l12 -4 28 2 4 1 3 9 -3 13 -4 6 -8 3 -12 0 -12 -4 -10 -6 -6 -8 0 -4zM1086 756l6 -3 12 1 32 6 16 7 9 9 25 32 5 12 0 8 -8 8 -79 48 -12 5 -28 5 -12 2 -8 -1 -4 -6 0 -9 9 -44 7 -16 19 -32 7 -24zM709 820l19 -4 4 1 5 3 2 4 0 12 -2 32 -3 8 -4 4 -6 3 -24 4 -16 1 -12 -4 -13 -12 -2 -4 2 -8 9 -12 16 -16 12 -7zM1600 840l12 -1 8 2 11 7 1 4 -2 4 -5 4 -29 16 -12 10 -4 3 -4 -1 -5 -4 -4 -8 -1 -8 2 -12 4 -5 8 -6zM1670 880l6 -4 4 1 8 10 2 9 -1 4 -5 6 -4 0 -4 -2 -6 -8 -3 -8zM1040 1056l12 1 8 6 49 65 19 21 8 2 64 8 46 21 11 8 4 8 2 12 3 88 -2 12 -6 8 -22 11 -12 2 -20 -6 -60 -26 -28 3 -32 0 -36 -6 -16 -6 -14 -16 -10 -7 -64 -20 -7 -5 0 -4 3 -9 42 -43 8 -12 4 -8 1 -8 -3 -8 -11 -16 -4 -8 1 -28 5 -16 5 -7 4 -2zM736 1084l4 -3 4 0 50 19 10 6 8 10 19 40 2 8 -5 8 -36 24 -8 1 -3 -1 -4 -12 -7 -8 -14 -14 -16 -11 -5 -7 -3 -44 1 -8zM1424 1127l68 -4 20 4 68 6 7 3 4 4 2 8 -5 10 -8 6 -32 0 -60 8 -8 4 -24 20 -8 2 -8 -7 -24 -39 -6 -12 0 -8 6 -4z"/>
<path fill="#bf3338" fill-rule="evenodd" d="M347 172l435 0 1 28 8 40 -3 8 -8 8 -16 9 -8 1 -56 -2 -52 -8 -6 4 0 4 6 4 28 9 48 9 36 3 52 -5 20 1 12 2 16 8 20 4 10 5 19 16 12 16 1 4 -2 8 -5 8 -7 6 -12 6 -32 11 -20 15 -16 14 -8 3 -12 1 -8 -1 -8 -5 -9 -10 -7 -3 -24 6 -44 7 -28 -1 -8 3 -5 12 -1 28 -5 24 1 8 11 20 1 12 -7 32 -5 48 -5 12 -21 31 -12 9 -24 12 -12 9 -35 31 -10 16 -10 32 -11 52 -2 16 2 12 15 36 2 12 0 12 -2 8 -3 4 -10 5 -4 -1 -12 -17 -24 -23 -8 -16 -5 -32 -10 -40 -3 -20 -1 -72 1 -32 -16 -36 -3 -12 0 -8 9 -20 40 -62 29 -34 30 -40 16 -40 1 -8 -3 -24 3 -8 8 -7 24 -12 8 -6 11 -19 17 -20 2 -4 1 -8 -3 -5 -4 -4 -4 -1 -8 1 -44 19 -24 17 -8 4 -4 0 -4 -3 -17 -24 -7 -5 -12 -1 -8 5 -5 9 -1 8 7 36 14 32 3 20 -10 26 -24 27 -12 11 -4 1 -3 -17 -9 -30 -6 -34 -15 -36 -7 -8 -12 -5 -12 1 -10 4 -4 4 -2 12 15 44 10 52 -5 19 -24 48 -8 9 -8 2 -5 -2 -4 -8 -26 -100 -2 -16 4 -32 3 -8 5 -4 25 -5 11 -7 4 -8 2 -24 5 -8 19 -20 6 -12 -3 -5 -28 -1 -8 -5 -4 -5 -3 -12 -4 -20 -1 -20zM484 228l-8 1 -7 7 -1 4 1 8 15 15 8 3 4 -1 7 -5 2 -4 0 -8 -11 -16zM1032 224l4 0 -4 9 -48 73 -8 6 -8 -2 -4 -4 -1 -6 9 -18 36 -36zM1715 756l9 -6 4 1 5 9 -1 16 -8 12 11 20 2 16 -1 12 -4 7 -8 5 -13 4 -11 1 -8 -3 -6 -10 -4 -36 0 -12 2 -5 4 -2 25 -1 -2 -20zM1097 780l11 -1 16 5 8 7 7 9 3 8 0 4 -6 9 -28 17 -16 7 -12 1 -4 -2 -2 -4 0 -16 6 -16 12 -22zM705 828l15 -3 4 0 4 3 2 8 0 8 -4 20 -6 6 -12 4 -16 1 -12 -3 -8 -8 0 -4 3 -8 14 -16zM1594 848l14 -2 8 2 5 4 -1 4 -11 8 -25 13 -4 1 -4 -1 -3 -5 0 -4 2 -8 9 -8zM1008 1096l12 -2 10 2 24 28 30 20 9 8 2 8 -5 28 0 16 8 40 14 32 0 4 -3 4 -9 2 -20 1 -32 -4 -12 -6 -12 -12 -8 -4 -64 -21 -8 -4 -1 -4 4 -8 39 -40 14 -20 1 -8 0 -8 -8 -20 -2 -12 2 -8 3 -5zM744 1104l8 -1 8 2 24 9 10 6 6 8 12 24 2 8 -2 5 -12 8 -16 4 -12 -6 -29 -23 -4 -8 0 -16 1 -12zM1450 1132l46 0 68 10 9 2 4 4 -2 4 -7 2 -80 12 -8 3 -16 11 -8 4 -4 -2 -6 -6 -12 -20 -6 -12 0 -4 3 -4zM1157 1184l31 2 16 4 31 14 8 8 4 16 3 64 -3 12 -9 8 -14 6 -16 -2 -29 -12 -11 -7 -4 -5 -5 -16 -11 -72 0 -8 3 -8z"/>
<path fill="#bb2a34" fill-rule="evenodd" d="M350 172l428 0 1 28 8 40 -3 8 -4 4 -4 2 -8 1 -16 -4 -8 0 -1 1 0 4 3 4 -6 3 -8 1 -48 -3 -36 -7 -4 2 -3 4 0 4 7 5 24 7 52 11 40 2 52 -4 24 3 16 11 24 4 12 7 12 9 11 13 4 8 0 4 -4 8 -11 10 -12 5 -28 9 -36 28 -8 4 -12 1 -8 -3 -13 -14 -7 -4 -4 0 -24 9 -44 7 -12 0 -20 -2 -8 2 -3 4 -2 8 -4 32 -9 28 2 36 -2 60 -2 16 -4 11 -16 17 -21 16 -11 6 -24 8 -43 10 -17 8 -3 -4 -29 -23 -20 -24 -8 -13 -2 -8 0 -8 2 -8 8 -16 28 -47 59 -73 18 -44 1 -8 -3 -20 1 -8 8 -8 24 -11 8 -5 12 -24 17 -20 2 -4 1 -8 -4 -7 -4 -3 -4 -1 -8 0 -40 17 -28 19 -8 4 -4 -1 -4 -3 -16 -21 -8 -6 -12 -1 -8 4 -6 11 -1 8 8 40 12 28 4 20 -8 20 -5 8 -20 22 -8 7 -4 1 -4 -7 -8 -25 -9 -46 -17 -36 -6 -6 -8 -4 -26 -2 -4 -8 0 -8 2 -4 32 -32 9 -12 0 -4 -5 -1 -40 4 -8 -2 -4 -3 -4 -6 -2 -8 -3 -20 0 -20zM480 227l-8 4 -4 5 -1 4 1 8 3 4 13 12 4 2 8 0 8 -6 2 -4 0 -8 -5 -8 -9 -10zM336 356l32 -7 4 1 4 4 12 28 11 58 -4 16 -23 45 -8 9 -4 0 -4 -2 -4 -8 -23 -96 4 -44zM1722 760l3 0 3 4 0 8 -4 5 -4 -2 -3 -7 1 -4zM1695 792l9 0 12 2 8 6 5 8 1 12 -3 12 -7 8 -12 5 -8 1 -4 -2 -5 -8 -2 -32 2 -8zM701 836l11 -3 4 1 4 4 1 6 -2 8 -3 5 -4 3 -8 2 -8 0 -5 -2 -4 -4 0 -4 3 -8zM1599 856l5 0 -2 4 -6 2 -4 -1zM752 1124l4 -1 8 1 12 4 8 6 5 6 6 12 -1 8 -2 3 -8 4 -8 0 -11 -7 -15 -12 -2 -4 -2 -8 2 -8zM1011 1132l5 -2 4 1 20 6 21 11 8 8 1 4 -1 8 -14 44 -1 8 4 8 25 32 3 8 -4 4 -14 2 -20 -3 -24 -15 -51 -20 -14 -8 0 -4 3 -4 27 -32 15 -20 4 -12 1 -16zM1456 1140l16 -2 20 2 21 4 8 4 -4 4 -29 7 -20 9 -8 1 -8 -8 -5 -13 1 -4zM1173 1216l15 -1 16 4 16 7 8 9 4 17 1 36 -2 8 -7 8 -12 4 -12 -3 -17 -9 -7 -8 -5 -24 -4 -32 1 -9z"/>
<path fill="#b72230" fill-rule="evenodd" d="M353 172l421 0 1 28 9 36 -1 8 -3 4 -4 3 -8 0 -20 -6 -8 0 -11 3 -3 4 3 8 -13 2 -31 -2 -37 -7 -6 3 -2 4 0 4 4 5 28 8 52 11 36 2 48 -3 24 2 8 3 12 10 28 6 16 9 12 11 6 8 2 8 -1 4 -7 8 -8 6 -40 12 -32 26 -8 4 -8 1 -8 -2 -4 -3 -12 -14 -8 -3 -28 11 -44 7 -12 0 -24 -3 -8 2 -5 8 -9 40 -20 32 0 8 6 24 1 32 -5 24 -8 12 -36 31 -11 5 -21 -2 -44 -12 -32 1 -9 -7 -7 -12 -2 -12 5 -16 13 -26 12 -19 57 -71 18 -44 -1 -28 2 -9 8 -6 20 -6 8 -4 6 -11 3 -12 4 -8 17 -20 3 -8 -1 -4 -4 -8 -4 -3 -8 -2 -4 1 -44 18 -27 18 -5 2 -4 -1 -4 -3 -14 -18 -6 -6 -12 -3 -8 2 -4 3 -6 8 -2 12 6 40 14 32 2 16 -10 24 -20 21 -8 5 -4 -1 -8 -18 -5 -15 -6 -36 -17 -36 -4 -5 -8 -5 -24 -6 -4 -4 -1 -4 0 -4 5 -8 49 -44 6 -8 1 -4 -8 -3 -8 0 -20 10 -8 2 -24 4 -8 -3 -5 -6 -3 -8 -3 -20 1 -24zM476 226l-4 2 -7 8 0 8 2 4 6 8 11 9 8 2 8 -2 7 -9 0 -8 -2 -4 -13 -16 -8 -3zM355 360l13 -2 4 1 8 11 8 20 9 50 -5 18 -20 35 -4 5 -4 2 -4 -2 -4 -9 -18 -81 2 -32 1 -8 3 -4zM1704 800l5 0 7 3 4 4 2 5 -2 8 -4 8 -4 4 -8 4 -4 -2 -1 -2 -2 -16 2 -12zM1022 1148l6 -2 12 6 4 4 1 8 -5 12 -6 8 -10 3 -12 0 -4 -2 0 -5zM1039 1240l5 0 8 4 6 8 0 4 -2 1 -8 0 -13 -9 -3 -4zM1191 1248l5 -1 8 2 5 3 5 8 2 12 0 12 -3 8 -5 3 -4 0 -8 -3 -7 -8 -3 -24 2 -8z"/>
<path fill="#b41c2d" fill-rule="evenodd" d="M368 190l16 -18 32 0 4 4 4 0 0 -4 346 0 2 28 9 36 -1 8 -4 4 -8 1 -16 -7 -8 -1 -32 4 -6 3 8 8 -10 3 -20 -1 -36 -6 -4 1 -5 7 0 4 2 4 31 10 52 11 40 2 44 -3 20 2 8 4 8 10 4 3 24 3 20 9 11 9 7 8 2 4 -1 8 -7 8 -8 5 -12 4 -20 3 -8 4 -28 24 -8 4 -12 0 -5 -4 -11 -14 -8 -4 -8 1 -13 9 -11 4 -44 7 -12 0 -24 -5 -8 0 -4 1 -6 9 -6 18 -8 16 -29 30 -5 8 -1 12 12 28 2 12 -4 12 -19 24 -24 24 -12 7 -12 -1 -28 -8 -32 -7 -8 -4 -4 -6 -2 -5 2 -16 8 -19 12 -19 56 -70 18 -44 0 -28 2 -6 8 -6 16 1 8 -5 9 -16 4 -20 7 -12 11 -12 3 -8 -1 -4 -5 -10 -8 -4 -8 1 -20 6 -24 11 -25 16 -7 2 -8 -4 -15 -18 -5 -3 -12 -4 -4 0 -8 5 -7 10 -2 12 5 40 12 29 3 19 -7 20 -4 5 -16 14 -8 3 -4 -3 -8 -18 -8 -41 -17 -36 -11 -11 -25 -9 -2 -4 0 -4 4 -8 7 -7 40 -32 16 -10 4 -2 24 21 8 3 8 -2 6 -7 2 -8 -2 -8 -8 -12 -6 -5 -24 -5 -20 -17 -11 -5 -1 -2 -8 -2 -4 9 -5 23 -8 12 -7 5 -16 4 -12 1 -7 -2 -5 -6 -2 -6 -3 -20 1 -8zM355 372l13 -4 8 4 4 6 5 14 9 48 -2 10 -4 9 -12 18 -8 8 -4 -3 -4 -10 -12 -56 1 -32 3 -8z"/>
<path fill="#ae172a" fill-rule="evenodd" d="M463 172l303 0 1 28 11 32 0 8 -2 4 -8 2 -20 -10 -20 5 -12 0 -20 -3 -16 -9 -11 -1 -4 4 2 4 28 16 0 4 -14 0 -33 -6 -4 1 -6 5 -1 8 2 4 5 3 24 7 56 12 40 1 44 -2 16 2 9 5 6 12 5 3 24 3 24 10 13 12 3 4 0 8 -8 8 -9 4 -27 4 -9 4 -7 4 -20 20 -8 4 -7 0 -5 -3 -12 -14 -12 -5 -8 1 -11 9 -9 5 -48 7 -12 0 -28 -7 -12 1 -7 6 -13 19 -41 37 -7 8 -7 16 -2 12 5 24 -1 8 -16 28 -8 12 -11 9 -8 3 -12 -2 -24 -7 -12 -6 -4 -5 -2 -8 2 -12 12 -20 55 -68 19 -44 6 -28 4 -1 12 2 4 -2 4 -4 12 -27 3 -24 6 -12 11 -12 2 -4 0 -8 -2 -7 -4 -5 -8 -4 -8 0 -20 7 -24 10 -28 16 -8 -1 -20 -19 -11 -5 -4 -4 7 -12 1 -4 -2 -8 -11 -16 -16 -8 -3 -4 -10 -28zM364 208l4 -3 4 1 8 4 24 17 3 5 0 4 -3 4 -4 2 -12 4 -12 2 -8 -4 -4 -8 -1 -12 -1 -8zM453 256l11 -2 29 18 -12 12 -3 12 3 48 11 28 2 16 -8 20 -10 9 -8 2 -4 -2 -4 -4 -4 -7 -9 -42 -16 -32 -11 -11 -20 -9 -5 -4 -1 -4 4 -8 9 -8 29 -23zM364 384l4 -2 4 0 4 2 4 6 9 50 -1 7 -4 9 -8 8 -4 1 -4 -4 -3 -9 -7 -32 1 -24z"/>
<path fill="#a51429" fill-rule="evenodd" d="M469 172l285 0 1 28 2 4 11 10 4 6 4 17 -1 3 -3 3 -4 0 -6 -3 -10 -10 -4 -1 -13 7 -11 3 -24 -4 -6 -3 -8 -8 -21 -32 -1 -3 -4 0 -28 16 -6 7 0 4 9 12 24 16 1 4 -12 -1 -8 3 -8 15 -8 -4 -8 -1 -20 7 -52 21 -8 0 -16 -12 -14 -8 4 -12 -1 -12 -8 -16 -13 -8 -7 -8 -10 -28zM366 216l2 -3 8 1 20 14 4 4 0 4 -4 4 -8 3 -8 1 -8 0 -5 -8zM444 265l20 -6 8 2 15 11 -7 12 -3 8 0 24 -1 15 -8 23 -4 1 -8 -5 -8 -6 -22 -24 -22 -12 -3 -4 3 -8 29 -24zM639 272l85 19 40 1 40 -2 17 2 7 4 3 4 5 16 4 1 24 1 20 8 16 11 4 7 -1 4 -4 4 -11 5 -24 4 -12 4 -11 7 -13 15 -8 4 -8 -2 -11 -13 -5 -3 -12 -4 -8 2 -16 13 -8 3 -48 7 -12 -2 -32 -9 -20 1 -8 -2 -12 -6 -4 -5 -2 -7 7 -28 -1 -20 4 -8 15 -20zM552 464l4 -3 3 3 -1 4 -9 32 -9 11 -16 11 -4 -2 -1 -4 0 -8 2 -8 11 -16z"/>
<path fill="#9c1127" fill-rule="evenodd" d="M475 172l149 0 4 0 -4 11 -19 29 -2 8 -3 28 -4 8 -16 10 -44 9 -8 -1 -16 -8 -1 -2 2 -12 -1 -16 4 -12 -3 -4 -17 -3 -8 -5 -8 -20zM697 172l45 0 0 48 -2 8 -4 4 -8 4 -12 0 -16 -5 -8 -7 -2 -12zM370 224l2 -3 8 3 10 8 0 4 -8 4 -7 0 -4 -4zM763 224l5 -1 4 7 0 7 -4 2 -5 -3 -2 -4zM464 264l8 0 7 4 4 4 -8 20 0 20 -3 14 -4 5 -8 1 -8 -4 -24 -18 -14 -6 -2 -4 5 -8 23 -20 12 -6zM641 276l3 -2 8 2 72 17 40 0 32 -2 20 2 7 3 3 4 3 20 3 3 20 -2 15 3 21 12 6 8 -1 4 -9 6 -24 4 -16 6 -6 4 -11 12 -7 4 -4 -1 -16 -14 -16 -4 -8 2 -15 13 -9 5 -48 6 -12 -2 -32 -12 -28 -7 -9 -6 -1 -8 3 -20 -2 -20 5 -12 10 -12z"/>
<path fill="#930e26" fill-rule="evenodd" d="M497 172l77 0 -2 1 -4 23 5 40 -1 7 -4 5 -12 1 -12 -1 -8 -3 -2 -5 1 -20 -2 -4 -9 -8 -20 -12 -4 -8zM702 172l36 0 -1 48 -2 8 -4 4 -7 2 -12 -1 -12 -5 -4 -4 -1 -4 0 -8zM452 272l16 -3 9 3 0 4 -4 16 -3 20 -2 5 -4 2 -4 0 -9 -7 -13 -12 -5 -8 1 -4 5 -8zM639 292l5 -15 4 -1 24 7 32 5 20 7 64 -3 24 2 5 2 4 4 2 4 -1 20 2 7 4 1 16 -6 12 0 8 2 11 8 4 4 1 4 -4 5 -33 11 -8 4 -11 9 -4 1 -20 -10 -20 -3 -8 4 -12 12 -8 5 -44 6 -12 -1 -10 -3 -22 -13 -28 -8 -4 -3 -3 -4 1 -20 -5 -16 1 -8 4 -8z"/>
<path fill="#8a0b25" fill-rule="evenodd" d="M706 172l28 0 0 48 -3 8 -7 3 -8 0 -9 -3 -6 -4 -2 -4 1 -12zM454 280l10 -4 4 1 2 3 -2 16 -4 8 -4 -1 -4 -2 -6 -9 0 -8zM646 280l6 -1 24 6 24 3 24 9 20 -2 40 -1 26 2 6 4 3 8 -5 24 2 9 4 3 4 -1 16 -11 12 -2 11 6 3 4 0 4 -5 4 -41 15 -28 -5 -12 -1 -8 4 -12 12 -8 5 -44 6 -12 -1 -7 -3 -14 -12 -31 -10 -8 -6 -2 -16 -5 -16 -1 -8 4 -8 9 -12z"/>
<path fill="#810823" fill-rule="evenodd" d="M711 172l19 0 0 48 -2 5 -4 3 -7 0 -5 -2 -4 -2 -4 -4 0 -8zM648 284l8 -1 37 5 13 4 10 6 8 2 20 -4 36 -1 19 1 9 3 4 3 2 6 0 8 -7 20 1 13 -4 4 -28 1 -8 5 -12 12 -8 4 -40 4 -8 -1 -5 -2 -11 -12 -32 -11 -9 -5 -10 -28 -2 -8 1 -4zM838 340l6 -2 7 2 -1 4 -2 1 -6 3 -6 0 -1 -4z"/>
<path fill="#7c0722" fill-rule="evenodd" d="M718 172l6 0 1 44 -1 4 -4 3 -7 -3 -2 -8zM653 288l43 3 4 1 16 10 8 2 24 -7 40 0 16 4 4 4 1 7 -10 32 -3 2 -16 3 -8 2 -16 14 -8 3 -40 -2 -51 -18 -9 -6 -10 -22 -2 -12 12 -17z"/>
<path fill="#730421" fill-rule="evenodd" d="M652 296l8 -2 32 -1 9 3 15 11 8 1 24 -8 36 0 15 4 4 4 0 4 -2 8 -12 20 -17 6 -20 14 -8 1 -36 -3 -12 -3 -31 -11 -12 -8 -7 -12 -3 -12 2 -8z"/>
<path fill="#6a011f" fill-rule="evenodd" d="M678 300l18 0 16 11 8 3 8 0 19 -10 5 -1 24 1 14 4 4 4 0 4 -10 16 -12 6 -20 14 -48 -2 -20 -6 -16 -7 -8 -6 -5 -7 -1 -8 2 -8 8 -5z"/></g>
<path d="M177.6 282.0 L190.3 290.0 L199.7 296.7 L207.7 307.4 L217.0 310.0 L225.0 316.7 L237.0 316.7 L249.1 312.7 L257.1 307.4 L270.4 303.4 L278.5 299.4 L289.1 290.0 L310.5 292.7 L323.8 296.7 L339.9 302.1 L350.5 310.0 L361.2 320.8 L369.2 330.1 L377.2 335.4 L381.2 343.4 L385.3 336.8 L381.2 324.8 L385.3 320.8 L395.9 312.7 L407.0 299.4 L412.0 298.0 L419.5 294.5 L421.0 282.0 L422.0 272.0 L426.0 259.5 L434.5 252.0 L442.0 247.0 L449.5 241.0 L459.5 243.0 L467.0 238.0 L477.0 233.0 L487.0 234.5 L497.0 233.0 L507.0 227.0 L517.0 222.0 L527.0 218.0 L537.0 213.0 L538.0 203.0 L547.0 198.0 L557.0 195.0 L567.0 197.0 L573.0 204.5 L572.0 211.0 L562.0 216.0 L552.0 221.0 L546.0 226.0 L547.0 234.5 L553.0 241.0 L557.0 248.0 L561.0 246.0 L572.0 243.0 L584.5 237.0 L597.0 233.0 L602.0 227.0 L601.0 212.0 L605.0 204.5 L611.0 204.5 L617.5 211.0 L619.0 221.0 L620.0 226.0 L625.0 227.0 L635.0 227.0 L645.0 229.5 L655.0 234.5 L665.0 239.5 L669.0 247.0 L672.5 257.0 L682.5 259.5 L695.0 261.0 L707.5 262.0 L725.0 263.0 L740.0 264.5 L755.0 269.5 L770.0 274.5 L780.0 274.5 L790.0 269.5 L800.0 262.0 L812.5 259.5 L822.5 257.0 L832.5 253.0 L845.0 252.0 L860.0 252.0 L875.0 253.0 L882.5 254.5 L865.0 257.0 L852.5 259.5 L846.0 267.0 L850.0 274.5 L860.0 272.0 L865.0 277.0 L875.0 277.0 L887.5 282.0 L900.0 287.0 L912.5 292.0 L920.0 302.0 L925.0 312.0 L925.0 322.0 L935.0 324.5 L945.0 327.0 L955.0 332.0 L967.5 339.5 L977.5 347.0 L987.5 354.5 L1000.0 362.0 L1012.0 372.0 L1022.0 386.0 L1030.0 400.0 L1042.5 411.0 L1067.5 414.0 L1082.5 416.0 L1095.0 412.5 L1117.5 412.5 L1140.0 416.0 L1152.5 420.0 L1167.5 426.0 L1182.5 430.0 L1200.0 440.0 L1215.0 457.5 L1227.5 462.5 L1237.5 470.0 L1245.0 482.5 L1247.5 500.0 L1250.0 515.0 L1257.5 535.0 L1267.5 539.0 L1272.5 550.0 L1283.8 555.0 L1285.0 567.5 L1281.0 582.5 L1280.0 597.5 L1291.0 600.0 L1300.0 610.0 L1310.0 615.0 L1320.0 619.0 L1332.5 620.0 L1335.0 630.0 L1350.0 632.5 L1367.5 635.0 L1385.0 642.5 L1405.0 650.0 L1420.0 655.0 L1435.0 662.5 L1450.0 657.5 L1459.0 665.0 L1462.0 673.0 L1480.0 683.0 L1508.5 694.0 L1528.5 702.5 L1553.5 705.0 L1571.0 709.0 L1596.0 706.0 L1616.0 707.5 L1636.0 720.0 L1651.0 730.0 L1666.0 742.0 L1681.0 755.0 L1696.0 767.5 L1708.5 775.0 L1733.5 780.0 L1758.5 782.5 L1772.0 790.0 L1781.0 820.0 L1783.5 840.0 L1783.0 865.0 L1781.0 887.5 L1778.5 907.5 L1766.0 925.0 L1751.0 945.0 L1736.0 962.5 L1716.0 990.0 L1707.6 992.8 L1700.2 1003.9 L1692.8 1018.7 L1670.0 1045.0 L1653.8 1063.3 L1652.0 1076.3 L1649.2 1094.8 L1648.2 1107.8 L1651.0 1122.6 L1653.8 1141.2 L1650.1 1159.7 L1646.4 1178.3 L1643.6 1196.8 L1644.5 1204.3 L1633.4 1213.5 L1626.9 1224.7 L1625.0 1243.2 L1626.2 1250.0 L1627.3 1261.6 L1623.9 1268.6 L1610.0 1290.0 L1597.2 1308.0 L1590.2 1315.0 L1585.5 1324.3 L1582.0 1333.6 L1583.2 1347.5 L1574.0 1354.5 L1560.0 1361.4 L1550.7 1370.7 L1548.4 1380.0 L1541.4 1382.3 L1515.0 1384.0 L1492.7 1384.6 L1481.0 1382.3 L1471.8 1387.0 L1462.5 1391.6 L1453.2 1398.6 L1439.3 1407.9 L1432.3 1414.8 L1416.0 1414.8 L1404.5 1416.0 L1392.9 1421.8 L1378.9 1431.0 L1365.0 1439.2 L1353.4 1447.3 L1346.4 1459.0 L1339.5 1472.9 L1330.2 1479.8 L1330.2 1493.8 L1326.7 1505.4 L1327.9 1528.6 L1327.9 1551.8 L1324.4 1565.7 L1322.0 1572.7 L1311.6 1579.7 L1300.0 1586.6 L1286.6 1596.4 L1279.7 1608.0 L1272.7 1624.3 L1261.1 1642.9 L1247.2 1656.8 L1228.6 1673.0 L1212.3 1687.0 L1205.4 1696.3 L1198.4 1712.5 L1189.1 1726.4 L1168.2 1742.7 L1158.9 1756.6 L1147.3 1763.6 L1135.7 1770.5 L1117.2 1782.2 L1100.9 1779.8 L1080.0 1777.0 L1061.4 1775.2 L1038.2 1768.2 L1031.3 1782.2 L1042.9 1798.4 L1035.9 1812.3 L1042.9 1826.3 L1054.5 1828.6 L1058.0 1844.8 L1057.5 1850.0 L1041.3 1868.6 L1029.7 1882.5 L1027.3 1891.8 L1001.8 1901.1 L967.0 1910.4 L932.2 1915.0 L892.7 1918.5 L878.8 1917.3 L871.8 1912.7 L867.2 1912.7 L869.5 1924.3 L876.4 1931.3 L874.1 1945.2 L869.5 1947.5 L866.0 1961.4 L862.5 1966.1 L867.2 1973.0 L867.2 1980.0 L857.9 1983.5 L843.9 1989.3 L818.4 1989.3 L809.1 1985.8 L783.6 1977.7 L776.6 1976.5 L772.0 1984.6 L774.3 1998.6 L778.9 2003.2 L776.6 2017.2 L783.6 2024.1 L795.0 2027.0 L808.0 2023.0 L818.0 2020.0 L824.0 2028.0 L825.0 2040.0 L817.0 2048.0 L806.0 2046.0 L796.0 2041.0 L785.0 2042.0 L790.0 2050.0 L800.0 2052.0 L788.0 2057.0 L779.0 2064.0 L770.0 2073.0 L768.5 2082.0 L770.8 2094.0 L769.6 2101.0 L760.4 2105.4 L755.7 2114.7 L758.0 2119.3 L746.4 2119.3 L730.2 2121.6 L713.9 2128.6 L704.6 2137.9 L700.0 2144.8 L694.5 2153.6 L694.5 2165.8 L701.8 2175.5 L716.4 2185.3 L735.9 2187.7 L750.5 2192.6 L754.2 2202.3 L750.5 2214.5 L738.3 2221.8 L721.3 2231.6 L706.6 2243.8 L694.5 2253.5 L689.6 2263.3 L684.7 2280.3 L672.5 2290.1 L655.4 2295.0 L645.7 2304.7 L640.8 2314.5 L638.4 2321.8 L643.3 2331.5 L648.1 2341.3 L655.4 2353.5 L664.0 2363.2 L648.0 2356.0 L636.0 2361.0 L624.0 2368.0 L609.0 2370.5 L594.5 2376.6 L584.8 2380.3 L582.3 2395.0 L577.4 2409.5 L572.6 2416.8 L565.3 2428.0 L545.0 2432.0 L526.3 2431.0 L501.9 2419.3 L482.4 2402.2 L460.4 2385.1 L443.4 2365.6 L433.6 2336.4 L426.3 2292.5 L421.4 2243.8 L423.9 2219.4 L421.4 2172.0 L430.0 2166.0 L438.0 2152.0 L443.0 2130.0 L446.0 2108.0 L450.0 2088.0 L458.0 2074.0 L470.0 2068.0 L486.0 2069.0 L500.0 2070.0 L509.0 2062.0 L511.0 2040.0 L514.0 2020.0 L520.0 2008.0 L513.8 2002.7 L509.1 2005.0 L492.9 2007.3 L481.3 2002.7 L481.3 1981.8 L488.2 1951.6 L499.8 1947.0 L502.1 1926.1 L495.2 1912.2 L492.9 1888.9 L488.2 1868.0 L490.5 1858.8 L502.1 1858.8 L506.8 1849.5 L511.4 1842.5 L518.4 1823.9 L523.0 1810.0 L537.0 1791.4 L543.9 1772.9 L546.3 1752.0 L555.5 1740.4 L557.9 1717.1 L562.5 1698.6 L560.2 1680.0 L556.8 1664.3 L555.6 1641.1 L559.1 1627.2 L566.1 1617.9 L563.8 1599.3 L561.4 1580.7 L568.4 1566.8 L573.0 1555.2 L577.7 1538.9 L580.0 1525.0 L584.6 1513.4 L589.3 1494.8 L589.3 1471.6 L596.3 1460.0 L592.8 1441.4 L593.9 1420.5 L591.6 1399.7 L591.6 1385.7 L600.9 1381.1 L604.4 1350.9 L607.9 1330.0 L605.5 1304.5 L605.5 1269.6 L600.9 1246.4 L598.6 1223.2 L596.0 1218.8 L578.6 1204.3 L564.1 1192.7 L546.7 1178.1 L526.4 1166.5 L503.1 1154.9 L479.9 1146.2 L456.7 1137.5 L439.3 1128.8 L427.7 1120.1 L416.1 1105.6 L401.6 1091.1 L398.7 1076.6 L403.0 1067.9 L395.8 1056.3 L384.2 1033.1 L369.6 1012.7 L355.1 989.5 L346.4 969.2 L337.7 951.8 L331.9 934.4 L326.1 919.9 L320.3 911.2 L311.6 890.9 L300.0 879.3 L292.0 857.0 L272.0 837.0 L252.0 822.0 L237.0 812.0 L239.5 797.0 L234.5 777.0 L232.0 762.0 L242.0 742.0 L255.0 730.0 L268.0 727.0 L270.0 717.0 L262.0 712.0 L250.0 705.0 L244.5 697.0 L249.5 687.0 L250.7 672.0 L247.0 659.5 L246.0 647.0 L252.0 642.0 L261.0 634.5 L262.0 622.0 L268.0 612.0 L273.0 602.0 L272.0 592.0 L274.5 583.0 L287.0 577.0 L302.0 573.0 L308.0 563.0 L312.0 558.0 L321.5 552.0 L321.5 537.0 L327.0 531.0 L339.5 528.0 L352.0 522.0 L357.0 512.0 L363.0 502.0 L369.5 492.0 L374.5 482.0 L369.5 472.0 L367.0 457.0 L367.0 442.0 L364.5 427.0 L363.0 417.0 L364.5 402.0 L363.9 399.5 L354.5 380.8 L345.2 368.8 L334.6 356.8 L330.5 343.4 L334.6 336.8 L329.2 327.4 L318.5 318.1 L307.8 312.7 L294.5 311.4 L285.1 316.7 L278.5 327.4 L270.4 332.8 L262.4 335.4 L261.1 342.1 L265.1 348.8 L273.1 354.1 L277.1 360.8 L270.4 366.1 L259.8 368.8 L249.1 370.1 L246.4 366.1 L243.7 356.8 L239.7 354.1 L235.7 356.8 L226.4 355.5 L221.1 348.8 L218.4 340.8 L210.4 338.1 L202.4 335.4 L194.4 332.8 L185.0 335.4 L177.6 338.1 Z M557.0 252.0 L552.0 262.0 L544.5 277.0 L542.0 287.0 L549.5 297.0 L552.0 307.0 L562.0 308.0 L572.0 302.0 L574.5 287.0 L569.5 274.5 L562.0 262.0 L559.5 252.0 Z M1255.0 1632.0 L1262.0 1640.0 L1250.0 1652.0 L1240.0 1662.0 L1228.0 1672.0 L1215.0 1680.0 L1208.0 1676.0 L1212.0 1665.0 L1225.0 1657.0 L1235.0 1648.0 L1245.0 1638.0 Z" fill="none" stroke="#000" stroke-width="2" stroke-linejoin="round" fill-rule="evenodd"/>
<path d="M631.0 2370.5 L653.0 2372.0 L665.0 2380.0 L669.0 2387.8 L672.5 2395.0 L684.7 2404.6 L697.1 2414.4 L716.4 2424.2 L733.4 2432.7 L752.9 2438.8 L772.5 2441.2 L770.0 2448.5 L760.3 2451.0 L733.4 2452.2 L709.0 2451.0 L684.7 2451.0 L660.3 2449.7 L636.0 2452.2 L614.0 2455.8 L599.4 2453.4 L580.0 2445.0 L565.0 2432.0 L575.0 2420.0 L590.0 2405.0 L600.0 2395.0 L598.0 2381.0 L612.0 2376.0 Z M472.6 2012.0 L492.9 2010.0 L493.0 2030.0 L490.0 2050.0 L486.0 2065.0 L466.0 2062.0 L470.0 2040.0 Z M923.9 2332.2 L936.4 2329.1 L953.1 2328.1 L968.8 2331.2 L971.9 2335.4 L963.6 2340.6 L953.1 2347.9 L942.7 2352.1 L934.3 2357.3 L926.0 2360.4 L915.5 2359.4 L909.3 2353.1 L903.0 2344.8 L905.1 2342.7 L914.5 2344.8 L923.9 2342.7 L936.4 2341.6 L930.1 2337.5 Z M974.0 2334.3 L980.3 2329.1 L994.9 2330.1 L1013.7 2332.2 L1020.0 2336.4 L1020.0 2342.7 L1010.6 2346.9 L1000.1 2349.0 L989.7 2353.1 L979.2 2357.3 L971.9 2363.6 L965.7 2366.7 L955.2 2365.7 L953.1 2357.3 L959.4 2351.0 L969.8 2344.8 L974.0 2340.6 Z M672.0 2457.0 L700.0 2456.0 L730.0 2458.0 L735.0 2464.0 L710.0 2467.0 L685.0 2466.0 L672.0 2462.0 Z M683.0 2474.0 L700.0 2473.0 L708.0 2480.0 L695.0 2484.0 L684.0 2481.0 Z M798.0 240.0 L808.0 237.0 L820.0 240.0 L818.0 246.0 L805.0 248.0 Z M605.0 189.0 L609.0 188.0 L615.0 196.0 L612.0 197.0 Z M637.0 200.0 L643.0 201.0 L650.0 208.0 L646.0 209.0 Z M662.0 202.0 L668.0 203.0 L670.0 209.0 L665.0 209.0 Z" fill="none" stroke="#000" stroke-width="2" stroke-linejoin="round"/>
<path d="M362.6 322.8 L371.9 346.1 L357.2 360.8 L349.2 367.5 M542.0 229.5 L527.0 252.0 L509.5 277.0 L498.0 304.5 L519.8 327.0 L530.5 359.0 L546.6 375.2 L584.0 375.2 L605.5 386.0 L632.3 407.3 L696.5 404.6 L693.9 428.7 L685.8 477.0 L699.2 503.7 L683.2 517.0 L701.9 546.6 L708.9 568.4 M708.9 568.4 L736.8 587.5 L761.2 582.3 L789.0 568.4 L803.0 561.4 L813.4 544.0 L834.3 538.8 L851.7 544.0 L858.7 561.4 L865.6 596.3 L872.6 624.1 L863.9 638.0 L886.5 658.9 L897.0 664.2 M785.5 470.9 L813.4 477.9 L848.2 484.8 L869.1 477.9 L900.5 467.4 L924.8 450.0 L927.0 439.4 M785.5 470.9 L806.4 488.3 L809.9 509.2 L816.9 530.1 L834.3 535.3 L851.7 544.0 M948.3 327.0 L937.6 337.7 L916.2 353.8 L905.4 385.9 L932.2 407.3 L916.2 423.4 L927.0 439.4 M927.0 439.4 L945.7 450.0 L959.7 477.9 L952.7 502.2 L956.2 530.1 L952.7 544.0 L970.1 561.4 L982.3 570.1 L1004.9 561.4 L1032.8 554.5 L1055.7 544.0 L1083.6 547.5 L1080.1 533.6 L1118.4 526.6 L1132.3 537.1 L1139.3 537.1 L1167.1 537.1 L1188.0 533.6 L1195.0 519.6 L1208.9 498.8 L1226.3 470.9 L1230.0 465.0 M1013.9 420.0 L1013.9 450.0 L1010.4 470.9 L1034.8 498.8 L1045.3 519.6 L1055.7 544.0 M1128.0 428.0 L1132.3 450.0 L1142.8 484.8 L1146.3 512.7 L1135.8 533.6 M897.0 664.2 L893.5 645.0 L904.0 631.1 L924.8 641.5 L935.3 620.6 L945.7 603.2 L982.3 603.2 L982.3 570.1 M982.3 603.2 L984.0 624.1 L1001.4 645.0 L1029.3 662.4 L1060.6 679.8 L1076.3 681.6 L998.0 833.0 L1006.7 857.4 L1001.4 906.2 M1118.4 526.6 L1121.9 551.0 L1149.7 564.9 L1167.1 582.3 L1174.1 599.7 L1184.6 617.1 L1195.0 634.6 L1212.4 652.0 L1226.3 641.5 L1240.3 624.1 M708.9 568.4 L700.2 538.8 L670.6 554.5 L616.7 554.5 L616.7 575.4 L639.3 578.8 L639.3 591.0 L611.4 592.8 L611.4 617.1 L630.6 645.0 L614.9 756.4 L612.0 757.5 M309.2 559.2 L330.1 576.5 L357.9 590.5 L371.9 600.9 L392.7 600.9 L399.7 597.4 L420.6 611.3 L434.5 614.8 M434.5 614.8 L438.0 639.2 L431.0 653.1 L392.7 694.8 L347.5 712.2 L337.0 726.2 L330.1 750.5 L316.2 778.4 L298.8 771.4 L291.8 757.5 L264.0 757.5 L267.5 740.1 L260.5 726.2 M434.5 614.8 L465.8 639.2 L490.2 663.5 L511.0 691.4 L545.8 691.4 L577.1 687.9 L608.5 701.8 L591.0 736.6 L612.0 757.5 M612.0 757.5 L545.8 764.4 L514.5 785.3 L504.1 834.0 L486.7 851.4 L479.7 858.4 L490.2 879.3 L511.0 914.0 L504.1 924.5 L538.9 941.9 L570.2 945.4 L591.0 928.0 L591.0 980.2 L625.8 980.2 M486.7 851.4 L601.5 882.7 L671.1 917.5 L719.4 944.5 M625.8 980.2 L656.7 982.8 L695.0 965.4 L719.4 944.5 L743.8 937.5 L768.1 934.0 L768.1 989.7 L778.6 1014.1 L799.5 1028.0 L848.2 1048.9 L883.0 1073.3 L921.3 1087.3 L939.0 1100.0 L939.0 1113.9 L928.6 1117.4 L939.0 1127.9 L940.8 1155.7 L1001.7 1157.5 L998.2 1176.6 L1008.7 1190.5 L1022.6 1201.0 L1029.6 1221.9 M768.1 934.0 L778.6 916.6 L799.5 909.7 L823.9 878.3 L848.2 878.3 L858.7 888.8 L876.1 902.7 L893.5 906.2 L1001.4 906.2 M893.5 906.2 L895.2 1083.8 L921.3 1087.3 M1001.4 906.2 L1020.9 885.3 M1001.4 906.2 L1022.3 902.7 L1032.8 937.5 L1048.0 960.0 L1055.7 1029.8 L1271.6 1045.5 M1410.9 652.0 L1403.9 686.8 L1393.5 714.7 L1376.1 746.0 L1358.7 763.4 L1327.3 787.8 L1337.8 801.7 L1334.3 819.1 L1313.4 843.5 L1306.4 867.9 L1306.4 888.8 L1285.5 916.6 L1271.6 944.5 L1261.2 972.3 L1257.7 993.2 L1261.2 1028.0 L1261.2 1048.9 L1257.7 1111.6 L1247.2 1146.4 L1226.3 1181.3 L1208.9 1200.8 L1193.2 1215.0 L1179.3 1232.3 M1337.8 801.7 L1362.2 798.2 L1365.0 830.0 L1369.1 850.5 L1397.0 881.8 L1383.0 913.1 L1393.5 937.5 L1403.9 961.9 L1421.3 972.3 M1557.2 704.2 L1529.3 746.0 L1511.9 798.2 L1518.9 829.6 L1480.5 840.0 L1435.3 864.4 L1417.9 902.7 L1421.3 954.9 L1421.3 972.3 M1571.1 711.2 L1568.5 725.0 L1576.0 750.0 L1573.5 775.0 L1583.5 787.5 L1586.0 825.0 L1591.0 832.5 L1601.0 840.0 L1596.0 855.0 L1593.5 862.5 M1397.0 986.3 L1417.9 972.3 L1435.3 979.3 L1452.7 975.8 L1487.5 930.5 L1522.3 927.1 L1564.1 902.7 L1592.0 892.2 L1600.0 858.0 M1399.0 950.0 L1404.0 990.0 L1402.0 1050.0 L1415.0 1100.0 L1410.0 1115.0 M1268.1 1035.1 L1274.5 1028.7 L1271.3 1041.5 L1303.2 1054.3 L1316.0 1041.5 L1328.8 1057.5 L1360.7 1057.5 L1373.5 1051.1 L1405.4 1044.7 M1258.5 1000.0 L1261.7 1038.3 L1252.1 1079.8 L1242.6 1111.7 L1226.6 1121.3 L1213.8 1143.6 L1191.5 1159.6 L1178.7 1178.8 L1172.3 1197.9 L1178.7 1223.5 L1181.9 1236.2 L1207.2 1242.8 L1242.0 1260.2 L1249.0 1277.7 M1405.4 1000.0 L1405.4 1044.7 L1408.6 1083.0 L1415.0 1095.8 L1411.8 1121.3 M1411.8 1121.3 L1437.3 1108.5 L1462.8 1092.6 L1485.2 1092.6 L1488.4 1102.1 L1510.7 1102.1 L1533.1 1111.7 L1552.2 1118.1 L1571.4 1137.3 L1590.5 1137.3 L1619.2 1150.0 L1609.7 1166.0 L1596.9 1178.8 L1596.9 1194.7 L1609.7 1207.5 L1628.8 1223.5 M1386.2 1114.9 L1395.8 1105.3 L1411.8 1121.3 M1386.2 1114.9 L1370.3 1153.2 L1376.6 1182.0 L1367.1 1194.7 L1370.3 1217.1 L1347.9 1229.8 L1316.0 1226.6 L1284.1 1233.0 L1264.9 1242.6 L1252.1 1261.8 L1249.0 1277.7 M1249.0 1277.7 L1233.0 1296.9 L1223.4 1319.2 L1210.6 1338.4 L1181.9 1367.1 L1161.9 1389.0 L1144.5 1413.4 L1137.5 1416.9 M1249.0 1277.7 L1264.9 1274.5 L1303.2 1280.9 L1316.0 1290.5 L1328.8 1284.1 L1367.1 1280.9 L1376.6 1306.4 L1383.0 1328.8 L1395.8 1332.0 L1392.6 1351.1 L1402.2 1373.5 L1424.5 1370.3 M1424.5 1370.3 L1456.4 1360.7 L1501.1 1348.0 L1536.3 1338.4 L1542.6 1319.2 L1555.4 1306.4 L1558.6 1290.5 L1571.4 1277.7 L1584.1 1249.0 L1577.7 1223.5 L1590.5 1213.9 L1606.5 1210.7 L1628.8 1223.5 M1555.4 1319.2 L1584.1 1324.0 M1424.5 1370.3 L1456.4 1363.9 L1469.2 1373.5 L1459.6 1383.0 M1181.9 1367.1 L1213.8 1370.3 L1284.1 1379.9 L1293.6 1399.0 L1303.2 1424.6 L1306.4 1450.0 M1158.4 1490.0 L1172.3 1493.5 L1207.2 1497.0 L1238.5 1503.9 L1250.0 1497.0 L1290.0 1490.0 L1320.0 1495.0 M1151.4 1521.4 L1182.8 1521.4 L1214.1 1524.8 L1242.0 1538.8 L1290.0 1548.0 L1320.0 1555.0 M1029.6 1221.9 L1019.1 1246.3 L1008.7 1274.1 L1015.6 1281.1 L1012.2 1295.0 L1015.6 1322.9 L1013.9 1350.7 L1033.0 1356.0 L1064.4 1352.5 L1085.3 1359.4 L1094.0 1378.6 L1099.2 1413.4 L1127.1 1411.7 L1137.5 1416.9 L1134.0 1437.8 L1127.1 1469.1 M1029.6 1221.9 L1043.5 1204.5 L1067.9 1190.5 L1085.3 1190.5 L1113.1 1201.0 L1151.4 1197.5 L1154.9 1190.5 L1151.4 1211.4 L1172.3 1218.4 L1179.3 1232.3 M1015.6 1281.1 L977.3 1260.2 L946.0 1258.4 L890.3 1268.9 L869.4 1302.0 L858.9 1357.7 M858.9 1357.7 L876.3 1375.1 L893.8 1396.0 L914.7 1409.9 L946.0 1418.6 L980.8 1437.8 L1012.2 1448.2 L1019.1 1476.1 L1008.7 1497.0 L994.7 1524.8 L1015.6 1528.3 L1060.9 1531.8 L1092.2 1528.3 L1106.2 1514.4 L1120.1 1500.5 L1123.6 1479.6 L1127.1 1469.1 L1144.5 1469.1 L1154.9 1483.0 L1158.4 1514.4 M681.3 1378.6 L705.7 1378.6 L719.6 1357.7 L740.5 1345.5 L754.5 1354.2 L789.3 1356.0 L799.7 1378.6 L813.7 1349.0 L852.0 1349.0 L858.9 1357.7 M625.8 980.2 L653.2 1028.0 L646.3 1069.8 L646.3 1111.6 L632.3 1143.0 L649.7 1163.9 L632.3 1181.3 L623.6 1200.0 L618.9 1206.3 L608.5 1220.3 M608.5 1220.3 L626.4 1200.0 L642.7 1216.3 L647.3 1246.4 L661.3 1260.4 L657.0 1281.1 L663.9 1302.0 L670.9 1326.3 L681.3 1371.6 L684.8 1378.6 M705.7 1378.6 L709.2 1389.0 L702.2 1416.9 L670.9 1427.3 L660.4 1441.3 L663.9 1455.2 L657.0 1469.1 L663.6 1490.2 L658.9 1501.8 L668.2 1515.7 L652.0 1522.7 L640.4 1548.2 L624.1 1562.2 L617.2 1590.0 L612.5 1594.7 L614.8 1617.9 L607.9 1631.8 L598.6 1655.0 L593.9 1664.3 L596.3 1687.5 L599.7 1690.0 L606.6 1703.2 L618.2 1758.9 L604.3 1772.9 L595.0 1793.8 L599.7 1812.3 L595.0 1826.3 L576.4 1835.5 L571.8 1854.1 L574.1 1884.3 L583.4 1905.2 L567.2 1912.2 L562.5 1935.4 L553.2 1958.6 L548.6 1977.2 L548.6 2009.7 L553.2 2021.3 L541.6 2028.2 L543.9 2074.7 L553.2 2097.9 L571.8 2107.2 L550.6 2114.6 L562.8 2126.8 L555.5 2146.3 L550.6 2170.6 L545.8 2190.1 L531.1 2202.3 L531.1 2231.6 L523.8 2243.8 L516.5 2258.4 L494.6 2265.7 L497.0 2292.5 L506.8 2309.6 L531.1 2309.6 L536.0 2321.8 L533.6 2341.3 L545.8 2351.0 L623.8 2352.2 L648.1 2358.3 L665.2 2363.2 M657.9 2375.4 L657.9 2448.5 M1158.4 1514.4 L1130.5 1528.3 L1099.2 1552.7 L1074.8 1580.5 L1050.5 1604.9 L1029.6 1622.3 L1026.1 1625.8 M1026.1 1625.8 L1047.0 1618.8 L1060.9 1622.3 L1081.8 1650.2 L1095.7 1646.7 L1127.1 1674.6 L1151.4 1692.0 L1172.3 1705.9 L1186.3 1699.0 M1026.1 1625.8 L1015.6 1643.2 L1012.2 1685.0 L1008.7 1723.3 L1001.7 1740.7 L998.2 1761.6 L1010.0 1768.0 M1553.5 705.0 L1556.0 712.5 L1536.0 730.0 L1523.5 750.0 M1695.0 774.8 L1689.1 789.7 L1677.2 804.5 L1663.8 823.8 L1659.4 843.1 L1663.8 855.0 L1659.4 868.4 M1663.8 823.8 L1669.8 823.8 L1689.1 822.3 L1709.9 816.4 L1703.9 832.7 L1715.8 841.7 L1730.6 846.1 L1739.5 823.8 L1748.5 828.3 L1770.7 826.8 L1781.0 828.0 M1600.0 858.0 L1626.7 856.5 L1638.6 863.9 L1647.5 875.8 L1659.4 868.4 L1677.2 869.9 L1689.1 863.9 L1706.9 856.5 L1712.8 858.0 L1715.8 868.4 L1705.4 878.8 L1712.8 887.7 L1718.8 880.3 L1733.6 872.8 L1748.5 866.9 L1767.8 862.4 L1778.0 862.0 M1600.0 927.8 L1619.3 908.5 L1635.6 898.1 L1647.5 902.5 L1662.4 910.0 L1677.2 921.8 L1677.2 923.3 L1692.0 910.0 L1703.9 917.4 L1718.8 924.8 L1733.6 921.8 L1748.5 914.4 L1763.3 908.5 L1778.2 910.0 M1677.2 926.3 L1683.1 930.7 L1703.9 939.6 L1718.8 947.0 L1729.2 953.0 L1741.0 950.0 M1681.7 932.2 L1684.6 953.0 L1689.1 967.8 L1675.7 973.8 L1680.2 990.1 L1689.1 997.5 L1703.9 996.0 L1706.9 991.6 M1592.0 892.2 L1600.0 927.8" fill="none" stroke="#000" stroke-width="1.6" stroke-linejoin="round" stroke-linecap="round"/><path d="M1334.2 616.7 L1335.1 620.7 L1336.5 622.5 L1337.5 623.9 L1340.0 629.9 L1342.6 626.5 L1344.2 627.5 L1345.6 629.2 L1348.4 630.8 L1350.6 632.2 L1352.2 634.8 L1354.7 632.5 L1356.5 634.1 L1359.9 633.4 L1360.8 635.4 L1362.6 634.0 L1365.8 635.4 L1367.6 635.9 L1368.0 637.3 L1371.3 634.7 L1374.2 638.7 L1376.0 637.4 L1378.5 639.6 L1381.5 641.6 L1382.9 643.0 L1384.9 641.3 L1387.6 644.1 L1389.3 643.1 L1391.8 641.8 L1394.3 646.5 L1395.1 646.7 L1397.8 648.5 L1399.3 647.1 L1403.2 650.7 L1403.7 649.4 L1407.3 649.9 L1410.2 649.9 L1411.6 650.8 L1414.4 652.8 L1415.5 651.3 L1418.9 655.3 L1420.5 656.5 L1422.4 655.2 L1423.8 656.1 L1427.3 656.3 L1428.2 658.9 L1430.8 661.1 L1432.1 659.2 L1435.0 664.1 L1437.6 662.1 L1439.1 661.5 L1441.3 661.4 L1443.1 659.8 L1445.6 659.6 L1448.0 661.5 L1450.9 659.4 L1450.6 658.6 L1453.2 661.2 L1454.0 663.5 L1457.8 661.8 L1458.4 664.0 L1459.8 667.8 L1461.7 668.7 L1461.7 671.2" fill="none" stroke="#000" stroke-width="2.6" stroke-linejoin="round"/><path d="M912.8 312.8 l4.1 -3.2 M907.4 315.5 l4.5 2.0 M910.3 308.9 l1.5 -2.1 M902.7 320.5 l7.4 -0.7 M904.7 307.5 l-4.0 1.6 M920.5 302.8 l1.0 0.3 M919.2 322.0 l-0.8 -1.4 M919.1 301.2 l-1.4 -2.5 M916.4 320.6 l-1.2 -0.5 M899.5 309.1 l5.1 -6.3 M914.1 308.9 l0.4 2.5 M905.4 308.2 l0.5 4.8 M916.8 311.4 l2.4 -1.7 M918.9 312.4 l6.5 -0.1 M906.2 316.9 l2.2 -1.8 M913.9 319.3 l4.8 -2.0 M911.5 314.7 l-2.9 -2.1 M912.8 317.3 l3.1 0.5 M910.9 318.9 l0.8 0.6 M907.4 307.8 l2.3 -5.3 M918.8 319.3 l3.4 -0.2 M900.8 319.7 l-1.7 -0.5 M907.2 314.5 l-0.6 -2.5 M913.8 315.9 l-0.5 -3.6 M908.4 309.6 l-5.9 0.4 M919.3 304.7 l1.6 -1.4 M912.8 319.8 l-0.4 0.3 M913.0 319.6 l-3.7 1.8 M915.1 316.2 l-2.0 -0.2 M914.1 307.8 l0.6 -3.0 M914.7 311.3 l6.9 -0.5 M920.1 304.1 l-0.1 6.8 M921.7 305.2 l0.5 1.9 M912.4 310.7 l-0.4 0.1 M909.1 317.8 l1.7 3.0 M910.0 313.4 l3.6 2.1 M910.0 320.4 l1.8 -0.3 M913.9 307.2 l0.7 -1.1 M917.1 321.1 l-0.6 -0.3 M910.2 318.2 l-5.5 1.1" fill="none" stroke="#000" stroke-width="1.3"/><g fill="#fff"><path d="M450,2334 L465,2338 L462,2347 L449,2343 Z"/><path d="M551,2376 L572,2380 L568,2392 L553,2390 Z"/><path d="M583,2384 L594,2384 L593,2405 L583,2408 Z"/><path d="M515,2395 L540,2400 L536,2406 L512,2402 Z"/></g><g fill="#b3d3e8" stroke="#000" stroke-width="1.5"><ellipse cx="513.2" cy="2424.4" rx="5.0" ry="1.4" transform="rotate(54 513.2 2424.4)"/><ellipse cx="639.5" cy="2463.0" rx="5.2" ry="2.4" transform="rotate(84 639.5 2463.0)"/><ellipse cx="420.5" cy="2229.8" rx="2.6" ry="1.8" transform="rotate(91 420.5 2229.8)"/><ellipse cx="493.2" cy="2382.5" rx="5.1" ry="2.1" transform="rotate(178 493.2 2382.5)"/><ellipse cx="439.1" cy="2163.6" rx="4.3" ry="1.1" transform="rotate(6 439.1 2163.6)"/><ellipse cx="495.6" cy="2358.5" rx="5.6" ry="2.1" transform="rotate(93 495.6 2358.5)"/><ellipse cx="461.9" cy="2366.2" rx="2.4" ry="2.2" transform="rotate(36 461.9 2366.2)"/><ellipse cx="428.5" cy="2281.4" rx="5.2" ry="1.3" transform="rotate(48 428.5 2281.4)"/><ellipse cx="642.7" cy="2463.5" rx="5.3" ry="2.2" transform="rotate(134 642.7 2463.5)"/><ellipse cx="452.9" cy="2066.7" rx="3.8" ry="2.6" transform="rotate(65 452.9 2066.7)"/><ellipse cx="511.0" cy="2399.1" rx="3.2" ry="1.6" transform="rotate(27 511.0 2399.1)"/><ellipse cx="612.3" cy="2455.7" rx="5.9" ry="2.1" transform="rotate(109 612.3 2455.7)"/><ellipse cx="524.5" cy="2418.9" rx="2.2" ry="1.8" transform="rotate(43 524.5 2418.9)"/><ellipse cx="416.8" cy="2308.8" rx="5.9" ry="1.4" transform="rotate(121 416.8 2308.8)"/><ellipse cx="459.2" cy="2229.8" rx="4.5" ry="1.2" transform="rotate(152 459.2 2229.8)"/><ellipse cx="674.0" cy="2467.2" rx="4.1" ry="1.3" transform="rotate(35 674.0 2467.2)"/><ellipse cx="665.9" cy="2465.4" rx="2.3" ry="2.6" transform="rotate(115 665.9 2465.4)"/><ellipse cx="488.4" cy="2404.2" rx="3.3" ry="1.4" transform="rotate(7 488.4 2404.2)"/><ellipse cx="640.0" cy="2468.2" rx="4.0" ry="1.6" transform="rotate(135 640.0 2468.2)"/><ellipse cx="482.2" cy="2027.5" rx="1.6" ry="1.2" transform="rotate(174 482.2 2027.5)"/><ellipse cx="537.2" cy="2418.4" rx="3.9" ry="2.6" transform="rotate(62 537.2 2418.4)"/><ellipse cx="497.1" cy="2413.8" rx="3.1" ry="1.9" transform="rotate(138 497.1 2413.8)"/><ellipse cx="655.4" cy="2469.7" rx="5.7" ry="1.0" transform="rotate(136 655.4 2469.7)"/><ellipse cx="608.6" cy="2457.6" rx="3.4" ry="2.5" transform="rotate(3 608.6 2457.6)"/><ellipse cx="520.8" cy="2415.2" rx="3.8" ry="2.3" transform="rotate(41 520.8 2415.2)"/><ellipse cx="465.3" cy="2156.6" rx="2.3" ry="1.6" transform="rotate(171 465.3 2156.6)"/><ellipse cx="483.0" cy="2414.5" rx="2.7" ry="2.7" transform="rotate(80 483.0 2414.5)"/><ellipse cx="690.5" cy="2471.7" rx="3.8" ry="2.6" transform="rotate(134 690.5 2471.7)"/><ellipse cx="498.0" cy="2401.9" rx="5.5" ry="1.7" transform="rotate(166 498.0 2401.9)"/><ellipse cx="457.5" cy="2051.3" rx="3.8" ry="2.7" transform="rotate(45 457.5 2051.3)"/><ellipse cx="608.1" cy="2451.8" rx="4.7" ry="2.1" transform="rotate(175 608.1 2451.8)"/><ellipse cx="431.5" cy="2252.8" rx="2.4" ry="1.1" transform="rotate(38 431.5 2252.8)"/><ellipse cx="661.3" cy="2458.2" rx="2.0" ry="2.1" transform="rotate(86 661.3 2458.2)"/><ellipse cx="502.2" cy="2410.0" rx="2.9" ry="2.7" transform="rotate(84 502.2 2410.0)"/><ellipse cx="516.2" cy="2422.7" rx="2.3" ry="1.1" transform="rotate(74 516.2 2422.7)"/><ellipse cx="591.2" cy="2437.1" rx="4.8" ry="1.2" transform="rotate(164 591.2 2437.1)"/><ellipse cx="605.4" cy="2453.8" rx="3.9" ry="2.6" transform="rotate(8 605.4 2453.8)"/><ellipse cx="475.1" cy="2030.1" rx="2.6" ry="1.4" transform="rotate(34 475.1 2030.1)"/><ellipse cx="492.2" cy="2396.9" rx="4.2" ry="1.3" transform="rotate(122 492.2 2396.9)"/><ellipse cx="471.9" cy="2023.5" rx="5.7" ry="2.0" transform="rotate(146 471.9 2023.5)"/><ellipse cx="525.3" cy="2446.5" rx="2.4" ry="2.0" transform="rotate(7 525.3 2446.5)"/><ellipse cx="599.7" cy="2470.8" rx="5.3" ry="1.1" transform="rotate(61 599.7 2470.8)"/><ellipse cx="442.9" cy="2241.0" rx="4.3" ry="2.4" transform="rotate(56 442.9 2241.0)"/><ellipse cx="634.2" cy="2463.8" rx="2.1" ry="2.4" transform="rotate(159 634.2 2463.8)"/><ellipse cx="458.0" cy="2153.8" rx="4.4" ry="2.1" transform="rotate(17 458.0 2153.8)"/><ellipse cx="534.8" cy="2428.9" rx="5.2" ry="2.4" transform="rotate(59 534.8 2428.9)"/><ellipse cx="569.4" cy="2431.0" rx="5.5" ry="1.3" transform="rotate(5 569.4 2431.0)"/><ellipse cx="518.8" cy="2451.1" rx="4.0" ry="2.7" transform="rotate(68 518.8 2451.1)"/><ellipse cx="451.4" cy="2195.7" rx="4.5" ry="1.2" transform="rotate(69 451.4 2195.7)"/><ellipse cx="456.0" cy="2101.8" rx="5.2" ry="1.7" transform="rotate(67 456.0 2101.8)"/><ellipse cx="492.7" cy="2369.5" rx="2.6" ry="1.6" transform="rotate(82 492.7 2369.5)"/><ellipse cx="464.5" cy="2063.2" rx="4.1" ry="1.5" transform="rotate(14 464.5 2063.2)"/><ellipse cx="586.4" cy="2447.8" rx="2.1" ry="1.2" transform="rotate(15 586.4 2447.8)"/><ellipse cx="654.7" cy="2467.0" rx="2.9" ry="2.5" transform="rotate(112 654.7 2467.0)"/><ellipse cx="456.5" cy="2145.2" rx="5.5" ry="1.7" transform="rotate(128 456.5 2145.2)"/><ellipse cx="444.1" cy="2067.6" rx="5.0" ry="2.5" transform="rotate(121 444.1 2067.6)"/><ellipse cx="423.9" cy="2283.0" rx="3.8" ry="2.4" transform="rotate(34 423.9 2283.0)"/><ellipse cx="430.8" cy="2202.3" rx="4.9" ry="2.6" transform="rotate(23 430.8 2202.3)"/><ellipse cx="448.5" cy="2140.9" rx="4.4" ry="2.3" transform="rotate(179 448.5 2140.9)"/><ellipse cx="669.1" cy="2475.4" rx="5.0" ry="1.7" transform="rotate(115 669.1 2475.4)"/><ellipse cx="444.4" cy="2140.0" rx="4.9" ry="2.3" transform="rotate(80 444.4 2140.0)"/><ellipse cx="438.6" cy="2286.6" rx="1.7" ry="2.5" transform="rotate(98 438.6 2286.6)"/><ellipse cx="435.8" cy="2294.3" rx="4.7" ry="1.7" transform="rotate(150 435.8 2294.3)"/><ellipse cx="661.7" cy="2465.0" rx="2.1" ry="2.4" transform="rotate(179 661.7 2465.0)"/><ellipse cx="458.8" cy="2114.4" rx="5.2" ry="2.7" transform="rotate(22 458.8 2114.4)"/><ellipse cx="445.5" cy="2064.3" rx="2.0" ry="1.3" transform="rotate(103 445.5 2064.3)"/><ellipse cx="439.8" cy="2338.1" rx="2.4" ry="2.6" transform="rotate(39 439.8 2338.1)"/><ellipse cx="590.2" cy="2446.6" rx="3.6" ry="1.1" transform="rotate(56 590.2 2446.6)"/><ellipse cx="404.6" cy="2236.0" rx="3.5" ry="1.1" transform="rotate(179 404.6 2236.0)"/><ellipse cx="646.1" cy="2468.2" rx="2.6" ry="1.7" transform="rotate(41 646.1 2468.2)"/><ellipse cx="462.3" cy="2096.4" rx="3.8" ry="1.2" transform="rotate(32 462.3 2096.4)"/><ellipse cx="634.5" cy="2454.4" rx="2.3" ry="2.2" transform="rotate(48 634.5 2454.4)"/><ellipse cx="465.0" cy="2391.9" rx="3.8" ry="2.1" transform="rotate(97 465.0 2391.9)"/><ellipse cx="422.6" cy="2302.5" rx="5.4" ry="1.3" transform="rotate(25 422.6 2302.5)"/><ellipse cx="452.3" cy="2083.7" rx="5.7" ry="1.4" transform="rotate(175 452.3 2083.7)"/><ellipse cx="439.2" cy="2157.6" rx="3.7" ry="2.6" transform="rotate(7 439.2 2157.6)"/><ellipse cx="388.0" cy="2237.6" rx="1.8" ry="1.4" transform="rotate(84 388.0 2237.6)"/><ellipse cx="643.3" cy="2461.6" rx="5.2" ry="2.4" transform="rotate(127 643.3 2461.6)"/><ellipse cx="626.9" cy="2469.5" rx="4.8" ry="1.5" transform="rotate(30 626.9 2469.5)"/><ellipse cx="584.9" cy="2442.4" rx="5.6" ry="2.1" transform="rotate(59 584.9 2442.4)"/><ellipse cx="669.8" cy="2467.2" rx="3.8" ry="1.2" transform="rotate(174 669.8 2467.2)"/><ellipse cx="489.5" cy="2408.5" rx="2.8" ry="2.4" transform="rotate(127 489.5 2408.5)"/><ellipse cx="531.3" cy="2411.3" rx="3.5" ry="1.7" transform="rotate(125 531.3 2411.3)"/><ellipse cx="617.5" cy="2470.0" rx="4.5" ry="1.4" transform="rotate(99 617.5 2470.0)"/><ellipse cx="593.6" cy="2438.0" rx="4.8" ry="1.0" transform="rotate(173 593.6 2438.0)"/><ellipse cx="442.3" cy="2353.9" rx="4.7" ry="1.9" transform="rotate(132 442.3 2353.9)"/><ellipse cx="453.1" cy="2061.7" rx="4.0" ry="2.7" transform="rotate(7 453.1 2061.7)"/><ellipse cx="442.1" cy="2342.2" rx="4.0" ry="1.1" transform="rotate(107 442.1 2342.2)"/><ellipse cx="452.2" cy="2171.7" rx="5.5" ry="1.4" transform="rotate(82 452.2 2171.7)"/><ellipse cx="582.9" cy="2438.7" rx="4.0" ry="2.5" transform="rotate(84 582.9 2438.7)"/><ellipse cx="518.4" cy="2410.7" rx="4.6" ry="2.2" transform="rotate(73 518.4 2410.7)"/><ellipse cx="484.3" cy="2398.3" rx="4.8" ry="1.7" transform="rotate(84 484.3 2398.3)"/><ellipse cx="582.7" cy="2446.4" rx="3.0" ry="2.5" transform="rotate(69 582.7 2446.4)"/><ellipse cx="625.0" cy="2465.7" rx="3.5" ry="2.3" transform="rotate(6 625.0 2465.7)"/><ellipse cx="411.9" cy="2299.6" rx="4.1" ry="2.0" transform="rotate(120 411.9 2299.6)"/><ellipse cx="541.5" cy="2437.5" rx="3.4" ry="1.3" transform="rotate(53 541.5 2437.5)"/><ellipse cx="419.8" cy="2222.1" rx="6.0" ry="1.6" transform="rotate(81 419.8 2222.1)"/><ellipse cx="397.3" cy="2287.7" rx="5.8" ry="2.6" transform="rotate(68 397.3 2287.7)"/><ellipse cx="427.2" cy="2202.6" rx="3.7" ry="2.2" transform="rotate(13 427.2 2202.6)"/><ellipse cx="638.0" cy="2451.4" rx="3.7" ry="1.4" transform="rotate(76 638.0 2451.4)"/><ellipse cx="620.2" cy="2450.0" rx="3.6" ry="2.4" transform="rotate(82 620.2 2450.0)"/><ellipse cx="419.7" cy="2285.7" rx="2.4" ry="1.6" transform="rotate(127 419.7 2285.7)"/><ellipse cx="595.7" cy="2434.7" rx="4.8" ry="2.5" transform="rotate(80 595.7 2434.7)"/><ellipse cx="476.6" cy="2053.2" rx="2.6" ry="2.2" transform="rotate(68 476.6 2053.2)"/><ellipse cx="522.2" cy="2423.2" rx="3.6" ry="1.9" transform="rotate(114 522.2 2423.2)"/><ellipse cx="415.0" cy="2147.8" rx="2.8" ry="1.6" transform="rotate(46 415.0 2147.8)"/><ellipse cx="474.8" cy="2056.3" rx="5.0" ry="2.3" transform="rotate(35 474.8 2056.3)"/><ellipse cx="449.1" cy="2102.4" rx="5.0" ry="1.9" transform="rotate(166 449.1 2102.4)"/><ellipse cx="534.7" cy="2422.2" rx="5.0" ry="2.4" transform="rotate(62 534.7 2422.2)"/><ellipse cx="449.4" cy="2198.6" rx="3.7" ry="1.3" transform="rotate(79 449.4 2198.6)"/><ellipse cx="522.3" cy="2426.7" rx="2.1" ry="1.3" transform="rotate(51 522.3 2426.7)"/><ellipse cx="681.8" cy="2469.0" rx="2.3" ry="1.3" transform="rotate(85 681.8 2469.0)"/><ellipse cx="474.7" cy="2019.8" rx="2.7" ry="2.4" transform="rotate(33 474.7 2019.8)"/><ellipse cx="508.2" cy="2424.1" rx="3.4" ry="2.5" transform="rotate(29 508.2 2424.1)"/><ellipse cx="663.8" cy="2465.2" rx="4.5" ry="1.1" transform="rotate(119 663.8 2465.2)"/><ellipse cx="499.5" cy="2420.5" rx="2.5" ry="2.7" transform="rotate(160 499.5 2420.5)"/><ellipse cx="445.3" cy="2082.5" rx="1.6" ry="2.5" transform="rotate(165 445.3 2082.5)"/><ellipse cx="696.2" cy="2464.8" rx="4.5" ry="2.2" transform="rotate(103 696.2 2464.8)"/><ellipse cx="675.2" cy="2482.4" rx="3.0" ry="1.9" transform="rotate(3 675.2 2482.4)"/><ellipse cx="569.9" cy="2433.3" rx="3.4" ry="2.5" transform="rotate(136 569.9 2433.3)"/><ellipse cx="439.6" cy="2255.4" rx="2.1" ry="1.3" transform="rotate(55 439.6 2255.4)"/><ellipse cx="433.8" cy="2341.1" rx="2.8" ry="2.6" transform="rotate(122 433.8 2341.1)"/><ellipse cx="629.3" cy="2465.8" rx="1.5" ry="2.4" transform="rotate(44 629.3 2465.8)"/><ellipse cx="457.4" cy="2109.4" rx="4.6" ry="1.4" transform="rotate(48 457.4 2109.4)"/><ellipse cx="670.0" cy="2471.6" rx="4.7" ry="1.2" transform="rotate(147 670.0 2471.6)"/><ellipse cx="457.7" cy="2088.9" rx="1.7" ry="2.0" transform="rotate(152 457.7 2088.9)"/><ellipse cx="461.0" cy="2064.2" rx="4.9" ry="2.1" transform="rotate(56 461.0 2064.2)"/><ellipse cx="510.8" cy="2432.4" rx="5.4" ry="1.5" transform="rotate(136 510.8 2432.4)"/><ellipse cx="514.0" cy="2440.1" rx="3.2" ry="2.3" transform="rotate(126 514.0 2440.1)"/><ellipse cx="433.3" cy="2294.6" rx="5.8" ry="2.3" transform="rotate(37 433.3 2294.6)"/><ellipse cx="570.1" cy="2445.2" rx="3.6" ry="2.5" transform="rotate(81 570.1 2445.2)"/><ellipse cx="419.1" cy="2218.3" rx="1.8" ry="1.4" transform="rotate(49 419.1 2218.3)"/><ellipse cx="454.5" cy="2133.3" rx="3.6" ry="1.4" transform="rotate(133 454.5 2133.3)"/><ellipse cx="662.3" cy="2469.0" rx="4.1" ry="1.9" transform="rotate(14 662.3 2469.0)"/><ellipse cx="452.1" cy="2093.3" rx="3.6" ry="2.4" transform="rotate(12 452.1 2093.3)"/><ellipse cx="484.6" cy="2439.5" rx="5.4" ry="1.0" transform="rotate(94 484.6 2439.5)"/><ellipse cx="430.0" cy="2280.8" rx="1.8" ry="1.5" transform="rotate(146 430.0 2280.8)"/><ellipse cx="471.2" cy="2344.6" rx="5.9" ry="1.6" transform="rotate(8 471.2 2344.6)"/><ellipse cx="427.0" cy="2299.2" rx="1.9" ry="2.0" transform="rotate(172 427.0 2299.2)"/><ellipse cx="496.0" cy="2403.8" rx="3.0" ry="2.0" transform="rotate(135 496.0 2403.8)"/><ellipse cx="500.7" cy="2406.7" rx="4.0" ry="1.4" transform="rotate(105 500.7 2406.7)"/><ellipse cx="458.3" cy="2363.7" rx="4.3" ry="2.5" transform="rotate(24 458.3 2363.7)"/><ellipse cx="457.0" cy="2419.4" rx="3.3" ry="1.5" transform="rotate(67 457.0 2419.4)"/><ellipse cx="468.5" cy="2401.8" rx="4.0" ry="1.2" transform="rotate(147 468.5 2401.8)"/><ellipse cx="662.1" cy="2472.3" rx="2.6" ry="1.3" transform="rotate(153 662.1 2472.3)"/><ellipse cx="656.1" cy="2469.1" rx="3.0" ry="1.3" transform="rotate(85 656.1 2469.1)"/><ellipse cx="663.6" cy="2461.3" rx="2.3" ry="1.9" transform="rotate(94 663.6 2461.3)"/><ellipse cx="573.3" cy="2456.1" rx="2.1" ry="1.6" transform="rotate(177 573.3 2456.1)"/><ellipse cx="587.6" cy="2427.5" rx="5.1" ry="1.6" transform="rotate(141 587.6 2427.5)"/><ellipse cx="486.4" cy="2019.5" rx="2.2" ry="1.8" transform="rotate(119 486.4 2019.5)"/><ellipse cx="463.8" cy="2373.9" rx="2.1" ry="1.5" transform="rotate(9 463.8 2373.9)"/><ellipse cx="436.2" cy="2164.0" rx="3.6" ry="1.6" transform="rotate(106 436.2 2164.0)"/><ellipse cx="438.1" cy="2213.8" rx="3.0" ry="2.4" transform="rotate(46 438.1 2213.8)"/><ellipse cx="430.4" cy="2308.3" rx="3.3" ry="2.6" transform="rotate(165 430.4 2308.3)"/><ellipse cx="388.0" cy="2233.9" rx="2.6" ry="1.3" transform="rotate(79 388.0 2233.9)"/><ellipse cx="512.3" cy="2401.4" rx="2.2" ry="2.3" transform="rotate(86 512.3 2401.4)"/><ellipse cx="435.2" cy="2093.9" rx="4.6" ry="1.2" transform="rotate(163 435.2 2093.9)"/><ellipse cx="483.3" cy="2085.7" rx="3.0" ry="2.7" transform="rotate(6 483.3 2085.7)"/><ellipse cx="658.1" cy="2477.3" rx="1.8" ry="2.0" transform="rotate(83 658.1 2477.3)"/><ellipse cx="480.6" cy="2408.4" rx="4.6" ry="2.8" transform="rotate(28 480.6 2408.4)"/><ellipse cx="612.2" cy="2450.1" rx="5.0" ry="2.6" transform="rotate(179 612.2 2450.1)"/><ellipse cx="452.0" cy="2203.2" rx="5.7" ry="2.7" transform="rotate(67 452.0 2203.2)"/><ellipse cx="672.3" cy="2464.4" rx="3.2" ry="2.4" transform="rotate(85 672.3 2464.4)"/><ellipse cx="442.0" cy="2338.8" rx="3.4" ry="1.3" transform="rotate(11 442.0 2338.8)"/><ellipse cx="577.4" cy="2457.6" rx="4.5" ry="2.4" transform="rotate(41 577.4 2457.6)"/><ellipse cx="435.3" cy="2177.4" rx="2.9" ry="2.4" transform="rotate(67 435.3 2177.4)"/><ellipse cx="424.3" cy="2245.9" rx="2.3" ry="1.2" transform="rotate(125 424.3 2245.9)"/><ellipse cx="586.1" cy="2439.2" rx="4.4" ry="1.1" transform="rotate(73 586.1 2439.2)"/><ellipse cx="492.6" cy="2407.0" rx="3.1" ry="2.1" transform="rotate(106 492.6 2407.0)"/><ellipse cx="457.0" cy="2119.0" rx="1.9" ry="2.7" transform="rotate(36 457.0 2119.0)"/><ellipse cx="444.3" cy="2194.9" rx="6.0" ry="1.5" transform="rotate(109 444.3 2194.9)"/><ellipse cx="695.7" cy="2470.3" rx="1.7" ry="1.9" transform="rotate(108 695.7 2470.3)"/><ellipse cx="553.9" cy="2446.4" rx="3.0" ry="1.0" transform="rotate(6 553.9 2446.4)"/><ellipse cx="484.4" cy="2390.2" rx="2.4" ry="1.6" transform="rotate(13 484.4 2390.2)"/><ellipse cx="467.0" cy="2029.5" rx="3.5" ry="1.4" transform="rotate(128 467.0 2029.5)"/><ellipse cx="463.1" cy="2014.7" rx="5.8" ry="2.6" transform="rotate(114 463.1 2014.7)"/><ellipse cx="448.4" cy="2066.4" rx="1.6" ry="1.4" transform="rotate(5 448.4 2066.4)"/><ellipse cx="453.0" cy="2094.6" rx="2.0" ry="1.3" transform="rotate(163 453.0 2094.6)"/><ellipse cx="412.0" cy="2255.9" rx="1.9" ry="2.4" transform="rotate(122 412.0 2255.9)"/><ellipse cx="460.6" cy="2417.0" rx="2.0" ry="1.5" transform="rotate(105 460.6 2417.0)"/><ellipse cx="677.5" cy="2467.1" rx="4.4" ry="1.9" transform="rotate(3 677.5 2467.1)"/><ellipse cx="649.3" cy="2454.3" rx="2.1" ry="2.2" transform="rotate(146 649.3 2454.3)"/><ellipse cx="595.3" cy="2457.7" rx="2.3" ry="1.1" transform="rotate(153 595.3 2457.7)"/><ellipse cx="686.8" cy="2486.8" rx="5.4" ry="1.7" transform="rotate(56 686.8 2486.8)"/><ellipse cx="457.2" cy="2376.1" rx="3.5" ry="1.4" transform="rotate(128 457.2 2376.1)"/><ellipse cx="438.7" cy="2386.3" rx="5.5" ry="1.6" transform="rotate(50 438.7 2386.3)"/><ellipse cx="670.6" cy="2469.1" rx="1.9" ry="1.1" transform="rotate(178 670.6 2469.1)"/><ellipse cx="488.1" cy="2416.8" rx="3.8" ry="1.9" transform="rotate(78 488.1 2416.8)"/><ellipse cx="677.4" cy="2465.1" rx="2.1" ry="1.3" transform="rotate(73 677.4 2465.1)"/><ellipse cx="624.1" cy="2447.5" rx="4.8" ry="2.0" transform="rotate(38 624.1 2447.5)"/><ellipse cx="613.0" cy="2455.6" rx="4.6" ry="1.3" transform="rotate(85 613.0 2455.6)"/><ellipse cx="688.4" cy="2469.0" rx="1.8" ry="1.8" transform="rotate(119 688.4 2469.0)"/><ellipse cx="471.5" cy="2047.2" rx="1.6" ry="2.0" transform="rotate(69 471.5 2047.2)"/><ellipse cx="465.6" cy="2369.3" rx="4.5" ry="1.3" transform="rotate(163 465.6 2369.3)"/><ellipse cx="679.5" cy="2478.9" rx="3.6" ry="2.5" transform="rotate(52 679.5 2478.9)"/><ellipse cx="606.7" cy="2451.5" rx="4.7" ry="1.6" transform="rotate(108 606.7 2451.5)"/><ellipse cx="663.1" cy="2472.4" rx="5.1" ry="2.0" transform="rotate(68 663.1 2472.4)"/><ellipse cx="416.2" cy="2267.0" rx="2.7" ry="2.1" transform="rotate(18 416.2 2267.0)"/><ellipse cx="543.9" cy="2419.7" rx="5.9" ry="2.6" transform="rotate(145 543.9 2419.7)"/><ellipse cx="453.7" cy="2137.1" rx="2.4" ry="2.6" transform="rotate(158 453.7 2137.1)"/><ellipse cx="514.8" cy="2418.3" rx="2.4" ry="1.9" transform="rotate(52 514.8 2418.3)"/><ellipse cx="455.5" cy="2095.1" rx="5.1" ry="2.7" transform="rotate(26 455.5 2095.1)"/><ellipse cx="476.5" cy="2018.8" rx="2.1" ry="1.3" transform="rotate(105 476.5 2018.8)"/><ellipse cx="427.0" cy="2324.7" rx="2.4" ry="2.2" transform="rotate(52 427.0 2324.7)"/><ellipse cx="397.8" cy="2309.0" rx="5.6" ry="1.4" transform="rotate(129 397.8 2309.0)"/><ellipse cx="432.4" cy="2235.2" rx="3.3" ry="1.9" transform="rotate(158 432.4 2235.2)"/><ellipse cx="549.4" cy="2411.8" rx="2.1" ry="2.8" transform="rotate(5 549.4 2411.8)"/><ellipse cx="438.2" cy="2229.0" rx="1.6" ry="1.3" transform="rotate(38 438.2 2229.0)"/><ellipse cx="474.8" cy="2070.4" rx="4.2" ry="1.6" transform="rotate(20 474.8 2070.4)"/><ellipse cx="607.7" cy="2461.1" rx="4.0" ry="1.2" transform="rotate(98 607.7 2461.1)"/><ellipse cx="513.4" cy="2428.7" rx="5.4" ry="1.7" transform="rotate(92 513.4 2428.7)"/><ellipse cx="449.8" cy="2083.7" rx="4.9" ry="2.3" transform="rotate(46 449.8 2083.7)"/><ellipse cx="697.8" cy="2460.8" rx="3.4" ry="1.7" transform="rotate(140 697.8 2460.8)"/><ellipse cx="446.8" cy="2133.6" rx="4.7" ry="1.9" transform="rotate(157 446.8 2133.6)"/><ellipse cx="462.5" cy="2347.0" rx="2.8" ry="2.7" transform="rotate(57 462.5 2347.0)"/><ellipse cx="555.1" cy="2428.7" rx="5.7" ry="2.7" transform="rotate(5 555.1 2428.7)"/><ellipse cx="698.7" cy="2463.7" rx="1.8" ry="1.9" transform="rotate(9 698.7 2463.7)"/><ellipse cx="473.8" cy="2402.2" rx="3.2" ry="1.5" transform="rotate(108 473.8 2402.2)"/><ellipse cx="611.8" cy="2466.9" rx="3.0" ry="2.0" transform="rotate(1 611.8 2466.9)"/><ellipse cx="403.8" cy="2287.1" rx="2.0" ry="2.6" transform="rotate(117 403.8 2287.1)"/><ellipse cx="424.1" cy="2223.0" rx="2.8" ry="2.6" transform="rotate(15 424.1 2223.0)"/><ellipse cx="455.9" cy="2089.5" rx="3.5" ry="1.3" transform="rotate(92 455.9 2089.5)"/><ellipse cx="437.1" cy="2226.0" rx="4.8" ry="2.5" transform="rotate(11 437.1 2226.0)"/><ellipse cx="482.8" cy="2439.8" rx="3.6" ry="2.4" transform="rotate(18 482.8 2439.8)"/><ellipse cx="641.2" cy="2452.6" rx="5.5" ry="2.4" transform="rotate(156 641.2 2452.6)"/><ellipse cx="475.1" cy="2048.9" rx="2.4" ry="1.5" transform="rotate(58 475.1 2048.9)"/><ellipse cx="499.4" cy="2411.0" rx="5.7" ry="1.0" transform="rotate(35 499.4 2411.0)"/><ellipse cx="419.1" cy="2275.8" rx="4.0" ry="1.9" transform="rotate(137 419.1 2275.8)"/><ellipse cx="527.5" cy="2437.1" rx="1.9" ry="1.8" transform="rotate(158 527.5 2437.1)"/><ellipse cx="505.8" cy="2407.6" rx="3.5" ry="1.7" transform="rotate(105 505.8 2407.6)"/><ellipse cx="502.8" cy="2400.9" rx="3.0" ry="1.7" transform="rotate(110 502.8 2400.9)"/><ellipse cx="644.3" cy="2472.2" rx="3.6" ry="2.5" transform="rotate(87 644.3 2472.2)"/><ellipse cx="682.1" cy="2473.1" rx="2.1" ry="2.5" transform="rotate(54 682.1 2473.1)"/><ellipse cx="625.5" cy="2471.2" rx="3.8" ry="1.2" transform="rotate(142 625.5 2471.2)"/><ellipse cx="477.6" cy="2056.1" rx="5.4" ry="1.5" transform="rotate(23 477.6 2056.1)"/><ellipse cx="642.3" cy="2482.8" rx="2.1" ry="1.9" transform="rotate(44 642.3 2482.8)"/><ellipse cx="435.1" cy="2310.2" rx="5.6" ry="2.4" transform="rotate(29 435.1 2310.2)"/><ellipse cx="470.7" cy="2344.2" rx="6.0" ry="1.2" transform="rotate(92 470.7 2344.2)"/><ellipse cx="659.6" cy="2463.3" rx="2.7" ry="2.0" transform="rotate(58 659.6 2463.3)"/><ellipse cx="668.2" cy="2454.0" rx="2.4" ry="1.2" transform="rotate(128 668.2 2454.0)"/><ellipse cx="423.2" cy="2222.4" rx="5.5" ry="2.7" transform="rotate(46 423.2 2222.4)"/><ellipse cx="477.1" cy="2010.3" rx="5.8" ry="2.4" transform="rotate(11 477.1 2010.3)"/><ellipse cx="555.9" cy="2440.1" rx="5.9" ry="2.3" transform="rotate(155 555.9 2440.1)"/><ellipse cx="621.2" cy="2469.3" rx="1.9" ry="2.3" transform="rotate(25 621.2 2469.3)"/><ellipse cx="415.9" cy="2294.7" rx="4.0" ry="1.9" transform="rotate(171 415.9 2294.7)"/><ellipse cx="455.2" cy="2217.1" rx="3.0" ry="1.2" transform="rotate(165 455.2 2217.1)"/><ellipse cx="442.7" cy="2140.7" rx="5.5" ry="2.1" transform="rotate(121 442.7 2140.7)"/><ellipse cx="573.3" cy="2438.6" rx="1.9" ry="1.9" transform="rotate(9 573.3 2438.6)"/><ellipse cx="478.4" cy="2361.3" rx="4.5" ry="2.1" transform="rotate(8 478.4 2361.3)"/><ellipse cx="429.3" cy="2178.5" rx="2.1" ry="2.0" transform="rotate(9 429.3 2178.5)"/><ellipse cx="671.9" cy="2464.0" rx="3.3" ry="2.0" transform="rotate(129 671.9 2464.0)"/><ellipse cx="667.8" cy="2477.4" rx="3.1" ry="1.1" transform="rotate(127 667.8 2477.4)"/><ellipse cx="686.8" cy="2470.7" rx="5.0" ry="1.3" transform="rotate(83 686.8 2470.7)"/><ellipse cx="477.4" cy="2377.0" rx="6.0" ry="2.2" transform="rotate(71 477.4 2377.0)"/><ellipse cx="559.6" cy="2450.9" rx="3.4" ry="1.7" transform="rotate(89 559.6 2450.9)"/><ellipse cx="443.1" cy="2214.3" rx="2.2" ry="1.8" transform="rotate(53 443.1 2214.3)"/><ellipse cx="616.6" cy="2475.7" rx="3.0" ry="2.1" transform="rotate(162 616.6 2475.7)"/><ellipse cx="439.3" cy="2272.6" rx="3.5" ry="2.2" transform="rotate(173 439.3 2272.6)"/><ellipse cx="443.0" cy="2101.9" rx="4.5" ry="2.4" transform="rotate(114 443.0 2101.9)"/><ellipse cx="639.0" cy="2456.3" rx="4.7" ry="1.5" transform="rotate(92 639.0 2456.3)"/><ellipse cx="541.1" cy="2444.1" rx="1.8" ry="2.4" transform="rotate(146 541.1 2444.1)"/><ellipse cx="534.4" cy="2436.4" rx="4.5" ry="1.2" transform="rotate(119 534.4 2436.4)"/><ellipse cx="477.7" cy="2423.9" rx="3.5" ry="1.4" transform="rotate(131 477.7 2423.9)"/><ellipse cx="418.6" cy="2358.7" rx="3.1" ry="1.2" transform="rotate(98 418.6 2358.7)"/><ellipse cx="507.2" cy="2431.9" rx="5.5" ry="1.1" transform="rotate(139 507.2 2431.9)"/><ellipse cx="436.5" cy="2199.5" rx="3.2" ry="1.6" transform="rotate(88 436.5 2199.5)"/><ellipse cx="478.4" cy="2378.6" rx="4.4" ry="2.2" transform="rotate(69 478.4 2378.6)"/><ellipse cx="550.8" cy="2415.5" rx="4.2" ry="1.8" transform="rotate(101 550.8 2415.5)"/><ellipse cx="489.7" cy="2023.1" rx="2.5" ry="1.7" transform="rotate(13 489.7 2023.1)"/><ellipse cx="530.9" cy="2431.7" rx="3.1" ry="1.2" transform="rotate(112 530.9 2431.7)"/><ellipse cx="456.7" cy="2096.4" rx="2.1" ry="1.7" transform="rotate(89 456.7 2096.4)"/><ellipse cx="440.8" cy="2084.1" rx="2.7" ry="2.3" transform="rotate(178 440.8 2084.1)"/><ellipse cx="431.1" cy="2275.8" rx="2.1" ry="2.0" transform="rotate(78 431.1 2275.8)"/><ellipse cx="439.3" cy="2219.4" rx="4.9" ry="1.2" transform="rotate(53 439.3 2219.4)"/><ellipse cx="617.0" cy="2445.9" rx="4.3" ry="2.6" transform="rotate(177 617.0 2445.9)"/><ellipse cx="575.0" cy="2445.0" rx="2.5" ry="1.7" transform="rotate(112 575.0 2445.0)"/><ellipse cx="663.0" cy="2474.3" rx="3.3" ry="1.0" transform="rotate(125 663.0 2474.3)"/><ellipse cx="457.5" cy="2330.0" rx="2.6" ry="2.2" transform="rotate(121 457.5 2330.0)"/><ellipse cx="459.6" cy="2344.8" rx="3.3" ry="2.3" transform="rotate(34 459.6 2344.8)"/><ellipse cx="456.6" cy="2066.8" rx="2.6" ry="2.4" transform="rotate(147 456.6 2066.8)"/><ellipse cx="677.2" cy="2454.4" rx="4.4" ry="1.3" transform="rotate(148 677.2 2454.4)"/><ellipse cx="561.6" cy="2468.9" rx="4.6" ry="2.5" transform="rotate(54 561.6 2468.9)"/><ellipse cx="539.8" cy="2433.8" rx="3.0" ry="1.6" transform="rotate(28 539.8 2433.8)"/><ellipse cx="414.8" cy="2393.2" rx="3.4" ry="2.5" transform="rotate(123 414.8 2393.2)"/><ellipse cx="537.1" cy="2451.5" rx="2.5" ry="1.9" transform="rotate(17 537.1 2451.5)"/><ellipse cx="467.2" cy="2293.7" rx="1.9" ry="2.4" transform="rotate(156 467.2 2293.7)"/><ellipse cx="461.5" cy="2376.4" rx="3.5" ry="1.6" transform="rotate(91 461.5 2376.4)"/><ellipse cx="449.4" cy="2149.6" rx="2.9" ry="2.8" transform="rotate(60 449.4 2149.6)"/><ellipse cx="452.0" cy="2176.9" rx="2.1" ry="2.7" transform="rotate(154 452.0 2176.9)"/><ellipse cx="531.5" cy="2415.9" rx="2.4" ry="1.2" transform="rotate(19 531.5 2415.9)"/><ellipse cx="419.0" cy="2266.0" rx="5.7" ry="2.0" transform="rotate(178 419.0 2266.0)"/><ellipse cx="567.1" cy="2436.7" rx="4.0" ry="1.3" transform="rotate(7 567.1 2436.7)"/><ellipse cx="673.9" cy="2465.3" rx="2.4" ry="1.2" transform="rotate(117 673.9 2465.3)"/><ellipse cx="445.5" cy="2347.2" rx="4.7" ry="1.5" transform="rotate(141 445.5 2347.2)"/><ellipse cx="463.4" cy="2358.4" rx="3.6" ry="2.2" transform="rotate(178 463.4 2358.4)"/><ellipse cx="604.3" cy="2450.4" rx="3.7" ry="1.4" transform="rotate(18 604.3 2450.4)"/><ellipse cx="473.6" cy="2156.0" rx="5.8" ry="2.3" transform="rotate(154 473.6 2156.0)"/><ellipse cx="555.4" cy="2434.6" rx="3.3" ry="1.8" transform="rotate(53 555.4 2434.6)"/><ellipse cx="430.6" cy="2322.8" rx="1.8" ry="1.5" transform="rotate(86 430.6 2322.8)"/><ellipse cx="541.3" cy="2435.9" rx="4.8" ry="1.2" transform="rotate(33 541.3 2435.9)"/><ellipse cx="417.3" cy="2234.2" rx="4.9" ry="2.8" transform="rotate(123 417.3 2234.2)"/><ellipse cx="477.0" cy="2032.1" rx="5.1" ry="2.7" transform="rotate(107 477.0 2032.1)"/><ellipse cx="422.3" cy="2265.6" rx="4.4" ry="2.6" transform="rotate(61 422.3 2265.6)"/><ellipse cx="441.2" cy="2144.3" rx="2.1" ry="2.5" transform="rotate(112 441.2 2144.3)"/><ellipse cx="696.2" cy="2467.3" rx="3.1" ry="2.4" transform="rotate(119 696.2 2467.3)"/><ellipse cx="472.0" cy="2054.8" rx="4.4" ry="2.2" transform="rotate(81 472.0 2054.8)"/><ellipse cx="420.2" cy="2137.0" rx="3.6" ry="2.3" transform="rotate(96 420.2 2137.0)"/><ellipse cx="438.5" cy="2053.7" rx="1.8" ry="1.3" transform="rotate(36 438.5 2053.7)"/><ellipse cx="420.4" cy="2317.8" rx="3.1" ry="2.5" transform="rotate(4 420.4 2317.8)"/><ellipse cx="467.8" cy="2080.6" rx="3.9" ry="1.8" transform="rotate(48 467.8 2080.6)"/><ellipse cx="489.0" cy="2376.8" rx="5.4" ry="2.5" transform="rotate(58 489.0 2376.8)"/><ellipse cx="475.2" cy="2026.2" rx="2.8" ry="2.2" transform="rotate(154 475.2 2026.2)"/><ellipse cx="594.9" cy="2480.3" rx="3.7" ry="2.5" transform="rotate(83 594.9 2480.3)"/><ellipse cx="406.1" cy="2199.2" rx="3.0" ry="2.4" transform="rotate(150 406.1 2199.2)"/><ellipse cx="455.8" cy="2107.9" rx="3.2" ry="1.8" transform="rotate(172 455.8 2107.9)"/><ellipse cx="670.3" cy="2475.5" rx="4.8" ry="2.2" transform="rotate(49 670.3 2475.5)"/><ellipse cx="428.4" cy="2283.8" rx="5.2" ry="1.5" transform="rotate(14 428.4 2283.8)"/><ellipse cx="444.1" cy="2240.6" rx="4.8" ry="1.0" transform="rotate(41 444.1 2240.6)"/><ellipse cx="652.1" cy="2456.9" rx="4.3" ry="2.0" transform="rotate(40 652.1 2456.9)"/><ellipse cx="640.3" cy="2463.0" rx="3.8" ry="1.3" transform="rotate(39 640.3 2463.0)"/><ellipse cx="397.9" cy="2293.6" rx="1.8" ry="1.7" transform="rotate(81 397.9 2293.6)"/><ellipse cx="429.3" cy="2218.1" rx="3.0" ry="1.7" transform="rotate(111 429.3 2218.1)"/><ellipse cx="444.5" cy="2378.1" rx="5.1" ry="1.9" transform="rotate(83 444.5 2378.1)"/><ellipse cx="562.1" cy="2439.4" rx="5.3" ry="2.5" transform="rotate(120 562.1 2439.4)"/><ellipse cx="564.8" cy="2444.8" rx="4.6" ry="1.5" transform="rotate(46 564.8 2444.8)"/><ellipse cx="457.7" cy="2091.0" rx="1.6" ry="2.2" transform="rotate(135 457.7 2091.0)"/><ellipse cx="592.6" cy="2449.3" rx="4.4" ry="2.5" transform="rotate(6 592.6 2449.3)"/><ellipse cx="443.0" cy="2146.9" rx="3.6" ry="1.3" transform="rotate(97 443.0 2146.9)"/><ellipse cx="433.5" cy="2261.3" rx="3.9" ry="2.2" transform="rotate(44 433.5 2261.3)"/><ellipse cx="561.7" cy="2428.9" rx="4.7" ry="1.1" transform="rotate(170 561.7 2428.9)"/><ellipse cx="489.0" cy="2410.5" rx="3.5" ry="1.9" transform="rotate(93 489.0 2410.5)"/><ellipse cx="428.7" cy="2187.3" rx="3.1" ry="2.4" transform="rotate(79 428.7 2187.3)"/><ellipse cx="479.4" cy="2036.2" rx="2.4" ry="1.0" transform="rotate(176 479.4 2036.2)"/><ellipse cx="430.3" cy="2223.2" rx="3.1" ry="1.1" transform="rotate(162 430.3 2223.2)"/><ellipse cx="670.5" cy="2462.4" rx="3.4" ry="1.7" transform="rotate(30 670.5 2462.4)"/><ellipse cx="537.5" cy="2423.3" rx="4.9" ry="2.2" transform="rotate(3 537.5 2423.3)"/><ellipse cx="430.7" cy="2173.2" rx="4.7" ry="1.7" transform="rotate(81 430.7 2173.2)"/><ellipse cx="624.0" cy="2458.8" rx="2.7" ry="1.5" transform="rotate(179 624.0 2458.8)"/><ellipse cx="439.3" cy="2173.3" rx="3.4" ry="2.2" transform="rotate(28 439.3 2173.3)"/><ellipse cx="626.5" cy="2449.4" rx="4.7" ry="1.3" transform="rotate(159 626.5 2449.4)"/><ellipse cx="445.8" cy="2154.0" rx="5.3" ry="1.5" transform="rotate(17 445.8 2154.0)"/><ellipse cx="485.4" cy="2428.7" rx="3.7" ry="2.4" transform="rotate(83 485.4 2428.7)"/><ellipse cx="478.9" cy="2354.9" rx="3.5" ry="1.7" transform="rotate(29 478.9 2354.9)"/><ellipse cx="425.1" cy="2224.2" rx="2.6" ry="2.4" transform="rotate(21 425.1 2224.2)"/><ellipse cx="443.0" cy="2156.6" rx="2.9" ry="1.4" transform="rotate(67 443.0 2156.6)"/><ellipse cx="449.5" cy="2378.7" rx="5.9" ry="2.5" transform="rotate(77 449.5 2378.7)"/><ellipse cx="433.9" cy="2344.2" rx="2.6" ry="2.7" transform="rotate(12 433.9 2344.2)"/><ellipse cx="433.7" cy="2153.9" rx="4.2" ry="1.5" transform="rotate(169 433.7 2153.9)"/><ellipse cx="412.1" cy="2314.9" rx="1.9" ry="2.6" transform="rotate(19 412.1 2314.9)"/><ellipse cx="429.3" cy="2300.3" rx="5.8" ry="2.6" transform="rotate(149 429.3 2300.3)"/><ellipse cx="424.0" cy="2174.8" rx="3.5" ry="1.1" transform="rotate(173 424.0 2174.8)"/><ellipse cx="472.8" cy="2014.9" rx="2.4" ry="1.0" transform="rotate(90 472.8 2014.9)"/><ellipse cx="472.5" cy="2061.9" rx="4.6" ry="1.7" transform="rotate(151 472.5 2061.9)"/><ellipse cx="600.5" cy="2460.6" rx="5.3" ry="2.7" transform="rotate(112 600.5 2460.6)"/><ellipse cx="439.0" cy="2267.0" rx="5.7" ry="1.6" transform="rotate(16 439.0 2267.0)"/><ellipse cx="637.8" cy="2456.2" rx="2.5" ry="2.0" transform="rotate(55 637.8 2456.2)"/><ellipse cx="659.0" cy="2475.5" rx="2.4" ry="1.1" transform="rotate(62 659.0 2475.5)"/><ellipse cx="693.8" cy="2478.8" rx="3.6" ry="2.7" transform="rotate(1 693.8 2478.8)"/><ellipse cx="413.7" cy="2223.4" rx="1.9" ry="2.7" transform="rotate(150 413.7 2223.4)"/><ellipse cx="435.5" cy="2103.4" rx="4.0" ry="2.2" transform="rotate(55 435.5 2103.4)"/><ellipse cx="448.0" cy="2289.8" rx="2.8" ry="1.3" transform="rotate(163 448.0 2289.8)"/><ellipse cx="644.7" cy="2473.1" rx="4.6" ry="1.9" transform="rotate(51 644.7 2473.1)"/><ellipse cx="419.4" cy="2266.3" rx="3.0" ry="2.0" transform="rotate(170 419.4 2266.3)"/><ellipse cx="444.0" cy="2226.8" rx="2.0" ry="2.3" transform="rotate(145 444.0 2226.8)"/><ellipse cx="625.8" cy="2448.0" rx="4.7" ry="2.8" transform="rotate(50 625.8 2448.0)"/><ellipse cx="495.0" cy="2364.4" rx="1.9" ry="1.8" transform="rotate(130 495.0 2364.4)"/><ellipse cx="594.1" cy="2449.5" rx="5.7" ry="1.4" transform="rotate(53 594.1 2449.5)"/><ellipse cx="619.2" cy="2460.2" rx="4.8" ry="1.6" transform="rotate(83 619.2 2460.2)"/><ellipse cx="617.9" cy="2468.1" rx="5.1" ry="2.4" transform="rotate(84 617.9 2468.1)"/><ellipse cx="650.2" cy="2465.1" rx="4.9" ry="2.2" transform="rotate(60 650.2 2465.1)"/><ellipse cx="478.1" cy="2380.2" rx="3.9" ry="1.2" transform="rotate(178 478.1 2380.2)"/><ellipse cx="684.5" cy="2467.3" rx="5.7" ry="2.0" transform="rotate(23 684.5 2467.3)"/><ellipse cx="612.6" cy="2461.7" rx="4.7" ry="2.5" transform="rotate(97 612.6 2461.7)"/><ellipse cx="470.3" cy="2042.6" rx="4.6" ry="2.6" transform="rotate(49 470.3 2042.6)"/><ellipse cx="602.0" cy="2439.1" rx="3.1" ry="1.7" transform="rotate(60 602.0 2439.1)"/><ellipse cx="471.0" cy="2013.1" rx="3.0" ry="1.2" transform="rotate(138 471.0 2013.1)"/><ellipse cx="419.2" cy="2330.8" rx="2.8" ry="1.6" transform="rotate(136 419.2 2330.8)"/><ellipse cx="431.7" cy="2358.4" rx="3.4" ry="2.0" transform="rotate(162 431.7 2358.4)"/><ellipse cx="424.4" cy="2202.9" rx="4.6" ry="1.2" transform="rotate(173 424.4 2202.9)"/><ellipse cx="477.3" cy="2357.5" rx="4.9" ry="2.5" transform="rotate(114 477.3 2357.5)"/><ellipse cx="656.0" cy="2482.0" rx="3.9" ry="2.3" transform="rotate(165 656.0 2482.0)"/><ellipse cx="513.0" cy="2450.9" rx="3.2" ry="2.0" transform="rotate(100 513.0 2450.9)"/><ellipse cx="653.1" cy="2470.5" rx="4.8" ry="2.7" transform="rotate(12 653.1 2470.5)"/><ellipse cx="593.4" cy="2439.0" rx="4.9" ry="1.5" transform="rotate(84 593.4 2439.0)"/><ellipse cx="614.6" cy="2462.0" rx="2.8" ry="1.9" transform="rotate(153 614.6 2462.0)"/><ellipse cx="411.8" cy="2204.2" rx="2.6" ry="1.5" transform="rotate(100 411.8 2204.2)"/><ellipse cx="530.9" cy="2427.3" rx="5.5" ry="1.5" transform="rotate(134 530.9 2427.3)"/><ellipse cx="521.3" cy="2421.9" rx="5.0" ry="2.6" transform="rotate(86 521.3 2421.9)"/><ellipse cx="659.8" cy="2466.0" rx="2.2" ry="2.4" transform="rotate(55 659.8 2466.0)"/><ellipse cx="486.5" cy="2426.1" rx="2.2" ry="2.4" transform="rotate(133 486.5 2426.1)"/><ellipse cx="451.1" cy="2109.8" rx="5.1" ry="2.6" transform="rotate(157 451.1 2109.8)"/><ellipse cx="429.1" cy="2392.1" rx="3.5" ry="1.3" transform="rotate(89 429.1 2392.1)"/><ellipse cx="438.0" cy="2175.7" rx="3.2" ry="1.1" transform="rotate(85 438.0 2175.7)"/><ellipse cx="554.4" cy="2432.7" rx="5.9" ry="2.6" transform="rotate(114 554.4 2432.7)"/><ellipse cx="652.2" cy="2458.8" rx="5.1" ry="1.5" transform="rotate(95 652.2 2458.8)"/><ellipse cx="692.2" cy="2459.8" rx="3.8" ry="2.4" transform="rotate(56 692.2 2459.8)"/><ellipse cx="619.5" cy="2457.2" rx="2.6" ry="1.3" transform="rotate(46 619.5 2457.2)"/><ellipse cx="673.1" cy="2472.2" rx="2.8" ry="2.0" transform="rotate(127 673.1 2472.2)"/><ellipse cx="592.2" cy="2447.9" rx="2.5" ry="2.5" transform="rotate(22 592.2 2447.9)"/><ellipse cx="456.5" cy="2048.2" rx="3.7" ry="2.7" transform="rotate(131 456.5 2048.2)"/><ellipse cx="490.2" cy="2396.5" rx="4.6" ry="2.1" transform="rotate(61 490.2 2396.5)"/><ellipse cx="451.9" cy="2067.2" rx="5.0" ry="2.1" transform="rotate(143 451.9 2067.2)"/><ellipse cx="475.2" cy="2039.7" rx="3.2" ry="2.7" transform="rotate(107 475.2 2039.7)"/><ellipse cx="488.0" cy="2382.9" rx="4.3" ry="2.2" transform="rotate(28 488.0 2382.9)"/><ellipse cx="495.6" cy="2431.5" rx="1.8" ry="1.2" transform="rotate(86 495.6 2431.5)"/><ellipse cx="426.0" cy="2198.3" rx="2.1" ry="1.0" transform="rotate(179 426.0 2198.3)"/><ellipse cx="424.1" cy="2237.6" rx="2.4" ry="1.4" transform="rotate(72 424.1 2237.6)"/><ellipse cx="599.9" cy="2450.8" rx="5.3" ry="2.8" transform="rotate(101 599.9 2450.8)"/><ellipse cx="450.6" cy="2272.7" rx="2.3" ry="1.6" transform="rotate(153 450.6 2272.7)"/><ellipse cx="473.0" cy="2011.6" rx="4.5" ry="1.0" transform="rotate(13 473.0 2011.6)"/><ellipse cx="569.9" cy="2453.8" rx="2.9" ry="2.6" transform="rotate(38 569.9 2453.8)"/><ellipse cx="408.1" cy="2334.6" rx="4.4" ry="1.2" transform="rotate(32 408.1 2334.6)"/><ellipse cx="588.1" cy="2448.0" rx="4.5" ry="2.3" transform="rotate(109 588.1 2448.0)"/><ellipse cx="453.4" cy="2153.0" rx="2.0" ry="1.5" transform="rotate(81 453.4 2153.0)"/><ellipse cx="446.9" cy="2083.1" rx="4.4" ry="2.3" transform="rotate(67 446.9 2083.1)"/><ellipse cx="442.8" cy="2295.0" rx="3.8" ry="2.0" transform="rotate(168 442.8 2295.0)"/><ellipse cx="476.9" cy="2037.2" rx="6.0" ry="1.6" transform="rotate(131 476.9 2037.2)"/><ellipse cx="614.7" cy="2461.9" rx="2.8" ry="2.1" transform="rotate(158 614.7 2461.9)"/><ellipse cx="470.4" cy="2084.0" rx="1.6" ry="2.5" transform="rotate(140 470.4 2084.0)"/><ellipse cx="462.8" cy="2039.3" rx="4.6" ry="1.2" transform="rotate(95 462.8 2039.3)"/><ellipse cx="553.8" cy="2422.1" rx="3.8" ry="2.8" transform="rotate(114 553.8 2422.1)"/><ellipse cx="466.2" cy="2367.5" rx="2.0" ry="2.5" transform="rotate(134 466.2 2367.5)"/><ellipse cx="617.0" cy="2471.7" rx="4.1" ry="2.0" transform="rotate(132 617.0 2471.7)"/><ellipse cx="397.3" cy="2252.6" rx="3.6" ry="2.2" transform="rotate(39 397.3 2252.6)"/><ellipse cx="462.8" cy="2025.2" rx="2.3" ry="2.5" transform="rotate(129 462.8 2025.2)"/><ellipse cx="577.1" cy="2452.8" rx="2.0" ry="1.8" transform="rotate(155 577.1 2452.8)"/><ellipse cx="462.0" cy="2376.2" rx="3.2" ry="1.3" transform="rotate(113 462.0 2376.2)"/><ellipse cx="429.0" cy="2378.3" rx="2.7" ry="2.3" transform="rotate(57 429.0 2378.3)"/><ellipse cx="490.6" cy="2407.6" rx="4.9" ry="1.7" transform="rotate(86 490.6 2407.6)"/><ellipse cx="663.0" cy="2476.6" rx="4.8" ry="1.6" transform="rotate(151 663.0 2476.6)"/><ellipse cx="442.5" cy="2291.9" rx="5.5" ry="2.2" transform="rotate(150 442.5 2291.9)"/><ellipse cx="466.6" cy="2406.5" rx="2.1" ry="2.8" transform="rotate(144 466.6 2406.5)"/><ellipse cx="468.1" cy="2112.6" rx="4.1" ry="2.4" transform="rotate(27 468.1 2112.6)"/><ellipse cx="680.3" cy="2475.4" rx="6.0" ry="2.4" transform="rotate(87 680.3 2475.4)"/><ellipse cx="385.8" cy="2278.0" rx="1.9" ry="2.1" transform="rotate(139 385.8 2278.0)"/><ellipse cx="654.4" cy="2470.5" rx="5.7" ry="1.5" transform="rotate(169 654.4 2470.5)"/><ellipse cx="660.5" cy="2468.8" rx="5.4" ry="2.3" transform="rotate(126 660.5 2468.8)"/><ellipse cx="624.7" cy="2456.0" rx="3.8" ry="1.7" transform="rotate(156 624.7 2456.0)"/><ellipse cx="651.4" cy="2469.6" rx="5.0" ry="1.5" transform="rotate(33 651.4 2469.6)"/><ellipse cx="429.0" cy="2146.5" rx="2.8" ry="1.4" transform="rotate(18 429.0 2146.5)"/><ellipse cx="430.5" cy="2246.8" rx="1.6" ry="1.9" transform="rotate(109 430.5 2246.8)"/><ellipse cx="477.3" cy="2043.3" rx="5.6" ry="2.8" transform="rotate(153 477.3 2043.3)"/><ellipse cx="447.7" cy="2129.0" rx="3.5" ry="1.3" transform="rotate(87 447.7 2129.0)"/><ellipse cx="662.9" cy="2467.1" rx="3.3" ry="1.1" transform="rotate(162 662.9 2467.1)"/><ellipse cx="693.1" cy="2473.5" rx="2.5" ry="2.0" transform="rotate(125 693.1 2473.5)"/><ellipse cx="469.3" cy="2349.1" rx="2.6" ry="1.5" transform="rotate(9 469.3 2349.1)"/><ellipse cx="438.8" cy="2195.0" rx="1.5" ry="2.3" transform="rotate(142 438.8 2195.0)"/><ellipse cx="445.4" cy="2306.2" rx="2.5" ry="2.2" transform="rotate(127 445.4 2306.2)"/><ellipse cx="577.4" cy="2427.6" rx="5.9" ry="2.6" transform="rotate(103 577.4 2427.6)"/><ellipse cx="544.6" cy="2437.1" rx="5.7" ry="2.2" transform="rotate(161 544.6 2437.1)"/><ellipse cx="395.8" cy="2217.6" rx="2.0" ry="2.0" transform="rotate(20 395.8 2217.6)"/><ellipse cx="439.2" cy="2143.1" rx="1.8" ry="1.7" transform="rotate(34 439.2 2143.1)"/><ellipse cx="631.2" cy="2443.8" rx="3.0" ry="2.5" transform="rotate(124 631.2 2443.8)"/><ellipse cx="561.6" cy="2422.1" rx="1.6" ry="2.2" transform="rotate(134 561.6 2422.1)"/><ellipse cx="581.7" cy="2438.9" rx="1.8" ry="1.2" transform="rotate(139 581.7 2438.9)"/><ellipse cx="509.9" cy="2415.4" rx="1.5" ry="2.0" transform="rotate(16 509.9 2415.4)"/><ellipse cx="584.2" cy="2432.8" rx="5.1" ry="1.2" transform="rotate(89 584.2 2432.8)"/><ellipse cx="456.3" cy="2074.0" rx="4.0" ry="1.4" transform="rotate(173 456.3 2074.0)"/><ellipse cx="538.7" cy="2450.4" rx="5.3" ry="1.7" transform="rotate(170 538.7 2450.4)"/><ellipse cx="401.2" cy="2224.3" rx="1.8" ry="2.3" transform="rotate(52 401.2 2224.3)"/><ellipse cx="433.0" cy="2323.8" rx="1.7" ry="1.4" transform="rotate(19 433.0 2323.8)"/><ellipse cx="569.5" cy="2457.5" rx="3.7" ry="1.6" transform="rotate(43 569.5 2457.5)"/><ellipse cx="668.9" cy="2467.9" rx="4.4" ry="2.3" transform="rotate(148 668.9 2467.9)"/><ellipse cx="433.1" cy="2200.1" rx="3.6" ry="1.3" transform="rotate(4 433.1 2200.1)"/><ellipse cx="661.4" cy="2466.7" rx="3.4" ry="1.2" transform="rotate(137 661.4 2466.7)"/><ellipse cx="474.6" cy="2385.7" rx="5.9" ry="2.7" transform="rotate(167 474.6 2385.7)"/><ellipse cx="618.0" cy="2454.5" rx="2.9" ry="2.2" transform="rotate(27 618.0 2454.5)"/><ellipse cx="505.8" cy="2427.8" rx="1.6" ry="2.3" transform="rotate(62 505.8 2427.8)"/><ellipse cx="555.8" cy="2430.3" rx="5.3" ry="2.1" transform="rotate(152 555.8 2430.3)"/><ellipse cx="537.3" cy="2419.8" rx="5.5" ry="1.1" transform="rotate(48 537.3 2419.8)"/><ellipse cx="429.6" cy="2296.2" rx="2.3" ry="2.6" transform="rotate(5 429.6 2296.2)"/><ellipse cx="441.5" cy="2137.2" rx="2.5" ry="1.5" transform="rotate(174 441.5 2137.2)"/><ellipse cx="587.8" cy="2443.6" rx="2.1" ry="1.5" transform="rotate(177 587.8 2443.6)"/><ellipse cx="602.7" cy="2444.1" rx="4.7" ry="1.7" transform="rotate(130 602.7 2444.1)"/><ellipse cx="425.5" cy="2224.3" rx="1.6" ry="1.5" transform="rotate(155 425.5 2224.3)"/><ellipse cx="648.9" cy="2458.2" rx="4.9" ry="1.4" transform="rotate(64 648.9 2458.2)"/><ellipse cx="648.8" cy="2476.3" rx="3.5" ry="2.4" transform="rotate(168 648.8 2476.3)"/><ellipse cx="698.0" cy="2475.6" rx="4.4" ry="1.7" transform="rotate(84 698.0 2475.6)"/><ellipse cx="436.9" cy="2350.8" rx="1.6" ry="2.4" transform="rotate(125 436.9 2350.8)"/><ellipse cx="624.5" cy="2457.1" rx="2.6" ry="2.1" transform="rotate(169 624.5 2457.1)"/><ellipse cx="431.6" cy="2359.9" rx="4.2" ry="2.7" transform="rotate(156 431.6 2359.9)"/><ellipse cx="652.7" cy="2459.7" rx="2.7" ry="2.6" transform="rotate(142 652.7 2459.7)"/><ellipse cx="628.8" cy="2462.6" rx="2.8" ry="1.4" transform="rotate(157 628.8 2462.6)"/><ellipse cx="663.8" cy="2456.1" rx="5.4" ry="1.7" transform="rotate(81 663.8 2456.1)"/><ellipse cx="497.8" cy="2389.4" rx="2.7" ry="1.5" transform="rotate(47 497.8 2389.4)"/><ellipse cx="455.7" cy="2385.6" rx="5.0" ry="1.3" transform="rotate(80 455.7 2385.6)"/><ellipse cx="524.7" cy="2424.0" rx="3.3" ry="2.0" transform="rotate(99 524.7 2424.0)"/><ellipse cx="649.1" cy="2460.7" rx="2.0" ry="2.5" transform="rotate(99 649.1 2460.7)"/><ellipse cx="541.6" cy="2438.1" rx="3.6" ry="2.3" transform="rotate(144 541.6 2438.1)"/><ellipse cx="610.4" cy="2444.3" rx="5.2" ry="2.0" transform="rotate(120 610.4 2444.3)"/><ellipse cx="628.8" cy="2463.3" rx="5.6" ry="2.6" transform="rotate(145 628.8 2463.3)"/><ellipse cx="436.8" cy="2288.2" rx="2.3" ry="2.4" transform="rotate(160 436.8 2288.2)"/><ellipse cx="454.9" cy="2123.6" rx="5.6" ry="1.9" transform="rotate(48 454.9 2123.6)"/><ellipse cx="471.9" cy="2029.6" rx="3.0" ry="1.9" transform="rotate(35 471.9 2029.6)"/><ellipse cx="508.4" cy="2412.9" rx="5.1" ry="2.2" transform="rotate(130 508.4 2412.9)"/><ellipse cx="438.4" cy="2191.8" rx="5.5" ry="2.7" transform="rotate(116 438.4 2191.8)"/><ellipse cx="658.8" cy="2481.9" rx="4.2" ry="1.8" transform="rotate(64 658.8 2481.9)"/><ellipse cx="429.9" cy="2381.6" rx="3.4" ry="1.9" transform="rotate(6 429.9 2381.6)"/><ellipse cx="425.7" cy="2300.5" rx="4.4" ry="2.5" transform="rotate(111 425.7 2300.5)"/><ellipse cx="545.9" cy="2407.0" rx="2.7" ry="1.7" transform="rotate(152 545.9 2407.0)"/><ellipse cx="672.5" cy="2475.7" rx="1.5" ry="2.7" transform="rotate(155 672.5 2475.7)"/><ellipse cx="499.5" cy="2428.3" rx="4.2" ry="2.6" transform="rotate(44 499.5 2428.3)"/><ellipse cx="448.7" cy="2333.5" rx="2.5" ry="2.3" transform="rotate(47 448.7 2333.5)"/><ellipse cx="563.8" cy="2427.2" rx="3.4" ry="2.8" transform="rotate(114 563.8 2427.2)"/><ellipse cx="581.9" cy="2449.8" rx="2.0" ry="2.3" transform="rotate(170 581.9 2449.8)"/><ellipse cx="520.7" cy="2415.2" rx="1.8" ry="2.6" transform="rotate(158 520.7 2415.2)"/><ellipse cx="512.2" cy="2430.1" rx="4.7" ry="1.4" transform="rotate(120 512.2 2430.1)"/><ellipse cx="550.8" cy="2441.5" rx="2.7" ry="1.0" transform="rotate(35 550.8 2441.5)"/><ellipse cx="617.9" cy="2466.5" rx="1.8" ry="1.4" transform="rotate(93 617.9 2466.5)"/><ellipse cx="496.8" cy="2409.8" rx="5.3" ry="2.7" transform="rotate(159 496.8 2409.8)"/><ellipse cx="443.8" cy="2339.7" rx="5.8" ry="1.4" transform="rotate(112 443.8 2339.7)"/><ellipse cx="452.5" cy="2202.0" rx="2.4" ry="1.8" transform="rotate(40 452.5 2202.0)"/><ellipse cx="636.4" cy="2442.8" rx="4.3" ry="1.6" transform="rotate(32 636.4 2442.8)"/><ellipse cx="631.3" cy="2464.8" rx="4.8" ry="2.8" transform="rotate(101 631.3 2464.8)"/><ellipse cx="416.5" cy="2128.3" rx="2.8" ry="1.9" transform="rotate(83 416.5 2128.3)"/><ellipse cx="490.8" cy="2395.2" rx="5.1" ry="1.7" transform="rotate(147 490.8 2395.2)"/><ellipse cx="633.9" cy="2458.6" rx="4.0" ry="2.6" transform="rotate(89 633.9 2458.6)"/><ellipse cx="465.0" cy="2081.5" rx="4.5" ry="1.7" transform="rotate(76 465.0 2081.5)"/><ellipse cx="423.5" cy="2307.5" rx="1.9" ry="1.1" transform="rotate(121 423.5 2307.5)"/><ellipse cx="408.3" cy="2247.4" rx="5.7" ry="2.1" transform="rotate(146 408.3 2247.4)"/><ellipse cx="589.1" cy="2439.9" rx="1.8" ry="1.7" transform="rotate(171 589.1 2439.9)"/><ellipse cx="432.5" cy="2354.1" rx="2.3" ry="1.1" transform="rotate(161 432.5 2354.1)"/><ellipse cx="430.7" cy="2313.5" rx="5.7" ry="1.4" transform="rotate(174 430.7 2313.5)"/><ellipse cx="405.6" cy="2305.8" rx="2.6" ry="1.9" transform="rotate(84 405.6 2305.8)"/><ellipse cx="645.1" cy="2466.6" rx="1.7" ry="1.3" transform="rotate(109 645.1 2466.6)"/><ellipse cx="599.6" cy="2439.8" rx="4.3" ry="2.2" transform="rotate(3 599.6 2439.8)"/><ellipse cx="416.4" cy="2183.5" rx="3.0" ry="2.7" transform="rotate(89 416.4 2183.5)"/><ellipse cx="435.4" cy="2168.6" rx="2.5" ry="1.6" transform="rotate(79 435.4 2168.6)"/><ellipse cx="433.8" cy="2340.9" rx="3.6" ry="1.1" transform="rotate(48 433.8 2340.9)"/><ellipse cx="681.2" cy="2473.8" rx="4.8" ry="1.9" transform="rotate(127 681.2 2473.8)"/><ellipse cx="451.9" cy="2251.6" rx="3.8" ry="2.6" transform="rotate(59 451.9 2251.6)"/><ellipse cx="467.2" cy="2067.4" rx="5.5" ry="1.6" transform="rotate(22 467.2 2067.4)"/><ellipse cx="494.3" cy="2425.0" rx="4.2" ry="1.3" transform="rotate(73 494.3 2425.0)"/><ellipse cx="426.2" cy="2202.3" rx="5.8" ry="1.8" transform="rotate(24 426.2 2202.3)"/><ellipse cx="646.5" cy="2454.1" rx="5.2" ry="1.5" transform="rotate(34 646.5 2454.1)"/><ellipse cx="484.7" cy="2374.2" rx="5.5" ry="2.7" transform="rotate(164 484.7 2374.2)"/><ellipse cx="447.0" cy="2259.2" rx="2.1" ry="1.9" transform="rotate(13 447.0 2259.2)"/><ellipse cx="449.9" cy="2081.4" rx="2.9" ry="1.6" transform="rotate(127 449.9 2081.4)"/><ellipse cx="442.0" cy="2051.4" rx="4.5" ry="2.2" transform="rotate(128 442.0 2051.4)"/><ellipse cx="564.7" cy="2443.2" rx="4.0" ry="2.3" transform="rotate(15 564.7 2443.2)"/><ellipse cx="417.4" cy="2156.5" rx="2.4" ry="2.0" transform="rotate(47 417.4 2156.5)"/><ellipse cx="411.9" cy="2336.5" rx="4.5" ry="1.8" transform="rotate(49 411.9 2336.5)"/><ellipse cx="605.3" cy="2459.0" rx="3.5" ry="2.6" transform="rotate(125 605.3 2459.0)"/><ellipse cx="691.0" cy="2468.8" rx="5.5" ry="2.0" transform="rotate(128 691.0 2468.8)"/><ellipse cx="627.0" cy="2446.7" rx="3.6" ry="2.1" transform="rotate(10 627.0 2446.7)"/><ellipse cx="600.0" cy="2449.5" rx="5.7" ry="1.7" transform="rotate(84 600.0 2449.5)"/><ellipse cx="656.3" cy="2471.5" rx="5.3" ry="1.8" transform="rotate(61 656.3 2471.5)"/><ellipse cx="444.8" cy="2211.4" rx="3.4" ry="1.3" transform="rotate(149 444.8 2211.4)"/><ellipse cx="689.0" cy="2462.8" rx="1.7" ry="1.0" transform="rotate(168 689.0 2462.8)"/><ellipse cx="470.0" cy="2059.4" rx="2.9" ry="1.4" transform="rotate(44 470.0 2059.4)"/><ellipse cx="550.7" cy="2433.2" rx="5.4" ry="2.0" transform="rotate(42 550.7 2433.2)"/><ellipse cx="427.7" cy="2155.2" rx="4.3" ry="1.6" transform="rotate(60 427.7 2155.2)"/><ellipse cx="439.2" cy="2351.1" rx="3.9" ry="2.5" transform="rotate(115 439.2 2351.1)"/><ellipse cx="467.1" cy="2423.4" rx="4.6" ry="1.9" transform="rotate(131 467.1 2423.4)"/><ellipse cx="456.4" cy="2141.1" rx="5.4" ry="1.7" transform="rotate(152 456.4 2141.1)"/><ellipse cx="668.0" cy="2477.3" rx="2.0" ry="2.4" transform="rotate(120 668.0 2477.3)"/><ellipse cx="456.0" cy="2222.3" rx="3.7" ry="1.1" transform="rotate(12 456.0 2222.3)"/><ellipse cx="457.1" cy="2177.5" rx="5.2" ry="1.2" transform="rotate(4 457.1 2177.5)"/><ellipse cx="517.6" cy="2414.2" rx="3.5" ry="2.5" transform="rotate(165 517.6 2414.2)"/><ellipse cx="683.7" cy="2474.3" rx="1.5" ry="1.3" transform="rotate(106 683.7 2474.3)"/><ellipse cx="679.0" cy="2467.0" rx="3.8" ry="1.7" transform="rotate(73 679.0 2467.0)"/><ellipse cx="424.4" cy="2203.7" rx="2.6" ry="1.2" transform="rotate(100 424.4 2203.7)"/><ellipse cx="450.1" cy="2334.4" rx="4.4" ry="2.7" transform="rotate(61 450.1 2334.4)"/><ellipse cx="643.7" cy="2464.1" rx="4.5" ry="2.4" transform="rotate(71 643.7 2464.1)"/><ellipse cx="439.1" cy="2338.3" rx="2.0" ry="2.0" transform="rotate(17 439.1 2338.3)"/><ellipse cx="414.1" cy="2166.2" rx="5.9" ry="2.8" transform="rotate(47 414.1 2166.2)"/><ellipse cx="452.4" cy="2111.1" rx="3.5" ry="1.7" transform="rotate(138 452.4 2111.1)"/><ellipse cx="562.6" cy="2430.7" rx="4.3" ry="2.0" transform="rotate(122 562.6 2430.7)"/><ellipse cx="667.2" cy="2459.7" rx="5.9" ry="2.5" transform="rotate(19 667.2 2459.7)"/><ellipse cx="437.5" cy="2342.9" rx="2.8" ry="2.1" transform="rotate(10 437.5 2342.9)"/><ellipse cx="444.0" cy="2155.4" rx="1.8" ry="1.8" transform="rotate(41 444.0 2155.4)"/><ellipse cx="635.1" cy="2455.0" rx="3.2" ry="2.4" transform="rotate(101 635.1 2455.0)"/><ellipse cx="466.6" cy="2042.4" rx="4.2" ry="1.4" transform="rotate(45 466.6 2042.4)"/><ellipse cx="521.1" cy="2408.8" rx="2.7" ry="2.0" transform="rotate(114 521.1 2408.8)"/><ellipse cx="472.4" cy="2035.9" rx="2.9" ry="2.6" transform="rotate(9 472.4 2035.9)"/><ellipse cx="413.3" cy="2264.7" rx="4.6" ry="2.5" transform="rotate(10 413.3 2264.7)"/><ellipse cx="635.7" cy="2455.6" rx="2.5" ry="2.6" transform="rotate(53 635.7 2455.6)"/><ellipse cx="603.4" cy="2440.1" rx="3.6" ry="1.9" transform="rotate(161 603.4 2440.1)"/><ellipse cx="623.3" cy="2454.1" rx="1.7" ry="1.8" transform="rotate(68 623.3 2454.1)"/><ellipse cx="698.9" cy="2465.4" rx="3.3" ry="1.7" transform="rotate(138 698.9 2465.4)"/><ellipse cx="466.0" cy="2074.3" rx="4.5" ry="1.8" transform="rotate(128 466.0 2074.3)"/><ellipse cx="435.1" cy="2302.4" rx="3.4" ry="1.1" transform="rotate(16 435.1 2302.4)"/><ellipse cx="410.9" cy="2342.7" rx="2.4" ry="1.9" transform="rotate(176 410.9 2342.7)"/><ellipse cx="617.6" cy="2457.1" rx="4.5" ry="2.1" transform="rotate(105 617.6 2457.1)"/><ellipse cx="495.1" cy="2428.9" rx="3.1" ry="1.4" transform="rotate(12 495.1 2428.9)"/><ellipse cx="431.2" cy="2280.7" rx="4.0" ry="1.3" transform="rotate(147 431.2 2280.7)"/><ellipse cx="467.3" cy="2036.7" rx="4.4" ry="2.0" transform="rotate(74 467.3 2036.7)"/><ellipse cx="616.5" cy="2456.7" rx="1.6" ry="1.9" transform="rotate(53 616.5 2456.7)"/><ellipse cx="443.9" cy="2304.0" rx="1.7" ry="2.8" transform="rotate(122 443.9 2304.0)"/><ellipse cx="492.4" cy="2085.7" rx="3.9" ry="2.2" transform="rotate(133 492.4 2085.7)"/><ellipse cx="698.2" cy="2457.0" rx="6.0" ry="1.9" transform="rotate(36 698.2 2457.0)"/><ellipse cx="379.4" cy="2291.9" rx="5.5" ry="1.9" transform="rotate(12 379.4 2291.9)"/><ellipse cx="566.5" cy="2427.2" rx="5.2" ry="1.1" transform="rotate(156 566.5 2427.2)"/><ellipse cx="648.6" cy="2465.3" rx="3.6" ry="1.2" transform="rotate(95 648.6 2465.3)"/><ellipse cx="463.5" cy="2068.6" rx="2.3" ry="2.2" transform="rotate(118 463.5 2068.6)"/><ellipse cx="409.8" cy="2244.8" rx="5.6" ry="1.1" transform="rotate(46 409.8 2244.8)"/><ellipse cx="435.3" cy="2248.1" rx="3.2" ry="1.2" transform="rotate(103 435.3 2248.1)"/><ellipse cx="561.0" cy="2463.3" rx="3.7" ry="1.6" transform="rotate(2 561.0 2463.3)"/><ellipse cx="470.9" cy="2390.1" rx="3.5" ry="2.7" transform="rotate(36 470.9 2390.1)"/><ellipse cx="607.2" cy="2467.7" rx="5.5" ry="2.7" transform="rotate(43 607.2 2467.7)"/><ellipse cx="662.9" cy="2464.9" rx="4.6" ry="2.7" transform="rotate(107 662.9 2464.9)"/><ellipse cx="499.2" cy="2402.2" rx="4.2" ry="1.4" transform="rotate(70 499.2 2402.2)"/><ellipse cx="456.8" cy="2283.6" rx="4.4" ry="2.3" transform="rotate(31 456.8 2283.6)"/><ellipse cx="426.6" cy="2231.1" rx="2.0" ry="2.7" transform="rotate(77 426.6 2231.1)"/><ellipse cx="433.5" cy="2296.5" rx="3.5" ry="1.8" transform="rotate(76 433.5 2296.5)"/><ellipse cx="554.5" cy="2443.2" rx="2.2" ry="1.8" transform="rotate(16 554.5 2443.2)"/><ellipse cx="411.0" cy="2348.8" rx="5.0" ry="1.2" transform="rotate(71 411.0 2348.8)"/><ellipse cx="601.6" cy="2433.8" rx="5.3" ry="2.3" transform="rotate(8 601.6 2433.8)"/><ellipse cx="433.9" cy="2292.8" rx="3.9" ry="2.2" transform="rotate(178 433.9 2292.8)"/><ellipse cx="546.0" cy="2423.5" rx="5.3" ry="1.8" transform="rotate(2 546.0 2423.5)"/><ellipse cx="450.7" cy="2208.0" rx="5.8" ry="2.1" transform="rotate(51 450.7 2208.0)"/><ellipse cx="696.3" cy="2474.7" rx="2.5" ry="2.0" transform="rotate(62 696.3 2474.7)"/><ellipse cx="467.2" cy="2086.8" rx="4.6" ry="2.7" transform="rotate(25 467.2 2086.8)"/><ellipse cx="655.9" cy="2470.6" rx="2.6" ry="1.9" transform="rotate(113 655.9 2470.6)"/><ellipse cx="449.4" cy="2240.3" rx="5.3" ry="1.3" transform="rotate(88 449.4 2240.3)"/><ellipse cx="439.4" cy="2331.9" rx="4.0" ry="1.8" transform="rotate(176 439.4 2331.9)"/><ellipse cx="412.4" cy="2268.9" rx="2.6" ry="2.4" transform="rotate(135 412.4 2268.9)"/><ellipse cx="612.9" cy="2473.1" rx="2.5" ry="2.1" transform="rotate(164 612.9 2473.1)"/><ellipse cx="423.4" cy="2235.1" rx="2.3" ry="2.7" transform="rotate(1 423.4 2235.1)"/><ellipse cx="476.6" cy="2046.8" rx="5.5" ry="1.7" transform="rotate(124 476.6 2046.8)"/><ellipse cx="558.7" cy="2436.6" rx="4.8" ry="1.8" transform="rotate(98 558.7 2436.6)"/><ellipse cx="426.5" cy="2233.0" rx="4.2" ry="1.5" transform="rotate(50 426.5 2233.0)"/><ellipse cx="639.4" cy="2479.7" rx="2.0" ry="2.1" transform="rotate(97 639.4 2479.7)"/><ellipse cx="481.1" cy="2051.1" rx="4.3" ry="1.5" transform="rotate(178 481.1 2051.1)"/><ellipse cx="603.6" cy="2454.4" rx="5.6" ry="1.1" transform="rotate(40 603.6 2454.4)"/><ellipse cx="658.8" cy="2467.3" rx="2.3" ry="2.0" transform="rotate(131 658.8 2467.3)"/><ellipse cx="509.4" cy="2407.4" rx="1.7" ry="1.7" transform="rotate(3 509.4 2407.4)"/><ellipse cx="466.9" cy="2066.0" rx="3.5" ry="1.2" transform="rotate(158 466.9 2066.0)"/><ellipse cx="429.1" cy="2280.5" rx="4.2" ry="2.1" transform="rotate(76 429.1 2280.5)"/><ellipse cx="554.0" cy="2400.2" rx="2.7" ry="2.6" transform="rotate(37 554.0 2400.2)"/><ellipse cx="397.9" cy="2298.8" rx="3.0" ry="1.7" transform="rotate(164 397.9 2298.8)"/><ellipse cx="469.7" cy="2164.1" rx="5.5" ry="1.5" transform="rotate(60 469.7 2164.1)"/><ellipse cx="645.1" cy="2453.6" rx="6.0" ry="2.5" transform="rotate(152 645.1 2453.6)"/><ellipse cx="419.3" cy="2167.8" rx="4.9" ry="2.5" transform="rotate(40 419.3 2167.8)"/><ellipse cx="428.8" cy="2153.5" rx="2.1" ry="1.8" transform="rotate(91 428.8 2153.5)"/><ellipse cx="519.0" cy="2418.0" rx="2.4" ry="1.2" transform="rotate(49 519.0 2418.0)"/><ellipse cx="457.0" cy="2144.3" rx="3.2" ry="1.3" transform="rotate(120 457.0 2144.3)"/><ellipse cx="686.1" cy="2476.5" rx="4.4" ry="1.7" transform="rotate(73 686.1 2476.5)"/><ellipse cx="405.0" cy="2228.3" rx="5.1" ry="1.9" transform="rotate(155 405.0 2228.3)"/><ellipse cx="525.3" cy="2438.0" rx="2.7" ry="1.4" transform="rotate(41 525.3 2438.0)"/><ellipse cx="657.3" cy="2468.6" rx="5.5" ry="2.5" transform="rotate(145 657.3 2468.6)"/><ellipse cx="437.0" cy="2331.5" rx="4.5" ry="1.1" transform="rotate(174 437.0 2331.5)"/><ellipse cx="641.8" cy="2466.6" rx="5.0" ry="2.5" transform="rotate(8 641.8 2466.6)"/><ellipse cx="482.5" cy="2408.1" rx="4.3" ry="2.6" transform="rotate(130 482.5 2408.1)"/><ellipse cx="423.8" cy="2157.2" rx="4.0" ry="1.0" transform="rotate(24 423.8 2157.2)"/><ellipse cx="419.5" cy="2273.8" rx="2.6" ry="2.2" transform="rotate(173 419.5 2273.8)"/><ellipse cx="445.7" cy="2344.9" rx="4.9" ry="2.2" transform="rotate(118 445.7 2344.9)"/><ellipse cx="468.7" cy="2009.7" rx="2.2" ry="1.3" transform="rotate(92 468.7 2009.7)"/><ellipse cx="497.6" cy="2409.2" rx="2.8" ry="2.7" transform="rotate(113 497.6 2409.2)"/><ellipse cx="624.7" cy="2466.3" rx="1.8" ry="1.0" transform="rotate(115 624.7 2466.3)"/><ellipse cx="420.5" cy="2329.8" rx="3.0" ry="1.3" transform="rotate(85 420.5 2329.8)"/><ellipse cx="433.4" cy="2193.7" rx="2.3" ry="2.7" transform="rotate(155 433.4 2193.7)"/><ellipse cx="424.6" cy="2292.9" rx="4.1" ry="1.8" transform="rotate(146 424.6 2292.9)"/><ellipse cx="617.3" cy="2463.5" rx="5.6" ry="1.1" transform="rotate(1 617.3 2463.5)"/><ellipse cx="441.8" cy="2368.7" rx="3.4" ry="1.9" transform="rotate(84 441.8 2368.7)"/><ellipse cx="655.1" cy="2468.1" rx="3.1" ry="1.5" transform="rotate(118 655.1 2468.1)"/><ellipse cx="443.4" cy="2151.1" rx="4.7" ry="1.0" transform="rotate(139 443.4 2151.1)"/><ellipse cx="572.6" cy="2442.4" rx="3.9" ry="1.5" transform="rotate(148 572.6 2442.4)"/><ellipse cx="503.8" cy="2402.9" rx="5.1" ry="2.1" transform="rotate(24 503.8 2402.9)"/><ellipse cx="416.7" cy="2317.7" rx="5.8" ry="1.6" transform="rotate(81 416.7 2317.7)"/><ellipse cx="689.6" cy="2466.1" rx="5.2" ry="1.2" transform="rotate(71 689.6 2466.1)"/><ellipse cx="443.9" cy="2139.4" rx="4.0" ry="1.4" transform="rotate(17 443.9 2139.4)"/><ellipse cx="414.6" cy="2323.4" rx="3.7" ry="2.3" transform="rotate(56 414.6 2323.4)"/><ellipse cx="429.0" cy="2122.5" rx="2.2" ry="2.5" transform="rotate(17 429.0 2122.5)"/><ellipse cx="579.7" cy="2434.0" rx="4.8" ry="2.4" transform="rotate(24 579.7 2434.0)"/><ellipse cx="585.0" cy="2442.2" rx="4.1" ry="2.2" transform="rotate(58 585.0 2442.2)"/><ellipse cx="428.1" cy="2127.9" rx="5.2" ry="1.4" transform="rotate(20 428.1 2127.9)"/><ellipse cx="426.9" cy="2268.0" rx="3.1" ry="2.7" transform="rotate(142 426.9 2268.0)"/><ellipse cx="657.3" cy="2476.5" rx="4.9" ry="2.7" transform="rotate(6 657.3 2476.5)"/><ellipse cx="500.9" cy="2393.7" rx="5.1" ry="1.4" transform="rotate(133 500.9 2393.7)"/><ellipse cx="421.9" cy="2253.2" rx="4.6" ry="2.6" transform="rotate(157 421.9 2253.2)"/><ellipse cx="432.8" cy="2334.2" rx="2.3" ry="1.2" transform="rotate(129 432.8 2334.2)"/><ellipse cx="657.4" cy="2456.5" rx="3.8" ry="2.1" transform="rotate(131 657.4 2456.5)"/><ellipse cx="473.8" cy="2422.1" rx="5.3" ry="1.7" transform="rotate(163 473.8 2422.1)"/><ellipse cx="605.2" cy="2449.9" rx="5.3" ry="2.8" transform="rotate(178 605.2 2449.9)"/><ellipse cx="456.6" cy="2373.4" rx="4.8" ry="2.7" transform="rotate(113 456.6 2373.4)"/><ellipse cx="476.6" cy="2027.2" rx="3.6" ry="2.4" transform="rotate(160 476.6 2027.2)"/><ellipse cx="426.8" cy="2285.9" rx="3.8" ry="1.2" transform="rotate(0 426.8 2285.9)"/><ellipse cx="466.4" cy="2385.2" rx="5.4" ry="1.3" transform="rotate(153 466.4 2385.2)"/><ellipse cx="439.0" cy="2206.5" rx="4.7" ry="1.3" transform="rotate(170 439.0 2206.5)"/><ellipse cx="677.9" cy="2482.1" rx="1.5" ry="2.2" transform="rotate(121 677.9 2482.1)"/><ellipse cx="643.4" cy="2457.9" rx="2.1" ry="2.5" transform="rotate(47 643.4 2457.9)"/><ellipse cx="477.7" cy="2056.2" rx="4.4" ry="2.0" transform="rotate(135 477.7 2056.2)"/><ellipse cx="607.8" cy="2454.5" rx="5.7" ry="2.6" transform="rotate(168 607.8 2454.5)"/><ellipse cx="588.8" cy="2449.4" rx="2.6" ry="2.6" transform="rotate(76 588.8 2449.4)"/><ellipse cx="438.1" cy="2374.7" rx="4.6" ry="2.2" transform="rotate(112 438.1 2374.7)"/><ellipse cx="457.0" cy="2379.1" rx="3.3" ry="1.5" transform="rotate(164 457.0 2379.1)"/><ellipse cx="623.7" cy="2478.2" rx="2.3" ry="1.1" transform="rotate(166 623.7 2478.2)"/><ellipse cx="671.7" cy="2472.4" rx="4.3" ry="1.0" transform="rotate(71 671.7 2472.4)"/><ellipse cx="555.1" cy="2445.3" rx="5.1" ry="2.6" transform="rotate(25 555.1 2445.3)"/><ellipse cx="549.2" cy="2435.3" rx="2.3" ry="1.6" transform="rotate(87 549.2 2435.3)"/><ellipse cx="649.7" cy="2465.7" rx="1.5" ry="1.1" transform="rotate(179 649.7 2465.7)"/><ellipse cx="496.0" cy="2382.0" rx="3.1" ry="2.5" transform="rotate(100 496.0 2382.0)"/><ellipse cx="487.8" cy="2431.7" rx="2.5" ry="1.2" transform="rotate(108 487.8 2431.7)"/><ellipse cx="620.6" cy="2455.8" rx="2.9" ry="1.3" transform="rotate(109 620.6 2455.8)"/><ellipse cx="590.2" cy="2448.8" rx="3.9" ry="2.0" transform="rotate(19 590.2 2448.8)"/><ellipse cx="467.6" cy="2391.9" rx="2.4" ry="2.8" transform="rotate(16 467.6 2391.9)"/><ellipse cx="442.2" cy="2260.4" rx="3.3" ry="1.0" transform="rotate(156 442.2 2260.4)"/><ellipse cx="426.9" cy="2180.1" rx="5.6" ry="2.7" transform="rotate(165 426.9 2180.1)"/><ellipse cx="405.6" cy="2317.1" rx="5.3" ry="1.4" transform="rotate(175 405.6 2317.1)"/><ellipse cx="463.9" cy="2077.8" rx="2.6" ry="1.4" transform="rotate(25 463.9 2077.8)"/><ellipse cx="672.1" cy="2468.9" rx="5.6" ry="1.3" transform="rotate(59 672.1 2468.9)"/><ellipse cx="464.4" cy="2165.6" rx="1.9" ry="2.6" transform="rotate(54 464.4 2165.6)"/><ellipse cx="677.1" cy="2470.2" rx="2.7" ry="1.9" transform="rotate(29 677.1 2470.2)"/><ellipse cx="439.8" cy="2308.9" rx="4.6" ry="2.1" transform="rotate(49 439.8 2308.9)"/><ellipse cx="468.6" cy="2017.9" rx="2.1" ry="1.6" transform="rotate(5 468.6 2017.9)"/><ellipse cx="420.6" cy="2293.2" rx="3.9" ry="1.6" transform="rotate(45 420.6 2293.2)"/><ellipse cx="595.5" cy="2456.1" rx="3.0" ry="1.9" transform="rotate(49 595.5 2456.1)"/><ellipse cx="570.3" cy="2436.7" rx="3.0" ry="1.8" transform="rotate(46 570.3 2436.7)"/><ellipse cx="628.0" cy="2444.9" rx="3.4" ry="1.8" transform="rotate(149 628.0 2444.9)"/><ellipse cx="421.6" cy="2162.8" rx="5.8" ry="1.5" transform="rotate(30 421.6 2162.8)"/><ellipse cx="600.9" cy="2446.8" rx="2.5" ry="1.1" transform="rotate(110 600.9 2446.8)"/><ellipse cx="669.5" cy="2469.1" rx="4.1" ry="1.8" transform="rotate(176 669.5 2469.1)"/><ellipse cx="536.0" cy="2424.9" rx="4.6" ry="2.3" transform="rotate(126 536.0 2424.9)"/><ellipse cx="453.8" cy="2094.4" rx="1.8" ry="2.7" transform="rotate(179 453.8 2094.4)"/><ellipse cx="508.1" cy="2411.3" rx="2.1" ry="1.8" transform="rotate(70 508.1 2411.3)"/><ellipse cx="466.0" cy="2154.5" rx="4.4" ry="2.4" transform="rotate(11 466.0 2154.5)"/><ellipse cx="442.2" cy="2235.8" rx="3.9" ry="2.1" transform="rotate(74 442.2 2235.8)"/><ellipse cx="635.9" cy="2462.3" rx="2.9" ry="2.4" transform="rotate(152 635.9 2462.3)"/><ellipse cx="640.9" cy="2466.1" rx="2.4" ry="1.8" transform="rotate(174 640.9 2466.1)"/><ellipse cx="523.9" cy="2401.4" rx="3.0" ry="2.8" transform="rotate(33 523.9 2401.4)"/><ellipse cx="476.8" cy="2408.6" rx="5.1" ry="2.5" transform="rotate(70 476.8 2408.6)"/><ellipse cx="441.2" cy="2206.4" rx="4.0" ry="1.5" transform="rotate(25 441.2 2206.4)"/><ellipse cx="611.8" cy="2435.6" rx="4.1" ry="1.7" transform="rotate(119 611.8 2435.6)"/><ellipse cx="691.0" cy="2467.7" rx="5.0" ry="2.6" transform="rotate(136 691.0 2467.7)"/><ellipse cx="460.0" cy="2358.9" rx="4.6" ry="2.5" transform="rotate(173 460.0 2358.9)"/><ellipse cx="435.9" cy="2111.1" rx="4.4" ry="2.5" transform="rotate(14 435.9 2111.1)"/><ellipse cx="512.1" cy="2414.3" rx="6.0" ry="1.7" transform="rotate(15 512.1 2414.3)"/><ellipse cx="593.2" cy="2457.6" rx="3.4" ry="1.2" transform="rotate(60 593.2 2457.6)"/><ellipse cx="451.4" cy="2100.0" rx="4.1" ry="1.5" transform="rotate(120 451.4 2100.0)"/><ellipse cx="654.0" cy="2458.6" rx="1.6" ry="2.7" transform="rotate(36 654.0 2458.6)"/><ellipse cx="430.6" cy="2263.1" rx="4.3" ry="1.6" transform="rotate(79 430.6 2263.1)"/><ellipse cx="507.2" cy="2436.2" rx="2.8" ry="1.7" transform="rotate(69 507.2 2436.2)"/><ellipse cx="375.7" cy="2219.1" rx="3.8" ry="1.7" transform="rotate(128 375.7 2219.1)"/><ellipse cx="609.1" cy="2459.2" rx="3.0" ry="2.7" transform="rotate(19 609.1 2459.2)"/><ellipse cx="607.8" cy="2451.9" rx="3.3" ry="2.5" transform="rotate(118 607.8 2451.9)"/><ellipse cx="687.4" cy="2471.4" rx="2.0" ry="1.9" transform="rotate(138 687.4 2471.4)"/><ellipse cx="470.9" cy="2066.2" rx="6.0" ry="1.4" transform="rotate(21 470.9 2066.2)"/><ellipse cx="453.8" cy="2221.1" rx="2.8" ry="1.8" transform="rotate(150 453.8 2221.1)"/><ellipse cx="474.4" cy="2374.7" rx="2.0" ry="1.1" transform="rotate(171 474.4 2374.7)"/><ellipse cx="445.5" cy="2263.1" rx="3.0" ry="2.2" transform="rotate(119 445.5 2263.1)"/><ellipse cx="476.4" cy="2073.6" rx="3.5" ry="1.2" transform="rotate(53 476.4 2073.6)"/><ellipse cx="433.5" cy="2146.5" rx="3.6" ry="1.6" transform="rotate(60 433.5 2146.5)"/><ellipse cx="444.1" cy="2369.0" rx="1.7" ry="2.8" transform="rotate(78 444.1 2369.0)"/><ellipse cx="662.8" cy="2467.8" rx="1.8" ry="1.2" transform="rotate(164 662.8 2467.8)"/><ellipse cx="409.3" cy="2317.3" rx="4.6" ry="1.2" transform="rotate(65 409.3 2317.3)"/><ellipse cx="391.6" cy="2253.9" rx="4.9" ry="1.2" transform="rotate(167 391.6 2253.9)"/><ellipse cx="467.6" cy="2345.7" rx="4.6" ry="1.5" transform="rotate(128 467.6 2345.7)"/><ellipse cx="459.5" cy="2312.8" rx="2.4" ry="1.4" transform="rotate(155 459.5 2312.8)"/><ellipse cx="485.2" cy="2414.7" rx="5.0" ry="2.6" transform="rotate(29 485.2 2414.7)"/></g><g fill="none" stroke="#000" stroke-width="1.6"><!--Shag--><ellipse cx="1549" cy="2406" rx="3" ry="2"/><ellipse cx="1554" cy="2408" rx="2.5" ry="1.8"/></g>
<rect x="177.6" y="177.4" width="1673.9" height="2309.9" fill="none" stroke="#000" stroke-width="3"/>
<text x="1003" y="81.3" font-size="67" text-anchor="middle" textLength="934" lengthAdjust="spacingAndGlyphs">SAMeT - Temperatura Máxima</text>
<text x="1023" y="153.8" font-size="67" text-anchor="middle" textLength="724" lengthAdjust="spacingAndGlyphs">Válida para 12/04/2025</text>
<text x="157.3" y="294.8" font-size="53" text-anchor="end" textLength="126.2" lengthAdjust="spacingAndGlyphs">10°N</text>
<text x="157.5" y="629.6" font-size="53" text-anchor="end" textLength="56.7" lengthAdjust="spacingAndGlyphs">0°</text>
<text x="157.2" y="964.4" font-size="53" text-anchor="end" textLength="120.3" lengthAdjust="spacingAndGlyphs">10°S</text>
<text x="157.2" y="1299.2" font-size="53" text-anchor="end" textLength="120.3" lengthAdjust="spacingAndGlyphs">20°S</text>
<text x="157.2" y="1634.0" font-size="53" text-anchor="end" textLength="120.3" lengthAdjust="spacingAndGlyphs">30°S</text>
<text x="157.2" y="1968.8" font-size="53" text-anchor="end" textLength="120.3" lengthAdjust="spacingAndGlyphs">40°S</text>
<text x="157.2" y="2303.6" font-size="53" text-anchor="end" textLength="120.3" lengthAdjust="spacingAndGlyphs">50°S</text>
<text x="277.6" y="2547.2" font-size="53" text-anchor="middle" textLength="133.5" lengthAdjust="spacingAndGlyphs">80°W</text>
<text x="612.4" y="2547.2" font-size="53" text-anchor="middle" textLength="133.5" lengthAdjust="spacingAndGlyphs">70°W</text>
<text x="947.2" y="2547.2" font-size="53" text-anchor="middle" textLength="133.5" lengthAdjust="spacingAndGlyphs">60°W</text>
<text x="1282.0" y="2547.2" font-size="53" text-anchor="middle" textLength="133.5" lengthAdjust="spacingAndGlyphs">50°W</text>
<text x="1616.8" y="2547.2" font-size="53" text-anchor="middle" textLength="133.5" lengthAdjust="spacingAndGlyphs">40°W</text>
<rect x="1893.7" y="2359.11" width="50.6" height="24.19" fill="#063264"/>
<rect x="1893.7" y="2335.52" width="50.6" height="24.19" fill="#09386d"/>
<rect x="1893.7" y="2311.93" width="50.6" height="24.19" fill="#0d3f76"/>
<rect x="1893.7" y="2288.34" width="50.6" height="24.19" fill="#10457e"/>
<rect x="1893.7" y="2264.75" width="50.6" height="24.19" fill="#124984"/>
<rect x="1893.7" y="2241.16" width="50.6" height="24.19" fill="#15508d"/>
<rect x="1893.7" y="2217.57" width="50.6" height="24.19" fill="#195696"/>
<rect x="1893.7" y="2193.98" width="50.6" height="24.19" fill="#1c5c9f"/>
<rect x="1893.7" y="2170.39" width="50.6" height="24.19" fill="#1f63a8"/>
<rect x="1893.7" y="2146.80" width="50.6" height="24.19" fill="#2369ad"/>
<rect x="1893.7" y="2123.21" width="50.6" height="24.19" fill="#276eb0"/>
<rect x="1893.7" y="2099.62" width="50.6" height="24.19" fill="#2b73b3"/>
<rect x="1893.7" y="2076.03" width="50.6" height="24.19" fill="#2e77b5"/>
<rect x="1893.7" y="2052.44" width="50.6" height="24.19" fill="#327cb7"/>
<rect x="1893.7" y="2028.85" width="50.6" height="24.19" fill="#3681ba"/>
<rect x="1893.7" y="2005.26" width="50.6" height="24.19" fill="#3a87bd"/>
<rect x="1893.7" y="1981.67" width="50.6" height="24.19" fill="#3e8cbf"/>
<rect x="1893.7" y="1958.08" width="50.6" height="24.19" fill="#4291c2"/>
<rect x="1893.7" y="1934.49" width="50.6" height="24.19" fill="#4997c5"/>
<rect x="1893.7" y="1910.90" width="50.6" height="24.19" fill="#529dc8"/>
<rect x="1893.7" y="1887.31" width="50.6" height="24.19" fill="#59a1ca"/>
<rect x="1893.7" y="1863.72" width="50.6" height="24.19" fill="#62a7ce"/>
<rect x="1893.7" y="1840.13" width="50.6" height="24.19" fill="#6bacd1"/>
<rect x="1893.7" y="1816.54" width="50.6" height="24.19" fill="#75b2d4"/>
<rect x="1893.7" y="1792.95" width="50.6" height="24.19" fill="#7eb8d7"/>
<rect x="1893.7" y="1769.36" width="50.6" height="24.19" fill="#87beda"/>
<rect x="1893.7" y="1745.77" width="50.6" height="24.19" fill="#90c4dd"/>
<rect x="1893.7" y="1722.18" width="50.6" height="24.19" fill="#98c8e0"/>
<rect x="1893.7" y="1698.59" width="50.6" height="24.19" fill="#9dcbe1"/>
<rect x="1893.7" y="1675.00" width="50.6" height="24.19" fill="#a5cee3"/>
<rect x="1893.7" y="1651.41" width="50.6" height="24.19" fill="#acd2e5"/>
<rect x="1893.7" y="1627.82" width="50.6" height="24.19" fill="#b3d6e8"/>
<rect x="1893.7" y="1604.23" width="50.6" height="24.19" fill="#bbdaea"/>
<rect x="1893.7" y="1580.64" width="50.6" height="24.19" fill="#c2ddec"/>
<rect x="1893.7" y="1557.05" width="50.6" height="24.19" fill="#cae1ee"/>
<rect x="1893.7" y="1533.46" width="50.6" height="24.19" fill="#d1e5f0"/>
<rect x="1893.7" y="1509.87" width="50.6" height="24.19" fill="#d4e6f1"/>
<rect x="1893.7" y="1486.28" width="50.6" height="24.19" fill="#d8e9f1"/>
<rect x="1893.7" y="1462.69" width="50.6" height="24.19" fill="#ddebf2"/>
<rect x="1893.7" y="1439.10" width="50.6" height="24.19" fill="#e1edf3"/>
<rect x="1893.7" y="1415.51" width="50.6" height="24.19" fill="#e6eff4"/>
<rect x="1893.7" y="1391.92" width="50.6" height="24.19" fill="#eaf1f5"/>
<rect x="1893.7" y="1368.33" width="50.6" height="24.19" fill="#eff3f5"/>
<rect x="1893.7" y="1344.74" width="50.6" height="24.19" fill="#f3f5f6"/>
<rect x="1893.7" y="1321.15" width="50.6" height="24.19" fill="#f7f6f6"/>
<rect x="1893.7" y="1297.56" width="50.6" height="24.19" fill="#f8f4f2"/>
<rect x="1893.7" y="1273.97" width="50.6" height="24.19" fill="#f8f1ed"/>
<rect x="1893.7" y="1250.38" width="50.6" height="24.19" fill="#f9eee7"/>
<rect x="1893.7" y="1226.79" width="50.6" height="24.19" fill="#faeae1"/>
<rect x="1893.7" y="1203.20" width="50.6" height="24.19" fill="#fae7dc"/>
<rect x="1893.7" y="1179.61" width="50.6" height="24.19" fill="#fbe4d6"/>
<rect x="1893.7" y="1156.02" width="50.6" height="24.19" fill="#fce0d0"/>
<rect x="1893.7" y="1132.43" width="50.6" height="24.19" fill="#fdddcb"/>
<rect x="1893.7" y="1108.84" width="50.6" height="24.19" fill="#fddbc7"/>
<rect x="1893.7" y="1085.25" width="50.6" height="24.19" fill="#fcd5bf"/>
<rect x="1893.7" y="1061.66" width="50.6" height="24.19" fill="#fbceb7"/>
<rect x="1893.7" y="1038.07" width="50.6" height="24.19" fill="#fac8af"/>
<rect x="1893.7" y="1014.48" width="50.6" height="24.19" fill="#f9c2a7"/>
<rect x="1893.7" y="990.89" width="50.6" height="24.19" fill="#f8bb9e"/>
<rect x="1893.7" y="967.30" width="50.6" height="24.19" fill="#f7b596"/>
<rect x="1893.7" y="943.71" width="50.6" height="24.19" fill="#f6af8e"/>
<rect x="1893.7" y="920.12" width="50.6" height="24.19" fill="#f5aa89"/>
<rect x="1893.7" y="896.53" width="50.6" height="24.19" fill="#f3a481"/>
<rect x="1893.7" y="872.94" width="50.6" height="24.19" fill="#f09c7b"/>
<rect x="1893.7" y="849.35" width="50.6" height="24.19" fill="#ec9374"/>
<rect x="1893.7" y="825.76" width="50.6" height="24.19" fill="#e98b6e"/>
<rect x="1893.7" y="802.17" width="50.6" height="24.19" fill="#e58368"/>
<rect x="1893.7" y="778.58" width="50.6" height="24.19" fill="#e27b62"/>
<rect x="1893.7" y="754.99" width="50.6" height="24.19" fill="#de735c"/>
<rect x="1893.7" y="731.40" width="50.6" height="24.19" fill="#dc6e57"/>
<rect x="1893.7" y="707.81" width="50.6" height="24.19" fill="#d86551"/>
<rect x="1893.7" y="684.22" width="50.6" height="24.19" fill="#d55d4c"/>
<rect x="1893.7" y="660.63" width="50.6" height="24.19" fill="#d05548"/>
<rect x="1893.7" y="637.04" width="50.6" height="24.19" fill="#cc4c44"/>
<rect x="1893.7" y="613.45" width="50.6" height="24.19" fill="#c84440"/>
<rect x="1893.7" y="589.86" width="50.6" height="24.19" fill="#c43b3c"/>
<rect x="1893.7" y="566.27" width="50.6" height="24.19" fill="#bf3338"/>
<rect x="1893.7" y="542.68" width="50.6" height="24.19" fill="#bd2d35"/>
<rect x="1893.7" y="519.09" width="50.6" height="24.19" fill="#b82531"/>
<rect x="1893.7" y="495.50" width="50.6" height="24.19" fill="#b41c2d"/>
<rect x="1893.7" y="471.81" width="50.6" height="24.29" fill="#ae172a"/>
<rect x="1893.7" y="448.12" width="50.6" height="24.29" fill="#a51429"/>
<rect x="1893.7" y="424.43" width="50.6" height="24.29" fill="#9c1127"/>
<rect x="1893.7" y="400.74" width="50.6" height="24.29" fill="#930e26"/>
<rect x="1893.7" y="377.06" width="50.6" height="24.29" fill="#8a0b25"/>
<rect x="1893.7" y="353.37" width="50.6" height="24.29" fill="#840924"/>
<rect x="1893.7" y="329.68" width="50.6" height="24.29" fill="#7c0722"/>
<rect x="1893.7" y="305.99" width="50.6" height="24.29" fill="#730421"/>
<rect x="1893.7" y="282.30" width="50.6" height="24.29" fill="#6a011f"/>
<polygon points="1893.7,282.8 1919.0,178.4 1944.3,282.8" fill="#67001f"/>
<polygon points="1893.7,2382.2 1919.0,2487 1944.3,2382.2" fill="#053061"/>
<polygon points="1893.7,282.3 1919.0,178.4 1944.3,282.3 1944.3,2382.7 1919.0,2487 1893.7,2382.7" fill="none" stroke="#000" stroke-width="3" stroke-linejoin="miter"/>
<line x1="1944.3" y1="282.3" x2="1958.9" y2="282.3" stroke="#000" stroke-width="3"/>
<text x="1974.5" y="304.3" font-size="53">40</text>
<line x1="1944.3" y1="495.5" x2="1958.9" y2="495.5" stroke="#000" stroke-width="3"/>
<text x="1974.5" y="517.5" font-size="53">35</text>
<line x1="1944.3" y1="731.4" x2="1958.9" y2="731.4" stroke="#000" stroke-width="3"/>
<text x="1974.5" y="753.4" font-size="53">30</text>
<line x1="1944.3" y1="967.3" x2="1958.9" y2="967.3" stroke="#000" stroke-width="3"/>
<text x="1974.5" y="989.3" font-size="53">25</text>
<line x1="1944.3" y1="1203.2" x2="1958.9" y2="1203.2" stroke="#000" stroke-width="3"/>
<text x="1974.5" y="1225.2" font-size="53">20</text>
<line x1="1944.3" y1="1439.1" x2="1958.9" y2="1439.1" stroke="#000" stroke-width="3"/>
<text x="1974.5" y="1461.1" font-size="53">15</text>
<line x1="1944.3" y1="1675.0" x2="1958.9" y2="1675.0" stroke="#000" stroke-width="3"/>
<text x="1974.5" y="1697.0" font-size="53">10</text>
<line x1="1944.3" y1="1910.9" x2="1958.9" y2="1910.9" stroke="#000" stroke-width="3"/>
<text x="1974.5" y="1932.9" font-size="53">5</text>
<line x1="1944.3" y1="2146.8" x2="1958.9" y2="2146.8" stroke="#000" stroke-width="3"/>
<text x="1974.5" y="2168.8" font-size="53">0</text>
<line x1="1944.3" y1="2382.7" x2="1958.9" y2="2382.7" stroke="#000" stroke-width="3"/>
<text x="1974.5" y="2404.7" font-size="53">-5</text>
<text x="1842.5" y="175.5" font-size="53" textLength="97.9" lengthAdjust="spacingAndGlyphs">(°C)</text>
<g>
<path d="M1641,2350 C1641,2395 1675,2425.5 1712,2425.5 C1760,2425.5 1795,2385 1797.5,2331 L1805.7,2331 L1781.3,2306 L1755.8,2331 L1764,2331 C1762,2372 1735,2403.5 1700,2403.5 C1672,2403.5 1648,2385 1641,2350 Z" fill="#0a72b7"/>
<path d="M1641.5,2358 C1637,2318 1665,2293 1696,2293 C1722,2293 1736,2313 1736.5,2340.4 L1744.5,2340.4 L1719.2,2363 L1697.8,2340.4 L1706,2340.4 C1706.5,2326 1697,2318.5 1682,2318.5 C1662,2318.5 1646,2336 1643,2362" fill="none" stroke="#0a72b7" stroke-width="1.4"/>
<circle cx="1718.7" cy="2382.7" r="16.8" fill="#f39200"/>
<text x="1651.5" y="2370.5" font-size="27" font-weight="bold" font-style="italic" fill="#111" textLength="50.5" lengthAdjust="spacingAndGlyphs">INPE</text>
</g>

<g font-size="46" text-anchor="middle" fill="#fff" stroke="#000" stroke-width="8" stroke-linejoin="round" paint-order="stroke"><text x="723.0" y="270.3">26</text><text x="1019.0" y="395.8">30</text><text x="1120.6" y="426.4">32</text><text x="1208.8" y="457.1">31</text><text x="481.4" y="469.3">20</text><text x="933.5" y="529.4">33</text><text x="337.1" y="632.4">16</text><text x="1254.5" y="621.5">31</text><text x="1341.0" y="671.4">32</text><text x="1482.0" y="707.3">29</text><text x="954.7" y="728.1">28</text><text x="1673.5" y="750.1">32</text><text x="1531.7" y="793.6">32</text><text x="1786.0" y="817.3">31</text><text x="1798.0" y="860.1">33</text><text x="1797.0" y="893.0">31</text><text x="825.5" y="915.4">30</text><text x="1768.2" y="945.8">32</text><text x="694.6" y="957.0">32</text><text x="1344.8" y="965.9">31</text><text x="1723.6" y="988.1">32</text><text x="386.0" y="1024.8">28</text><text x="1675.5" y="1058.0">31</text><text x="1086.9" y="1144.6">33</text><text x="1360.4" y="1150.7">28</text><text x="1316.0" y="1180.6">31</text><text x="681.5" y="1175.0">13</text><text x="1494.0" y="1290.1">28</text><text x="1614.3" y="1303.3">30</text><text x="1134.8" y="1307.8">31</text><text x="1517.5" y="1389.3">27</text><text x="1403.0" y="1412.1">26</text><text x="1036.5" y="1469.7">27</text><text x="1314.8" y="1474.5">24</text><text x="1339.0" y="1547.4">27</text><text x="1250.4" y="1628.7">28</text><text x="601.5" y="1740.1">23</text><text x="1009.0" y="1787.3">24</text><text x="1083.2" y="1789.0">25</text></g>
</svg></body></html>
